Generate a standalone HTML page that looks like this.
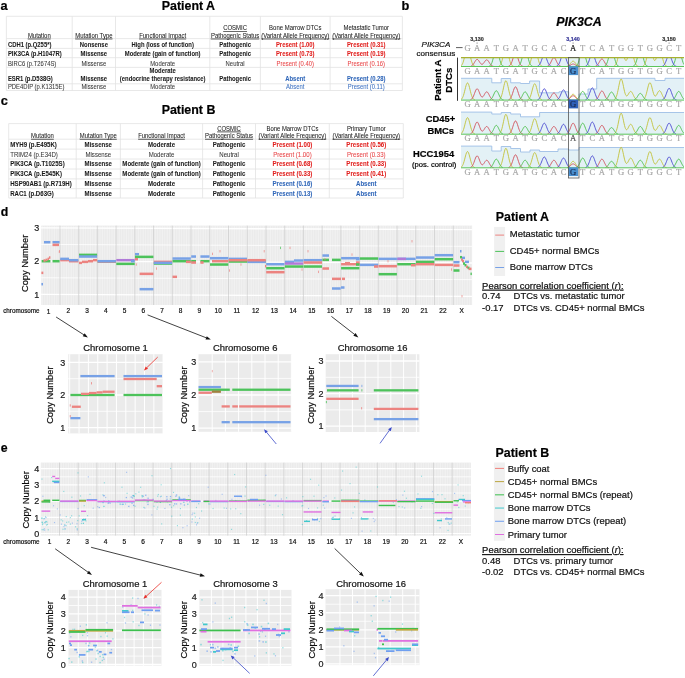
<!DOCTYPE html><html><head><meta charset="utf-8"><style>html,body{margin:0;padding:0;background:#fff;width:685px;height:678px;overflow:hidden}svg{display:block;filter:blur(0.3px)}text{stroke:currentColor;stroke-width:0.2px}text.tb{stroke-width:0.06px}</style></head><body><svg width="685" height="678" viewBox="0 0 685 678"><text x="0.60" y="9.90" font-size="12.8" font-weight="bold" font-style="normal" text-anchor="start" fill="#000" color="#000" font-family="Liberation Sans" >a</text>
<text x="188.40" y="10.20" font-size="12.4" font-weight="bold" font-style="normal" text-anchor="middle" fill="#000" color="#000" font-family="Liberation Sans" >Patient A</text>
<line x1="6.40" y1="16.30" x2="6.40" y2="90.50" stroke="#e2e2e2" stroke-width="0.8" />
<line x1="72.20" y1="16.30" x2="72.20" y2="90.50" stroke="#e2e2e2" stroke-width="0.8" />
<line x1="115.50" y1="16.30" x2="115.50" y2="90.50" stroke="#e2e2e2" stroke-width="0.8" />
<line x1="209.80" y1="16.30" x2="209.80" y2="90.50" stroke="#e2e2e2" stroke-width="0.8" />
<line x1="260.40" y1="16.30" x2="260.40" y2="90.50" stroke="#e2e2e2" stroke-width="0.8" />
<line x1="330.10" y1="16.30" x2="330.10" y2="90.50" stroke="#e2e2e2" stroke-width="0.8" />
<line x1="402.40" y1="16.30" x2="402.40" y2="90.50" stroke="#e2e2e2" stroke-width="0.8" />
<line x1="6.40" y1="16.30" x2="402.40" y2="16.30" stroke="#e2e2e2" stroke-width="0.8" />
<line x1="6.40" y1="38.60" x2="402.40" y2="38.60" stroke="#e2e2e2" stroke-width="0.8" />
<line x1="6.40" y1="48.40" x2="402.40" y2="48.40" stroke="#e2e2e2" stroke-width="0.8" />
<line x1="6.40" y1="57.70" x2="402.40" y2="57.70" stroke="#e2e2e2" stroke-width="0.8" />
<line x1="6.40" y1="67.40" x2="402.40" y2="67.40" stroke="#e2e2e2" stroke-width="0.8" />
<line x1="6.40" y1="83.80" x2="402.40" y2="83.80" stroke="#e2e2e2" stroke-width="0.8" />
<line x1="6.40" y1="90.50" x2="402.40" y2="90.50" stroke="#e2e2e2" stroke-width="0.8" />
<text class="tb" transform="translate(39.30,37.60) scale(0.915,1)" font-size="6.52" font-weight="normal" font-style="normal" text-anchor="middle" fill="#222" color="#222" font-family="Liberation Sans" text-decoration="underline">Mutation</text>
<text class="tb" transform="translate(93.85,37.60) scale(0.915,1)" font-size="6.52" font-weight="normal" font-style="normal" text-anchor="middle" fill="#222" color="#222" font-family="Liberation Sans" text-decoration="underline">Mutation Type</text>
<text class="tb" transform="translate(162.65,37.60) scale(0.915,1)" font-size="6.52" font-weight="normal" font-style="normal" text-anchor="middle" fill="#222" color="#222" font-family="Liberation Sans" text-decoration="underline">Functional Impact</text>
<text class="tb" transform="translate(235.10,30.20) scale(0.915,1)" font-size="6.52" font-weight="normal" font-style="normal" text-anchor="middle" fill="#222" color="#222" font-family="Liberation Sans" text-decoration="underline">COSMIC</text>
<text class="tb" transform="translate(235.10,37.60) scale(0.915,1)" font-size="6.52" font-weight="normal" font-style="normal" text-anchor="middle" fill="#222" color="#222" font-family="Liberation Sans" text-decoration="underline">Pathogenic Status</text>
<text class="tb" transform="translate(295.25,30.20) scale(0.915,1)" font-size="6.52" font-weight="normal" font-style="normal" text-anchor="middle" fill="#222" color="#222" font-family="Liberation Sans" >Bone Marrow DTCs</text>
<text class="tb" transform="translate(295.25,37.60) scale(0.915,1)" font-size="6.52" font-weight="normal" font-style="normal" text-anchor="middle" fill="#222" color="#222" font-family="Liberation Sans" text-decoration="underline">(Variant Allele Frequency)</text>
<text class="tb" transform="translate(366.25,30.20) scale(0.915,1)" font-size="6.52" font-weight="normal" font-style="normal" text-anchor="middle" fill="#222" color="#222" font-family="Liberation Sans" >Metastatic Tumor</text>
<text class="tb" transform="translate(366.25,37.60) scale(0.915,1)" font-size="6.52" font-weight="normal" font-style="normal" text-anchor="middle" fill="#222" color="#222" font-family="Liberation Sans" text-decoration="underline">(Variant Allele Frequency)</text>
<text class="tb" transform="translate(7.90,46.60) scale(0.905,1)" font-size="6.52" font-weight="bold" font-style="normal" text-anchor="start" fill="#1a1a1a" color="#1a1a1a" font-family="Liberation Sans" >CDH1 (p.Q255*)</text>
<text class="tb" transform="translate(93.85,46.60) scale(0.905,1)" font-size="6.52" font-weight="bold" font-style="normal" text-anchor="middle" fill="#1a1a1a" color="#1a1a1a" font-family="Liberation Sans" >Nonsense</text>
<text class="tb" transform="translate(162.65,46.60) scale(0.905,1)" font-size="6.52" font-weight="bold" font-style="normal" text-anchor="middle" fill="#1a1a1a" color="#1a1a1a" font-family="Liberation Sans" >High (loss of function)</text>
<text class="tb" transform="translate(235.10,46.60) scale(0.905,1)" font-size="6.52" font-weight="bold" font-style="normal" text-anchor="middle" fill="#1a1a1a" color="#1a1a1a" font-family="Liberation Sans" >Pathogenic</text>
<text class="tb" transform="translate(295.25,46.60) scale(0.905,1)" font-size="6.52" font-weight="bold" font-style="normal" text-anchor="middle" fill="#e0201e" color="#e0201e" font-family="Liberation Sans" >Present (1.00)</text>
<text class="tb" transform="translate(366.25,46.60) scale(0.905,1)" font-size="6.52" font-weight="bold" font-style="normal" text-anchor="middle" fill="#e0201e" color="#e0201e" font-family="Liberation Sans" >Present (0.31)</text>
<text class="tb" transform="translate(7.90,55.90) scale(0.905,1)" font-size="6.52" font-weight="bold" font-style="normal" text-anchor="start" fill="#1a1a1a" color="#1a1a1a" font-family="Liberation Sans" >PIK3CA (p.H1047R)</text>
<text class="tb" transform="translate(93.85,55.90) scale(0.905,1)" font-size="6.52" font-weight="bold" font-style="normal" text-anchor="middle" fill="#1a1a1a" color="#1a1a1a" font-family="Liberation Sans" >Missense</text>
<text class="tb" transform="translate(162.65,55.90) scale(0.905,1)" font-size="6.52" font-weight="bold" font-style="normal" text-anchor="middle" fill="#1a1a1a" color="#1a1a1a" font-family="Liberation Sans" >Moderate (gain of function)</text>
<text class="tb" transform="translate(235.10,55.90) scale(0.905,1)" font-size="6.52" font-weight="bold" font-style="normal" text-anchor="middle" fill="#1a1a1a" color="#1a1a1a" font-family="Liberation Sans" >Pathogenic</text>
<text class="tb" transform="translate(295.25,55.90) scale(0.905,1)" font-size="6.52" font-weight="bold" font-style="normal" text-anchor="middle" fill="#e0201e" color="#e0201e" font-family="Liberation Sans" >Present (0.73)</text>
<text class="tb" transform="translate(366.25,55.90) scale(0.905,1)" font-size="6.52" font-weight="bold" font-style="normal" text-anchor="middle" fill="#e0201e" color="#e0201e" font-family="Liberation Sans" >Present (0.19)</text>
<text class="tb" transform="translate(7.90,65.50) scale(0.905,1)" font-size="6.52" font-weight="normal" font-style="normal" text-anchor="start" fill="#383838" color="#383838" font-family="Liberation Sans" >BIRC6 (p.T2674S)</text>
<text class="tb" transform="translate(93.85,65.50) scale(0.905,1)" font-size="6.52" font-weight="normal" font-style="normal" text-anchor="middle" fill="#383838" color="#383838" font-family="Liberation Sans" >Missense</text>
<text class="tb" transform="translate(162.65,65.50) scale(0.905,1)" font-size="6.52" font-weight="normal" font-style="normal" text-anchor="middle" fill="#383838" color="#383838" font-family="Liberation Sans" >Moderate</text>
<text class="tb" transform="translate(235.10,65.50) scale(0.905,1)" font-size="6.52" font-weight="normal" font-style="normal" text-anchor="middle" fill="#383838" color="#383838" font-family="Liberation Sans" >Neutral</text>
<text class="tb" transform="translate(295.25,65.50) scale(0.905,1)" font-size="6.52" font-weight="normal" font-style="normal" text-anchor="middle" fill="#e8484a" color="#e8484a" font-family="Liberation Sans" >Present (0.40)</text>
<text class="tb" transform="translate(366.25,65.50) scale(0.905,1)" font-size="6.52" font-weight="normal" font-style="normal" text-anchor="middle" fill="#e8484a" color="#e8484a" font-family="Liberation Sans" >Present (0.16)</text>
<text class="tb" transform="translate(7.90,81.30) scale(0.905,1)" font-size="6.52" font-weight="bold" font-style="normal" text-anchor="start" fill="#1a1a1a" color="#1a1a1a" font-family="Liberation Sans" >ESR1 (p.D538G)</text>
<text class="tb" transform="translate(93.85,81.30) scale(0.905,1)" font-size="6.52" font-weight="bold" font-style="normal" text-anchor="middle" fill="#1a1a1a" color="#1a1a1a" font-family="Liberation Sans" >Missense</text>
<text class="tb" transform="translate(162.65,73.40) scale(0.905,1)" font-size="6.52" font-weight="bold" font-style="normal" text-anchor="middle" fill="#1a1a1a" color="#1a1a1a" font-family="Liberation Sans" >Moderate</text>
<text class="tb" transform="translate(162.65,81.30) scale(0.905,1)" font-size="6.52" font-weight="bold" font-style="normal" text-anchor="middle" fill="#1a1a1a" color="#1a1a1a" font-family="Liberation Sans" >(endocrine therapy resistance)</text>
<text class="tb" transform="translate(235.10,81.30) scale(0.905,1)" font-size="6.52" font-weight="bold" font-style="normal" text-anchor="middle" fill="#1a1a1a" color="#1a1a1a" font-family="Liberation Sans" >Pathogenic</text>
<text class="tb" transform="translate(295.25,81.30) scale(0.905,1)" font-size="6.52" font-weight="bold" font-style="normal" text-anchor="middle" fill="#2f66b8" color="#2f66b8" font-family="Liberation Sans" >Absent</text>
<text class="tb" transform="translate(366.25,81.30) scale(0.905,1)" font-size="6.52" font-weight="bold" font-style="normal" text-anchor="middle" fill="#2f66b8" color="#2f66b8" font-family="Liberation Sans" >Present (0.28)</text>
<text class="tb" transform="translate(7.90,89.00) scale(0.905,1)" font-size="6.52" font-weight="normal" font-style="normal" text-anchor="start" fill="#383838" color="#383838" font-family="Liberation Sans" >PDE4DIP (p.K1315E)</text>
<text class="tb" transform="translate(93.85,89.00) scale(0.905,1)" font-size="6.52" font-weight="normal" font-style="normal" text-anchor="middle" fill="#383838" color="#383838" font-family="Liberation Sans" >Missense</text>
<text class="tb" transform="translate(162.65,89.00) scale(0.905,1)" font-size="6.52" font-weight="normal" font-style="normal" text-anchor="middle" fill="#383838" color="#383838" font-family="Liberation Sans" >Moderate</text>
<text class="tb" transform="translate(295.25,89.00) scale(0.905,1)" font-size="6.52" font-weight="normal" font-style="normal" text-anchor="middle" fill="#3f72c2" color="#3f72c2" font-family="Liberation Sans" >Absent</text>
<text class="tb" transform="translate(366.25,89.00) scale(0.905,1)" font-size="6.52" font-weight="normal" font-style="normal" text-anchor="middle" fill="#3f72c2" color="#3f72c2" font-family="Liberation Sans" >Present (0.11)</text>
<text x="0.80" y="105.40" font-size="12.8" font-weight="bold" font-style="normal" text-anchor="start" fill="#000" color="#000" font-family="Liberation Sans" >c</text>
<text x="188.50" y="113.60" font-size="12.4" font-weight="bold" font-style="normal" text-anchor="middle" fill="#000" color="#000" font-family="Liberation Sans" >Patient B</text>
<line x1="8.70" y1="123.60" x2="8.70" y2="198.00" stroke="#e2e2e2" stroke-width="0.8" />
<line x1="76.20" y1="123.60" x2="76.20" y2="198.00" stroke="#e2e2e2" stroke-width="0.8" />
<line x1="120.40" y1="123.60" x2="120.40" y2="198.00" stroke="#e2e2e2" stroke-width="0.8" />
<line x1="202.60" y1="123.60" x2="202.60" y2="198.00" stroke="#e2e2e2" stroke-width="0.8" />
<line x1="255.50" y1="123.60" x2="255.50" y2="198.00" stroke="#e2e2e2" stroke-width="0.8" />
<line x1="329.30" y1="123.60" x2="329.30" y2="198.00" stroke="#e2e2e2" stroke-width="0.8" />
<line x1="403.30" y1="123.60" x2="403.30" y2="198.00" stroke="#e2e2e2" stroke-width="0.8" />
<line x1="8.70" y1="123.60" x2="403.30" y2="123.60" stroke="#e2e2e2" stroke-width="0.8" />
<line x1="8.70" y1="139.20" x2="403.30" y2="139.20" stroke="#e2e2e2" stroke-width="0.8" />
<line x1="8.70" y1="149.10" x2="403.30" y2="149.10" stroke="#e2e2e2" stroke-width="0.8" />
<line x1="8.70" y1="159.00" x2="403.30" y2="159.00" stroke="#e2e2e2" stroke-width="0.8" />
<line x1="8.70" y1="169.00" x2="403.30" y2="169.00" stroke="#e2e2e2" stroke-width="0.8" />
<line x1="8.70" y1="178.90" x2="403.30" y2="178.90" stroke="#e2e2e2" stroke-width="0.8" />
<line x1="8.70" y1="188.70" x2="403.30" y2="188.70" stroke="#e2e2e2" stroke-width="0.8" />
<line x1="8.70" y1="198.00" x2="403.30" y2="198.00" stroke="#e2e2e2" stroke-width="0.8" />
<text class="tb" transform="translate(42.45,137.80) scale(0.88,1)" font-size="6.74" font-weight="normal" font-style="normal" text-anchor="middle" fill="#222" color="#222" font-family="Liberation Sans" text-decoration="underline">Mutation</text>
<text class="tb" transform="translate(98.30,137.80) scale(0.88,1)" font-size="6.74" font-weight="normal" font-style="normal" text-anchor="middle" fill="#222" color="#222" font-family="Liberation Sans" text-decoration="underline">Mutation Type</text>
<text class="tb" transform="translate(161.50,137.80) scale(0.88,1)" font-size="6.74" font-weight="normal" font-style="normal" text-anchor="middle" fill="#222" color="#222" font-family="Liberation Sans" text-decoration="underline">Functional Impact</text>
<text class="tb" transform="translate(229.05,130.50) scale(0.88,1)" font-size="6.74" font-weight="normal" font-style="normal" text-anchor="middle" fill="#222" color="#222" font-family="Liberation Sans" text-decoration="underline">COSMIC</text>
<text class="tb" transform="translate(229.05,137.80) scale(0.88,1)" font-size="6.74" font-weight="normal" font-style="normal" text-anchor="middle" fill="#222" color="#222" font-family="Liberation Sans" text-decoration="underline">Pathogenic Status</text>
<text class="tb" transform="translate(292.40,130.50) scale(0.88,1)" font-size="6.74" font-weight="normal" font-style="normal" text-anchor="middle" fill="#222" color="#222" font-family="Liberation Sans" >Bone Marrow DTCs</text>
<text class="tb" transform="translate(292.40,137.80) scale(0.88,1)" font-size="6.74" font-weight="normal" font-style="normal" text-anchor="middle" fill="#222" color="#222" font-family="Liberation Sans" text-decoration="underline">(Variant Allele Frequency)</text>
<text class="tb" transform="translate(366.30,130.50) scale(0.88,1)" font-size="6.74" font-weight="normal" font-style="normal" text-anchor="middle" fill="#222" color="#222" font-family="Liberation Sans" >Primary Tumor</text>
<text class="tb" transform="translate(366.30,137.80) scale(0.88,1)" font-size="6.74" font-weight="normal" font-style="normal" text-anchor="middle" fill="#222" color="#222" font-family="Liberation Sans" text-decoration="underline">(Variant Allele Frequency)</text>
<text class="tb" transform="translate(10.20,146.60) scale(0.905,1)" font-size="6.74" font-weight="bold" font-style="normal" text-anchor="start" fill="#1a1a1a" color="#1a1a1a" font-family="Liberation Sans" >MYH9 (p.E495K)</text>
<text class="tb" transform="translate(98.30,146.60) scale(0.905,1)" font-size="6.74" font-weight="bold" font-style="normal" text-anchor="middle" fill="#1a1a1a" color="#1a1a1a" font-family="Liberation Sans" >Missense</text>
<text class="tb" transform="translate(161.50,146.60) scale(0.905,1)" font-size="6.74" font-weight="bold" font-style="normal" text-anchor="middle" fill="#1a1a1a" color="#1a1a1a" font-family="Liberation Sans" >Moderate</text>
<text class="tb" transform="translate(229.05,146.60) scale(0.905,1)" font-size="6.74" font-weight="bold" font-style="normal" text-anchor="middle" fill="#1a1a1a" color="#1a1a1a" font-family="Liberation Sans" >Pathogenic</text>
<text class="tb" transform="translate(292.40,146.60) scale(0.905,1)" font-size="6.74" font-weight="bold" font-style="normal" text-anchor="middle" fill="#e0201e" color="#e0201e" font-family="Liberation Sans" >Present (1.00)</text>
<text class="tb" transform="translate(366.30,146.60) scale(0.905,1)" font-size="6.74" font-weight="bold" font-style="normal" text-anchor="middle" fill="#e0201e" color="#e0201e" font-family="Liberation Sans" >Present (0.56)</text>
<text class="tb" transform="translate(10.20,156.52) scale(0.905,1)" font-size="6.74" font-weight="normal" font-style="normal" text-anchor="start" fill="#383838" color="#383838" font-family="Liberation Sans" >TRIM24 (p.E34D)</text>
<text class="tb" transform="translate(98.30,156.52) scale(0.905,1)" font-size="6.74" font-weight="normal" font-style="normal" text-anchor="middle" fill="#383838" color="#383838" font-family="Liberation Sans" >Missense</text>
<text class="tb" transform="translate(161.50,156.52) scale(0.905,1)" font-size="6.74" font-weight="normal" font-style="normal" text-anchor="middle" fill="#383838" color="#383838" font-family="Liberation Sans" >Moderate</text>
<text class="tb" transform="translate(229.05,156.52) scale(0.905,1)" font-size="6.74" font-weight="normal" font-style="normal" text-anchor="middle" fill="#383838" color="#383838" font-family="Liberation Sans" >Neutral</text>
<text class="tb" transform="translate(292.40,156.52) scale(0.905,1)" font-size="6.74" font-weight="normal" font-style="normal" text-anchor="middle" fill="#e8484a" color="#e8484a" font-family="Liberation Sans" >Present (1.00)</text>
<text class="tb" transform="translate(366.30,156.52) scale(0.905,1)" font-size="6.74" font-weight="normal" font-style="normal" text-anchor="middle" fill="#e8484a" color="#e8484a" font-family="Liberation Sans" >Present (0.33)</text>
<text class="tb" transform="translate(10.20,166.44) scale(0.905,1)" font-size="6.74" font-weight="bold" font-style="normal" text-anchor="start" fill="#1a1a1a" color="#1a1a1a" font-family="Liberation Sans" >PIK3CA (p.T1025S)</text>
<text class="tb" transform="translate(98.30,166.44) scale(0.905,1)" font-size="6.74" font-weight="bold" font-style="normal" text-anchor="middle" fill="#1a1a1a" color="#1a1a1a" font-family="Liberation Sans" >Missense</text>
<text class="tb" transform="translate(161.50,166.44) scale(0.905,1)" font-size="6.74" font-weight="bold" font-style="normal" text-anchor="middle" fill="#1a1a1a" color="#1a1a1a" font-family="Liberation Sans" >Moderate (gain of function)</text>
<text class="tb" transform="translate(229.05,166.44) scale(0.905,1)" font-size="6.74" font-weight="bold" font-style="normal" text-anchor="middle" fill="#1a1a1a" color="#1a1a1a" font-family="Liberation Sans" >Pathogenic</text>
<text class="tb" transform="translate(292.40,166.44) scale(0.905,1)" font-size="6.74" font-weight="bold" font-style="normal" text-anchor="middle" fill="#e0201e" color="#e0201e" font-family="Liberation Sans" >Present (0.68)</text>
<text class="tb" transform="translate(366.30,166.44) scale(0.905,1)" font-size="6.74" font-weight="bold" font-style="normal" text-anchor="middle" fill="#e0201e" color="#e0201e" font-family="Liberation Sans" >Present (0.33)</text>
<text class="tb" transform="translate(10.20,176.36) scale(0.905,1)" font-size="6.74" font-weight="bold" font-style="normal" text-anchor="start" fill="#1a1a1a" color="#1a1a1a" font-family="Liberation Sans" >PIK3CA (p.E545K)</text>
<text class="tb" transform="translate(98.30,176.36) scale(0.905,1)" font-size="6.74" font-weight="bold" font-style="normal" text-anchor="middle" fill="#1a1a1a" color="#1a1a1a" font-family="Liberation Sans" >Missense</text>
<text class="tb" transform="translate(161.50,176.36) scale(0.905,1)" font-size="6.74" font-weight="bold" font-style="normal" text-anchor="middle" fill="#1a1a1a" color="#1a1a1a" font-family="Liberation Sans" >Moderate (gain of function)</text>
<text class="tb" transform="translate(229.05,176.36) scale(0.905,1)" font-size="6.74" font-weight="bold" font-style="normal" text-anchor="middle" fill="#1a1a1a" color="#1a1a1a" font-family="Liberation Sans" >Pathogenic</text>
<text class="tb" transform="translate(292.40,176.36) scale(0.905,1)" font-size="6.74" font-weight="bold" font-style="normal" text-anchor="middle" fill="#e0201e" color="#e0201e" font-family="Liberation Sans" >Present (0.33)</text>
<text class="tb" transform="translate(366.30,176.36) scale(0.905,1)" font-size="6.74" font-weight="bold" font-style="normal" text-anchor="middle" fill="#e0201e" color="#e0201e" font-family="Liberation Sans" >Present (0.41)</text>
<text class="tb" transform="translate(10.20,186.28) scale(0.905,1)" font-size="6.74" font-weight="bold" font-style="normal" text-anchor="start" fill="#1a1a1a" color="#1a1a1a" font-family="Liberation Sans" >HSP90AB1 (p.R719H)</text>
<text class="tb" transform="translate(98.30,186.28) scale(0.905,1)" font-size="6.74" font-weight="bold" font-style="normal" text-anchor="middle" fill="#1a1a1a" color="#1a1a1a" font-family="Liberation Sans" >Missense</text>
<text class="tb" transform="translate(161.50,186.28) scale(0.905,1)" font-size="6.74" font-weight="bold" font-style="normal" text-anchor="middle" fill="#1a1a1a" color="#1a1a1a" font-family="Liberation Sans" >Moderate</text>
<text class="tb" transform="translate(229.05,186.28) scale(0.905,1)" font-size="6.74" font-weight="bold" font-style="normal" text-anchor="middle" fill="#1a1a1a" color="#1a1a1a" font-family="Liberation Sans" >Pathogenic</text>
<text class="tb" transform="translate(292.40,186.28) scale(0.905,1)" font-size="6.74" font-weight="bold" font-style="normal" text-anchor="middle" fill="#2f66b8" color="#2f66b8" font-family="Liberation Sans" >Present (0.16)</text>
<text class="tb" transform="translate(366.30,186.28) scale(0.905,1)" font-size="6.74" font-weight="bold" font-style="normal" text-anchor="middle" fill="#2f66b8" color="#2f66b8" font-family="Liberation Sans" >Absent</text>
<text class="tb" transform="translate(10.20,196.20) scale(0.905,1)" font-size="6.74" font-weight="bold" font-style="normal" text-anchor="start" fill="#1a1a1a" color="#1a1a1a" font-family="Liberation Sans" >RAC1 (p.D63G)</text>
<text class="tb" transform="translate(98.30,196.20) scale(0.905,1)" font-size="6.74" font-weight="bold" font-style="normal" text-anchor="middle" fill="#1a1a1a" color="#1a1a1a" font-family="Liberation Sans" >Missense</text>
<text class="tb" transform="translate(161.50,196.20) scale(0.905,1)" font-size="6.74" font-weight="bold" font-style="normal" text-anchor="middle" fill="#1a1a1a" color="#1a1a1a" font-family="Liberation Sans" >Moderate</text>
<text class="tb" transform="translate(229.05,196.20) scale(0.905,1)" font-size="6.74" font-weight="bold" font-style="normal" text-anchor="middle" fill="#1a1a1a" color="#1a1a1a" font-family="Liberation Sans" >Pathogenic</text>
<text class="tb" transform="translate(292.40,196.20) scale(0.905,1)" font-size="6.74" font-weight="bold" font-style="normal" text-anchor="middle" fill="#2f66b8" color="#2f66b8" font-family="Liberation Sans" >Present (0.13)</text>
<text class="tb" transform="translate(366.30,196.20) scale(0.905,1)" font-size="6.74" font-weight="bold" font-style="normal" text-anchor="middle" fill="#2f66b8" color="#2f66b8" font-family="Liberation Sans" >Absent</text>
<text x="401.50" y="9.80" font-size="12.8" font-weight="bold" font-style="normal" text-anchor="start" fill="#000" color="#000" font-family="Liberation Sans" >b</text>
<text x="579.00" y="25.80" font-size="12.4" font-weight="bold" font-style="italic" text-anchor="middle" fill="#000" color="#000" font-family="Liberation Sans" >PIK3CA</text>
<text x="477.10" y="41.20" font-size="5.4" font-weight="bold" font-style="normal" text-anchor="middle" fill="#333" color="#333" font-family="Liberation Sans" >3,130</text>
<text x="573.10" y="41.20" font-size="5.4" font-weight="bold" font-style="normal" text-anchor="middle" fill="#3a3a9a" color="#3a3a9a" font-family="Liberation Sans" >3,140</text>
<text x="669.10" y="41.20" font-size="5.4" font-weight="bold" font-style="normal" text-anchor="middle" fill="#333" color="#333" font-family="Liberation Sans" >3,150</text>
<line x1="477.10" y1="42.40" x2="477.10" y2="43.80" stroke="#555" stroke-width="0.6" />
<line x1="573.10" y1="42.40" x2="573.10" y2="43.80" stroke="#555" stroke-width="0.6" />
<line x1="669.10" y1="42.40" x2="669.10" y2="43.80" stroke="#555" stroke-width="0.6" />
<text x="450.30" y="47.00" font-size="8.1" font-weight="normal" font-style="italic" text-anchor="end" fill="#111" color="#111" font-family="Liberation Sans" >PIK3CA</text>
<text x="455.20" y="55.90" font-size="8.1" font-weight="normal" font-style="normal" text-anchor="end" fill="#111" color="#111" font-family="Liberation Sans" >consensus</text>
<line x1="456.00" y1="47.60" x2="462.60" y2="47.60" stroke="#333" stroke-width="0.8" />
<text x="467.50" y="50.60" font-size="8.6" font-weight="normal" font-style="normal" text-anchor="middle" fill="#a8a8a8" color="#a8a8a8" font-family="Liberation Serif" >G</text>
<text x="477.10" y="50.60" font-size="8.6" font-weight="normal" font-style="normal" text-anchor="middle" fill="#a8a8a8" color="#a8a8a8" font-family="Liberation Serif" >A</text>
<text x="486.70" y="50.60" font-size="8.6" font-weight="normal" font-style="normal" text-anchor="middle" fill="#a8a8a8" color="#a8a8a8" font-family="Liberation Serif" >A</text>
<text x="496.30" y="50.60" font-size="8.6" font-weight="normal" font-style="normal" text-anchor="middle" fill="#a8a8a8" color="#a8a8a8" font-family="Liberation Serif" >T</text>
<text x="505.90" y="50.60" font-size="8.6" font-weight="normal" font-style="normal" text-anchor="middle" fill="#a8a8a8" color="#a8a8a8" font-family="Liberation Serif" >G</text>
<text x="515.50" y="50.60" font-size="8.6" font-weight="normal" font-style="normal" text-anchor="middle" fill="#a8a8a8" color="#a8a8a8" font-family="Liberation Serif" >A</text>
<text x="525.10" y="50.60" font-size="8.6" font-weight="normal" font-style="normal" text-anchor="middle" fill="#a8a8a8" color="#a8a8a8" font-family="Liberation Serif" >T</text>
<text x="534.70" y="50.60" font-size="8.6" font-weight="normal" font-style="normal" text-anchor="middle" fill="#a8a8a8" color="#a8a8a8" font-family="Liberation Serif" >G</text>
<text x="544.30" y="50.60" font-size="8.6" font-weight="normal" font-style="normal" text-anchor="middle" fill="#a8a8a8" color="#a8a8a8" font-family="Liberation Serif" >C</text>
<text x="553.90" y="50.60" font-size="8.6" font-weight="normal" font-style="normal" text-anchor="middle" fill="#a8a8a8" color="#a8a8a8" font-family="Liberation Serif" >A</text>
<text x="563.50" y="50.60" font-size="8.6" font-weight="normal" font-style="normal" text-anchor="middle" fill="#a8a8a8" color="#a8a8a8" font-family="Liberation Serif" >C</text>
<text x="573.10" y="50.60" font-size="8.6" font-weight="normal" font-style="normal" text-anchor="middle" fill="#222" color="#222" font-family="Liberation Serif" >A</text>
<text x="582.70" y="50.60" font-size="8.6" font-weight="normal" font-style="normal" text-anchor="middle" fill="#a8a8a8" color="#a8a8a8" font-family="Liberation Serif" >T</text>
<text x="592.30" y="50.60" font-size="8.6" font-weight="normal" font-style="normal" text-anchor="middle" fill="#a8a8a8" color="#a8a8a8" font-family="Liberation Serif" >C</text>
<text x="601.90" y="50.60" font-size="8.6" font-weight="normal" font-style="normal" text-anchor="middle" fill="#a8a8a8" color="#a8a8a8" font-family="Liberation Serif" >A</text>
<text x="611.50" y="50.60" font-size="8.6" font-weight="normal" font-style="normal" text-anchor="middle" fill="#a8a8a8" color="#a8a8a8" font-family="Liberation Serif" >T</text>
<text x="621.10" y="50.60" font-size="8.6" font-weight="normal" font-style="normal" text-anchor="middle" fill="#a8a8a8" color="#a8a8a8" font-family="Liberation Serif" >G</text>
<text x="630.70" y="50.60" font-size="8.6" font-weight="normal" font-style="normal" text-anchor="middle" fill="#a8a8a8" color="#a8a8a8" font-family="Liberation Serif" >G</text>
<text x="640.30" y="50.60" font-size="8.6" font-weight="normal" font-style="normal" text-anchor="middle" fill="#a8a8a8" color="#a8a8a8" font-family="Liberation Serif" >T</text>
<text x="649.90" y="50.60" font-size="8.6" font-weight="normal" font-style="normal" text-anchor="middle" fill="#a8a8a8" color="#a8a8a8" font-family="Liberation Serif" >G</text>
<text x="659.50" y="50.60" font-size="8.6" font-weight="normal" font-style="normal" text-anchor="middle" fill="#a8a8a8" color="#a8a8a8" font-family="Liberation Serif" >G</text>
<text x="669.10" y="50.60" font-size="8.6" font-weight="normal" font-style="normal" text-anchor="middle" fill="#a8a8a8" color="#a8a8a8" font-family="Liberation Serif" >C</text>
<text x="678.70" y="50.60" font-size="8.6" font-weight="normal" font-style="normal" text-anchor="middle" fill="#a8a8a8" color="#a8a8a8" font-family="Liberation Serif" >T</text>
<defs><clipPath id="cp1"><rect x="461" y="57.6" width="223" height="9"/></clipPath><clipPath id="cp2"><rect x="461" y="70" width="223" height="31"/></clipPath><clipPath id="cp3"><rect x="461" y="104" width="223" height="31"/></clipPath><clipPath id="cp4"><rect x="461" y="138" width="223" height="31"/></clipPath></defs>
<path d="M461.00,66.50 L461.00,57.60 L684.00,57.60 L684.00,66.50 Z" fill="#e3f1f6" stroke="none"/>
<path d="M461.00,57.60 L684.00,57.60" fill="none" stroke="#9ec0e6" stroke-width="0.9"/>
<g clip-path="url(#cp1)">
<polyline points="461.0,65.83 461.5,65.40 462.0,64.76 462.5,63.85 463.0,62.63 463.5,61.06 464.0,59.15 464.5,56.97 465.0,54.62 465.5,52.28 466.0,50.15 466.5,48.43 467.0,47.31 467.5,46.92 468.0,47.31 468.5,48.43 469.0,50.15 469.5,52.28 470.0,54.62 470.5,56.97 471.0,59.15 471.5,61.06 472.0,62.63 472.5,63.85 473.0,64.76 473.5,65.40 474.0,65.83 474.5,66.11 475.0,66.28" fill="none" stroke="#c2c23a" stroke-width="0.9"/>
<polyline points="499.0,66.07 499.5,65.76 500.0,65.29 500.5,64.60 501.0,63.63 501.5,62.34 502.0,60.70 502.5,58.73 503.0,56.51 503.5,54.15 504.0,51.83 504.5,49.76 505.0,48.15 505.5,47.17 506.0,46.94 506.5,47.48 507.0,48.73 507.5,50.55 508.0,52.74 508.5,55.10 509.0,57.42 509.5,59.56 510.0,61.40 510.5,62.90 511.0,64.06 511.5,64.91 512.0,65.50 512.5,65.90 513.0,66.15 513.5,66.31" fill="none" stroke="#c2c23a" stroke-width="0.9"/>
<polyline points="527.5,66.19 528.0,65.96 528.5,65.60 529.0,65.04 529.5,64.25 530.0,63.16 530.5,61.73 531.0,59.95 531.5,57.87 532.0,55.57 532.5,53.21 533.0,50.96 533.5,49.05 534.0,47.67 534.5,46.98 535.0,47.06 535.5,47.90 536.0,49.40 536.5,51.39 537.0,53.68 537.5,56.04 538.0,58.31 538.5,60.33 539.0,62.04 539.5,63.40 540.0,64.43 540.5,65.17 541.0,65.68 541.5,66.02 542.0,66.22 542.5,66.35" fill="none" stroke="#c2c23a" stroke-width="0.9"/>
<polyline points="567.0,66.23 567.5,66.07 568.0,65.83 568.5,65.52 569.0,65.11 569.5,64.61 570.0,64.02 570.5,63.39 571.0,62.75 571.5,62.15 572.0,61.65 572.5,61.31 573.0,61.16 573.5,61.23 574.0,61.50 574.5,61.93 575.0,62.50 575.5,63.13 576.0,63.78 576.5,64.38 577.0,64.92 577.5,65.37 578.0,65.72 578.5,65.98 579.0,66.17 579.5,66.30" fill="none" stroke="#c2c23a" stroke-width="0.9"/>
<polyline points="614.0,66.15 614.5,65.90 615.0,65.50 615.5,64.91 616.0,64.06 616.5,62.90 617.0,61.40 617.5,59.56 618.0,57.42 618.5,55.10 619.0,52.74 619.5,50.55 620.0,48.73 620.5,47.48 621.0,46.93 621.5,47.15 622.0,48.11 622.5,49.68 623.0,51.68 623.5,53.87 624.0,56.02 624.5,57.91 625.0,59.38 625.5,60.29 626.0,60.59 626.5,60.26 627.0,59.34 627.5,57.91 628.0,56.13 628.5,54.17 629.0,52.24 629.5,50.57 630.0,49.35 630.5,48.74 631.0,48.82 631.5,49.59 632.0,50.95 632.5,52.76 633.0,54.84 633.5,56.99 634.0,59.05 634.5,60.89 635.0,62.44 635.5,63.68 636.0,64.62 636.5,65.29 637.0,65.76 637.5,66.06 638.0,66.25 638.5,66.36" fill="none" stroke="#c2c23a" stroke-width="0.9"/>
<polyline points="643.0,66.07 643.5,65.76 644.0,65.29 644.5,64.60 645.0,63.63 645.5,62.34 646.0,60.70 646.5,58.73 647.0,56.51 647.5,54.15 648.0,51.83 648.5,49.76 649.0,48.15 649.5,47.17 650.0,46.92 650.5,47.45 651.0,48.67 651.5,50.44 652.0,52.54 652.5,54.75 653.0,56.82 653.5,58.56 654.0,59.81 654.5,60.49 655.0,60.53 655.5,59.96 656.0,58.82 656.5,57.24 657.0,55.36 657.5,53.38 658.0,51.53 658.5,50.02 659.0,49.03 659.5,48.69 660.0,49.05 660.5,50.07 661.0,51.63 661.5,53.57 662.0,55.70 662.5,57.84 663.0,59.82 663.5,61.55 664.0,62.98 664.5,64.09 665.0,64.92 665.5,65.50 666.0,65.89 666.5,66.15 667.0,66.30" fill="none" stroke="#c2c23a" stroke-width="0.9"/>
<polyline points="471.0,66.14 471.5,65.92 472.0,65.61 472.5,65.19 473.0,64.64 473.5,63.98 474.0,63.20 474.5,62.35 475.0,61.50 475.5,60.70 476.0,60.04 476.5,59.58 477.0,59.38 477.5,59.46 478.0,59.81 478.5,60.38 479.0,61.11 479.5,61.90 480.0,62.68 480.5,63.37 481.0,63.90 481.5,64.22 482.0,64.32 482.5,64.18 483.0,63.83 483.5,63.29 484.0,62.62 484.5,61.88 485.0,61.15 485.5,60.53 486.0,60.07 486.5,59.84 487.0,59.87 487.5,60.16 488.0,60.67 488.5,61.35 489.0,62.13 489.5,62.93 490.0,63.71 490.5,64.40 491.0,64.98 491.5,65.44 492.0,65.79 492.5,66.05 493.0,66.22 493.5,66.33" fill="none" stroke="#d0505a" stroke-width="0.9"/>
<polyline points="508.5,66.24 509.0,66.05 509.5,65.75 510.0,65.31 510.5,64.69 511.0,63.86 511.5,62.79 512.0,61.49 512.5,60.00 513.0,58.40 513.5,56.81 514.0,55.35 514.5,54.18 515.0,53.41 515.5,53.15 516.0,53.41 516.5,54.18 517.0,55.35 517.5,56.81 518.0,58.40 518.5,60.00 519.0,61.49 519.5,62.79 520.0,63.86 520.5,64.69 521.0,65.31 521.5,65.75 522.0,66.05 522.5,66.24 523.0,66.35" fill="none" stroke="#d0505a" stroke-width="0.9"/>
<polyline points="547.5,66.16 548.0,65.95 548.5,65.64 549.0,65.20 549.5,64.61 550.0,63.86 550.5,62.97 551.0,61.96 551.5,60.89 552.0,59.83 552.5,58.89 553.0,58.16 553.5,57.71 554.0,57.61 554.5,57.85 555.0,58.42 555.5,59.25 556.0,60.25 556.5,61.32 557.0,62.37 557.5,63.34 558.0,64.18 558.5,64.86 559.0,65.39 559.5,65.78 560.0,66.05 560.5,66.23 561.0,66.34" fill="none" stroke="#d0505a" stroke-width="0.9"/>
<polyline points="568.0,66.19 568.5,66.04 569.0,65.85 569.5,65.62 570.0,65.34 570.5,65.05 571.0,64.75 571.5,64.47 572.0,64.24 572.5,64.08 573.0,64.01 573.5,64.04 574.0,64.16 574.5,64.37 575.0,64.63 575.5,64.93 576.0,65.23 576.5,65.51 577.0,65.76 577.5,65.97 578.0,66.13 578.5,66.26" fill="none" stroke="#d0505a" stroke-width="0.9"/>
<polyline points="595.5,66.21 596.0,66.03 596.5,65.77 597.0,65.39 597.5,64.89 598.0,64.26 598.5,63.50 599.0,62.64 599.5,61.73 600.0,60.83 600.5,60.03 601.0,59.41 601.5,59.03 602.0,58.94 602.5,59.15 603.0,59.63 603.5,60.34 604.0,61.18 604.5,62.10 605.0,62.99 605.5,63.82 606.0,64.53 606.5,65.11 607.0,65.56 607.5,65.88 608.0,66.11 608.5,66.27" fill="none" stroke="#d0505a" stroke-width="0.9"/>
<polyline points="489.0,66.25 489.5,66.06 490.0,65.76 490.5,65.29 491.0,64.62 491.5,63.68 492.0,62.44 492.5,60.89 493.0,59.05 493.5,56.99 494.0,54.84 494.5,52.76 495.0,50.95 495.5,49.59 496.0,48.83 496.5,48.76 497.0,49.38 497.5,50.64 498.0,52.37 498.5,54.41 499.0,56.57 499.5,58.65 500.0,60.55 500.5,62.16 501.0,63.46 501.5,64.45 502.0,65.18 502.5,65.68 503.0,66.01 503.5,66.22 504.0,66.34" fill="none" stroke="#4cc04c" stroke-width="0.9"/>
<polyline points="518.0,66.18 518.5,65.95 519.0,65.59 519.5,65.05 520.0,64.28 520.5,63.22 521.0,61.86 521.5,60.19 522.0,58.25 522.5,56.14 523.0,53.99 523.5,52.00 524.0,50.34 524.5,49.21 525.0,48.71 525.5,48.93 526.0,49.82 526.5,51.28 527.0,53.16 527.5,55.27 528.0,57.42 528.5,59.44 529.0,61.23 529.5,62.72 530.0,63.89 530.5,64.77 531.0,65.40 531.5,65.83 532.0,66.11 532.5,66.28" fill="none" stroke="#4cc04c" stroke-width="0.9"/>
<polyline points="575.5,66.22 576.0,66.01 576.5,65.68 577.0,65.18 577.5,64.45 578.0,63.46 578.5,62.16 579.0,60.55 579.5,58.65 580.0,56.57 580.5,54.41 581.0,52.37 581.5,50.64 582.0,49.38 582.5,48.76 583.0,48.83 583.5,49.59 584.0,50.95 584.5,52.76 585.0,54.84 585.5,56.99 586.0,59.05 586.5,60.89 587.0,62.44 587.5,63.68 588.0,64.62 588.5,65.29 589.0,65.76 589.5,66.06 590.0,66.25 590.5,66.36" fill="none" stroke="#4cc04c" stroke-width="0.9"/>
<polyline points="604.5,66.15 605.0,65.89 605.5,65.50 606.0,64.92 606.5,64.09 607.0,62.98 607.5,61.55 608.0,59.82 608.5,57.84 609.0,55.70 609.5,53.57 610.0,51.63 610.5,50.07 611.0,49.05 611.5,48.70 612.0,49.05 612.5,50.07 613.0,51.63 613.5,53.57 614.0,55.70 614.5,57.84 615.0,59.82 615.5,61.55 616.0,62.98 616.5,64.09 617.0,64.92 617.5,65.50 618.0,65.89 618.5,66.15 619.0,66.30" fill="none" stroke="#4cc04c" stroke-width="0.9"/>
<polyline points="633.0,66.25 633.5,66.06 634.0,65.76 634.5,65.29 635.0,64.62 635.5,63.68 636.0,62.44 636.5,60.89 637.0,59.05 637.5,56.99 638.0,54.84 638.5,52.76 639.0,50.95 639.5,49.59 640.0,48.83 640.5,48.76 641.0,49.38 641.5,50.64 642.0,52.37 642.5,54.41 643.0,56.57 643.5,58.65 644.0,60.55 644.5,62.16 645.0,63.46 645.5,64.45 646.0,65.18 646.5,65.68 647.0,66.01 647.5,66.22 648.0,66.34" fill="none" stroke="#4cc04c" stroke-width="0.9"/>
<polyline points="671.5,66.22 672.0,66.01 672.5,65.68 673.0,65.18 673.5,64.45 674.0,63.46 674.5,62.16 675.0,60.55 675.5,58.65 676.0,56.57 676.5,54.41 677.0,52.37 677.5,50.64 678.0,49.38 678.5,48.76 679.0,48.83 679.5,49.59 680.0,50.95 680.5,52.76 681.0,54.84 681.5,56.99 682.0,59.05 682.5,60.89 683.0,62.44 683.5,63.68 684.0,64.62" fill="none" stroke="#4cc04c" stroke-width="0.9"/>
<polyline points="537.5,66.21 538.0,66.02 538.5,65.72 539.0,65.28 539.5,64.67 540.0,63.86 540.5,62.86 541.0,61.66 541.5,60.32 542.0,58.92 542.5,57.57 543.0,56.39 543.5,55.51 544.0,55.01 544.5,54.97 545.0,55.37 545.5,56.19 546.0,57.32 546.5,58.64 547.0,60.04 547.5,61.40 548.0,62.63 548.5,63.68 549.0,64.52 549.5,65.17 550.0,65.64 550.5,65.97 551.0,66.18 551.5,66.32" fill="none" stroke="#4a4ad0" stroke-width="0.9"/>
<polyline points="556.5,66.24 557.0,66.05 557.5,65.75 558.0,65.31 558.5,64.69 559.0,63.86 559.5,62.79 560.0,61.49 560.5,60.00 561.0,58.40 561.5,56.81 562.0,55.35 562.5,54.18 563.0,53.41 563.5,53.15 564.0,53.41 564.5,54.18 565.0,55.35 565.5,56.81 566.0,58.40 566.5,60.00 567.0,61.49 567.5,62.79 568.0,63.86 568.5,64.69 569.0,65.31 569.5,65.75 570.0,66.05 570.5,66.24 571.0,66.35" fill="none" stroke="#4a4ad0" stroke-width="0.9"/>
<polyline points="585.5,66.17 586.0,65.94 586.5,65.59 587.0,65.09 587.5,64.39 588.0,63.46 588.5,62.29 589.0,60.91 589.5,59.37 590.0,57.76 590.5,56.20 591.0,54.84 591.5,53.82 592.0,53.25 592.5,53.19 593.0,53.66 593.5,54.60 594.0,55.91 594.5,57.44 595.0,59.05 595.5,60.62 596.0,62.03 596.5,63.24 597.0,64.22 597.5,64.97 598.0,65.51 598.5,65.88 599.0,66.13 599.5,66.29" fill="none" stroke="#4a4ad0" stroke-width="0.9"/>
<polyline points="662.5,66.15 663.0,65.91 663.5,65.56 664.0,65.06 664.5,64.37 665.0,63.48 665.5,62.40 666.0,61.14 666.5,59.76 667.0,58.37 667.5,57.07 668.0,56.00 668.5,55.26 669.0,54.94 669.5,55.08 670.0,55.66 670.5,56.61 671.0,57.83 671.5,59.20 672.0,60.60 672.5,61.91 673.0,63.07 673.5,64.04 674.0,64.81 674.5,65.38 675.0,65.79 675.5,66.06 676.0,66.24 676.5,66.36" fill="none" stroke="#4a4ad0" stroke-width="0.9"/>
</g>
<line x1="461.00" y1="66.50" x2="684.00" y2="66.50" stroke="#5cc45c" stroke-width="1.0" />
<line x1="461.00" y1="57.60" x2="684.00" y2="57.60" stroke="#a8b030" stroke-width="1.1" />
<text x="467.50" y="73.50" font-size="8.6" font-weight="normal" font-style="normal" text-anchor="middle" fill="#a8a8a8" color="#a8a8a8" font-family="Liberation Serif" >G</text>
<text x="477.10" y="73.50" font-size="8.6" font-weight="normal" font-style="normal" text-anchor="middle" fill="#a8a8a8" color="#a8a8a8" font-family="Liberation Serif" >A</text>
<text x="486.70" y="73.50" font-size="8.6" font-weight="normal" font-style="normal" text-anchor="middle" fill="#a8a8a8" color="#a8a8a8" font-family="Liberation Serif" >A</text>
<text x="496.30" y="73.50" font-size="8.6" font-weight="normal" font-style="normal" text-anchor="middle" fill="#a8a8a8" color="#a8a8a8" font-family="Liberation Serif" >T</text>
<text x="505.90" y="73.50" font-size="8.6" font-weight="normal" font-style="normal" text-anchor="middle" fill="#a8a8a8" color="#a8a8a8" font-family="Liberation Serif" >G</text>
<text x="515.50" y="73.50" font-size="8.6" font-weight="normal" font-style="normal" text-anchor="middle" fill="#a8a8a8" color="#a8a8a8" font-family="Liberation Serif" >A</text>
<text x="525.10" y="73.50" font-size="8.6" font-weight="normal" font-style="normal" text-anchor="middle" fill="#a8a8a8" color="#a8a8a8" font-family="Liberation Serif" >T</text>
<text x="534.70" y="73.50" font-size="8.6" font-weight="normal" font-style="normal" text-anchor="middle" fill="#a8a8a8" color="#a8a8a8" font-family="Liberation Serif" >G</text>
<text x="544.30" y="73.50" font-size="8.6" font-weight="normal" font-style="normal" text-anchor="middle" fill="#a8a8a8" color="#a8a8a8" font-family="Liberation Serif" >C</text>
<text x="553.90" y="73.50" font-size="8.6" font-weight="normal" font-style="normal" text-anchor="middle" fill="#a8a8a8" color="#a8a8a8" font-family="Liberation Serif" >A</text>
<text x="563.50" y="73.50" font-size="8.6" font-weight="normal" font-style="normal" text-anchor="middle" fill="#a8a8a8" color="#a8a8a8" font-family="Liberation Serif" >C</text>
<rect x="568.10" y="66.30" width="10.00" height="8.80" fill="#4a90d0" />
<text x="573.10" y="73.50" font-size="8.6" font-weight="normal" font-style="normal" text-anchor="middle" fill="#1a2a50" color="#1a2a50" font-family="Liberation Serif" >G</text>
<text x="582.70" y="73.50" font-size="8.6" font-weight="normal" font-style="normal" text-anchor="middle" fill="#a8a8a8" color="#a8a8a8" font-family="Liberation Serif" >T</text>
<text x="592.30" y="73.50" font-size="8.6" font-weight="normal" font-style="normal" text-anchor="middle" fill="#a8a8a8" color="#a8a8a8" font-family="Liberation Serif" >C</text>
<text x="601.90" y="73.50" font-size="8.6" font-weight="normal" font-style="normal" text-anchor="middle" fill="#a8a8a8" color="#a8a8a8" font-family="Liberation Serif" >A</text>
<text x="611.50" y="73.50" font-size="8.6" font-weight="normal" font-style="normal" text-anchor="middle" fill="#a8a8a8" color="#a8a8a8" font-family="Liberation Serif" >T</text>
<text x="621.10" y="73.50" font-size="8.6" font-weight="normal" font-style="normal" text-anchor="middle" fill="#a8a8a8" color="#a8a8a8" font-family="Liberation Serif" >G</text>
<text x="630.70" y="73.50" font-size="8.6" font-weight="normal" font-style="normal" text-anchor="middle" fill="#a8a8a8" color="#a8a8a8" font-family="Liberation Serif" >G</text>
<text x="640.30" y="73.50" font-size="8.6" font-weight="normal" font-style="normal" text-anchor="middle" fill="#a8a8a8" color="#a8a8a8" font-family="Liberation Serif" >T</text>
<text x="649.90" y="73.50" font-size="8.6" font-weight="normal" font-style="normal" text-anchor="middle" fill="#a8a8a8" color="#a8a8a8" font-family="Liberation Serif" >G</text>
<text x="659.50" y="73.50" font-size="8.6" font-weight="normal" font-style="normal" text-anchor="middle" fill="#a8a8a8" color="#a8a8a8" font-family="Liberation Serif" >G</text>
<text x="669.10" y="73.50" font-size="8.6" font-weight="normal" font-style="normal" text-anchor="middle" fill="#a8a8a8" color="#a8a8a8" font-family="Liberation Serif" >C</text>
<text x="678.70" y="73.50" font-size="8.6" font-weight="normal" font-style="normal" text-anchor="middle" fill="#a8a8a8" color="#a8a8a8" font-family="Liberation Serif" >T</text>
<path d="M461.00,100.10 L461.00,78.30 L491.80,78.30 L491.80,82.80 L501.20,82.80 L501.20,78.50 L510.70,78.50 L510.70,82.80 L520.50,82.80 L520.50,83.50 L529.60,83.50 L529.60,81.00 L539.60,81.00 L539.60,92.80 L559.00,92.80 L559.00,91.80 L568.70,91.80 L568.70,100.00 L579.00,100.00 L579.00,94.00 L588.00,94.00 L588.00,89.00 L596.70,89.00 L596.70,78.30 L655.00,78.30 L655.00,80.50 L665.00,80.50 L665.00,78.30 L684.00,78.30 L684.00,100.10 Z" fill="#e3f1f6" stroke="none"/>
<path d="M461.00,78.30 L491.80,78.30 L491.80,82.80 L501.20,82.80 L501.20,78.50 L510.70,78.50 L510.70,82.80 L520.50,82.80 L520.50,83.50 L529.60,83.50 L529.60,81.00 L539.60,81.00 L539.60,92.80 L559.00,92.80 L559.00,91.80 L568.70,91.80 L568.70,100.00 L579.00,100.00 L579.00,94.00 L588.00,94.00 L588.00,89.00 L596.70,89.00 L596.70,78.30 L655.00,78.30 L655.00,80.50 L665.00,80.50 L665.00,78.30 L684.00,78.30" fill="none" stroke="#9ec0e6" stroke-width="0.9"/>
<g clip-path="url(#cp2)">
<polyline points="461.0,99.51 461.5,99.13 462.0,98.57 462.5,97.77 463.0,96.69 463.5,95.31 464.0,93.64 464.5,91.72 465.0,89.65 465.5,87.59 466.0,85.71 466.5,84.20 467.0,83.22 467.5,82.88 468.0,83.22 468.5,84.20 469.0,85.71 469.5,87.59 470.0,89.65 470.5,91.72 471.0,93.64 471.5,95.31 472.0,96.69 472.5,97.77 473.0,98.57 473.5,99.13 474.0,99.51 474.5,99.76 475.0,99.91" fill="none" stroke="#c2c23a" stroke-width="0.9"/>
<polyline points="499.0,99.67 499.5,99.37 500.0,98.90 500.5,98.22 501.0,97.26 501.5,95.98 502.0,94.35 502.5,92.40 503.0,90.20 503.5,87.86 504.0,85.56 504.5,83.51 505.0,81.92 505.5,80.94 506.0,80.71 506.5,81.25 507.0,82.49 507.5,84.29 508.0,86.47 508.5,88.80 509.0,91.11 509.5,93.22 510.0,95.04 510.5,96.53 511.0,97.68 511.5,98.52 512.0,99.11 512.5,99.51 513.0,99.76 513.5,99.91" fill="none" stroke="#c2c23a" stroke-width="0.9"/>
<polyline points="527.5,99.84 528.0,99.65 528.5,99.34 529.0,98.88 529.5,98.22 530.0,97.31 530.5,96.11 531.0,94.63 531.5,92.89 532.0,90.97 532.5,89.00 533.0,87.12 533.5,85.53 534.0,84.38 534.5,83.80 535.0,83.87 535.5,84.57 536.0,85.82 536.5,87.48 537.0,89.39 537.5,91.37 538.0,93.26 538.5,94.95 539.0,96.38 539.5,97.51 540.0,98.37 540.5,98.99 541.0,99.42 541.5,99.70 542.0,99.87" fill="none" stroke="#c2c23a" stroke-width="0.9"/>
<polyline points="567.0,99.80 567.5,99.62 568.0,99.37 568.5,99.02 569.0,98.57 569.5,98.01 570.0,97.37 570.5,96.67 571.0,95.96 571.5,95.30 572.0,94.76 572.5,94.38 573.0,94.22 573.5,94.29 574.0,94.58 574.5,95.07 575.0,95.69 575.5,96.39 576.0,97.10 576.5,97.77 577.0,98.36 577.5,98.85 578.0,99.24 578.5,99.53 579.0,99.74 579.5,99.88" fill="none" stroke="#c2c23a" stroke-width="0.9"/>
<polyline points="614.0,99.73 614.5,99.45 615.0,99.02 615.5,98.38 616.0,97.46 616.5,96.21 617.0,94.59 617.5,92.60 618.0,90.30 618.5,87.79 619.0,85.24 619.5,82.87 620.0,80.90 620.5,79.55 621.0,78.97 621.5,79.21 622.0,80.26 622.5,81.98 623.0,84.18 623.5,86.62 624.0,89.07 624.5,91.31 625.0,93.19 625.5,94.60 626.0,95.51 626.5,95.92 627.0,95.88 627.5,95.46 628.0,94.76 628.5,93.91 629.0,93.04 629.5,92.25 630.0,91.68 630.5,91.39 631.0,91.43 631.5,91.82 632.0,92.48 632.5,93.37 633.0,94.39 633.5,95.44 634.0,96.45 634.5,97.35 635.0,98.11 635.5,98.72 636.0,99.18 636.5,99.51 637.0,99.74 637.5,99.88" fill="none" stroke="#c2c23a" stroke-width="0.9"/>
<polyline points="643.0,99.71 643.5,99.44 644.0,99.02 644.5,98.41 645.0,97.55 645.5,96.39 646.0,94.93 646.5,93.18 647.0,91.20 647.5,89.10 648.0,87.03 648.5,85.19 649.0,83.75 649.5,82.88 650.0,82.67 650.5,83.14 651.0,84.24 651.5,85.83 652.0,87.74 652.5,89.76 653.0,91.70 653.5,93.39 654.0,94.72 654.5,95.62 655.0,96.07 655.5,96.07 656.0,95.69 656.5,95.00 657.0,94.11 657.5,93.12 658.0,92.18 658.5,91.40 659.0,90.89 659.5,90.72 660.0,90.91 660.5,91.45 661.0,92.27 661.5,93.29 662.0,94.41 662.5,95.54 663.0,96.58 663.5,97.49 664.0,98.24 664.5,98.83 665.0,99.27 665.5,99.57 666.0,99.78 666.5,99.91" fill="none" stroke="#c2c23a" stroke-width="0.9"/>
<polyline points="470.5,99.75 471.0,99.52 471.5,99.18 472.0,98.68 472.5,98.01 473.0,97.15 473.5,96.08 474.0,94.84 474.5,93.50 475.0,92.13 475.5,90.86 476.0,89.81 476.5,89.09 477.0,88.77 477.5,88.90 478.0,89.46 478.5,90.37 479.0,91.54 479.5,92.82 480.0,94.09 480.5,95.22 481.0,96.13 481.5,96.74 482.0,97.02 482.5,96.98 483.0,96.63 483.5,96.02 484.0,95.23 484.5,94.33 485.0,93.45 485.5,92.68 486.0,92.11 486.5,91.83 487.0,91.87 487.5,92.23 488.0,92.86 488.5,93.71 489.0,94.67 489.5,95.68 490.0,96.63 490.5,97.49 491.0,98.21 491.5,98.79 492.0,99.22 492.5,99.54 493.0,99.75 493.5,99.90" fill="none" stroke="#d0505a" stroke-width="0.9"/>
<polyline points="508.5,99.84 509.0,99.65 509.5,99.35 510.0,98.92 510.5,98.30 511.0,97.47 511.5,96.40 512.0,95.11 512.5,93.63 513.0,92.03 513.5,90.44 514.0,88.99 514.5,87.82 515.0,87.07 515.5,86.80 516.0,87.07 516.5,87.82 517.0,88.99 517.5,90.44 518.0,92.03 518.5,93.63 519.0,95.11 519.5,96.40 520.0,97.47 520.5,98.30 521.0,98.92 521.5,99.35 522.0,99.65 522.5,99.84 523.0,99.95" fill="none" stroke="#d0505a" stroke-width="0.9"/>
<polyline points="547.5,99.83 548.0,99.66 548.5,99.40 549.0,99.05 549.5,98.57 550.0,97.97 550.5,97.25 551.0,96.43 551.5,95.56 552.0,94.71 552.5,93.95 553.0,93.36 553.5,93.00 554.0,92.91 554.5,93.11 555.0,93.57 555.5,94.24 556.0,95.04 556.5,95.91 557.0,96.77 557.5,97.55 558.0,98.23 558.5,98.78 559.0,99.20 559.5,99.51 560.0,99.73 560.5,99.88" fill="none" stroke="#d0505a" stroke-width="0.9"/>
<polyline points="567.5,99.75 568.0,99.56 568.5,99.30 569.0,98.96 569.5,98.55 570.0,98.08 570.5,97.56 571.0,97.04 571.5,96.55 572.0,96.14 572.5,95.86 573.0,95.74 573.5,95.80 574.0,96.01 574.5,96.37 575.0,96.83 575.5,97.35 576.0,97.88 576.5,98.37 577.0,98.81 577.5,99.17 578.0,99.46 578.5,99.68 579.0,99.83 579.5,99.94" fill="none" stroke="#d0505a" stroke-width="0.9"/>
<polyline points="595.5,99.75 596.0,99.53 596.5,99.21 597.0,98.76 597.5,98.15 598.0,97.39 598.5,96.47 599.0,95.43 599.5,94.32 600.0,93.24 600.5,92.27 601.0,91.52 601.5,91.06 602.0,90.95 602.5,91.20 603.0,91.79 603.5,92.64 604.0,93.67 604.5,94.77 605.0,95.86 605.5,96.85 606.0,97.71 606.5,98.42 607.0,98.96 607.5,99.36 608.0,99.63 608.5,99.82 609.0,99.94" fill="none" stroke="#d0505a" stroke-width="0.9"/>
<polyline points="490.0,99.71 490.5,99.46 491.0,99.11 491.5,98.62 492.0,97.96 492.5,97.15 493.0,96.18 493.5,95.09 494.0,93.96 494.5,92.87 495.0,91.91 495.5,91.19 496.0,90.79 496.5,90.76 497.0,91.09 497.5,91.75 498.0,92.66 498.5,93.74 499.0,94.87 499.5,95.97 500.0,96.96 500.5,97.81 501.0,98.50 501.5,99.02 502.0,99.40 502.5,99.67 503.0,99.84 503.5,99.95" fill="none" stroke="#4cc04c" stroke-width="0.9"/>
<polyline points="518.5,99.85 519.0,99.68 519.5,99.43 520.0,99.07 520.5,98.58 521.0,97.94 521.5,97.16 522.0,96.26 522.5,95.28 523.0,94.28 523.5,93.35 524.0,92.58 524.5,92.05 525.0,91.82 525.5,91.92 526.0,92.34 526.5,93.02 527.0,93.89 527.5,94.87 528.0,95.87 528.5,96.81 529.0,97.65 529.5,98.34 530.0,98.89 530.5,99.30 531.0,99.59 531.5,99.79 532.0,99.92" fill="none" stroke="#4cc04c" stroke-width="0.9"/>
<polyline points="576.5,99.70 577.0,99.45 577.5,99.10 578.0,98.61 578.5,97.97 579.0,97.18 579.5,96.26 580.0,95.23 580.5,94.18 581.0,93.18 581.5,92.33 582.0,91.72 582.5,91.41 583.0,91.44 583.5,91.82 584.0,92.48 584.5,93.37 585.0,94.39 585.5,95.44 586.0,96.45 586.5,97.35 587.0,98.11 587.5,98.72 588.0,99.18 588.5,99.51 589.0,99.74 589.5,99.88" fill="none" stroke="#4cc04c" stroke-width="0.9"/>
<polyline points="605.0,99.83 605.5,99.65 606.0,99.38 606.5,99.01 607.0,98.50 607.5,97.86 608.0,97.07 608.5,96.17 609.0,95.21 609.5,94.24 610.0,93.36 610.5,92.65 611.0,92.19 611.5,92.03 612.0,92.19 612.5,92.65 613.0,93.36 613.5,94.24 614.0,95.21 614.5,96.17 615.0,97.07 615.5,97.86 616.0,98.50 616.5,99.01 617.0,99.38 617.5,99.65 618.0,99.83 618.5,99.94" fill="none" stroke="#4cc04c" stroke-width="0.9"/>
<polyline points="634.0,99.82 634.5,99.64 635.0,99.39 635.5,99.03 636.0,98.56 636.5,97.97 637.0,97.27 637.5,96.49 638.0,95.67 638.5,94.89 639.0,94.20 639.5,93.68 640.0,93.39 640.5,93.36 641.0,93.60 641.5,94.08 642.0,94.74 642.5,95.51 643.0,96.33 643.5,97.12 644.0,97.84 644.5,98.45 645.0,98.95 645.5,99.32 646.0,99.60 646.5,99.79 647.0,99.91" fill="none" stroke="#4cc04c" stroke-width="0.9"/>
<polyline points="672.5,99.70 673.0,99.45 673.5,99.10 674.0,98.61 674.5,97.97 675.0,97.18 675.5,96.26 676.0,95.23 676.5,94.18 677.0,93.18 677.5,92.33 678.0,91.72 678.5,91.41 679.0,91.44 679.5,91.82 680.0,92.48 680.5,93.37 681.0,94.39 681.5,95.44 682.0,96.45 682.5,97.35 683.0,98.11 683.5,98.72 684.0,99.18" fill="none" stroke="#4cc04c" stroke-width="0.9"/>
<polyline points="537.5,99.82 538.0,99.63 538.5,99.33 539.0,98.90 539.5,98.31 540.0,97.52 540.5,96.53 541.0,95.36 541.5,94.05 542.0,92.68 542.5,91.35 543.0,90.20 543.5,89.33 544.0,88.85 544.5,88.80 545.0,89.20 545.5,90.00 546.0,91.10 546.5,92.40 547.0,93.77 547.5,95.10 548.0,96.31 548.5,97.34 549.0,98.16 549.5,98.80 550.0,99.26 550.5,99.58 551.0,99.79 551.5,99.92" fill="none" stroke="#4a4ad0" stroke-width="0.9"/>
<polyline points="557.0,99.75 557.5,99.52 558.0,99.19 558.5,98.71 559.0,98.07 559.5,97.25 560.0,96.25 560.5,95.11 561.0,93.89 561.5,92.66 562.0,91.54 562.5,90.64 563.0,90.06 563.5,89.85 564.0,90.06 564.5,90.64 565.0,91.54 565.5,92.66 566.0,93.89 566.5,95.11 567.0,96.25 567.5,97.25 568.0,98.07 568.5,98.71 569.0,99.19 569.5,99.52 570.0,99.75 570.5,99.90" fill="none" stroke="#4a4ad0" stroke-width="0.9"/>
<polyline points="585.5,99.80 586.0,99.59 586.5,99.27 587.0,98.81 587.5,98.17 588.0,97.32 588.5,96.25 589.0,94.99 589.5,93.58 590.0,92.10 590.5,90.68 591.0,89.44 591.5,88.50 592.0,87.98 592.5,87.93 593.0,88.36 593.5,89.22 594.0,90.41 594.5,91.81 595.0,93.29 595.5,94.72 596.0,96.02 596.5,97.12 597.0,98.01 597.5,98.70 598.0,99.19 598.5,99.54 599.0,99.76 599.5,99.91" fill="none" stroke="#4a4ad0" stroke-width="0.9"/>
<polyline points="662.5,99.74 663.0,99.50 663.5,99.14 664.0,98.63 664.5,97.93 665.0,97.03 665.5,95.93 666.0,94.64 666.5,93.25 667.0,91.83 667.5,90.51 668.0,89.41 668.5,88.66 669.0,88.34 669.5,88.48 670.0,89.07 670.5,90.04 671.0,91.28 671.5,92.67 672.0,94.09 672.5,95.43 673.0,96.61 673.5,97.60 674.0,98.38 674.5,98.96 675.0,99.37 675.5,99.66 676.0,99.84 676.5,99.95" fill="none" stroke="#4a4ad0" stroke-width="0.9"/>
</g>
<line x1="461.00" y1="100.10" x2="684.00" y2="100.10" stroke="#5cc45c" stroke-width="1.0" />
<text x="467.50" y="106.80" font-size="8.6" font-weight="normal" font-style="normal" text-anchor="middle" fill="#a8a8a8" color="#a8a8a8" font-family="Liberation Serif" >G</text>
<text x="477.10" y="106.80" font-size="8.6" font-weight="normal" font-style="normal" text-anchor="middle" fill="#a8a8a8" color="#a8a8a8" font-family="Liberation Serif" >A</text>
<text x="486.70" y="106.80" font-size="8.6" font-weight="normal" font-style="normal" text-anchor="middle" fill="#a8a8a8" color="#a8a8a8" font-family="Liberation Serif" >A</text>
<text x="496.30" y="106.80" font-size="8.6" font-weight="normal" font-style="normal" text-anchor="middle" fill="#a8a8a8" color="#a8a8a8" font-family="Liberation Serif" >T</text>
<text x="505.90" y="106.80" font-size="8.6" font-weight="normal" font-style="normal" text-anchor="middle" fill="#a8a8a8" color="#a8a8a8" font-family="Liberation Serif" >G</text>
<text x="515.50" y="106.80" font-size="8.6" font-weight="normal" font-style="normal" text-anchor="middle" fill="#a8a8a8" color="#a8a8a8" font-family="Liberation Serif" >A</text>
<text x="525.10" y="106.80" font-size="8.6" font-weight="normal" font-style="normal" text-anchor="middle" fill="#a8a8a8" color="#a8a8a8" font-family="Liberation Serif" >T</text>
<text x="534.70" y="106.80" font-size="8.6" font-weight="normal" font-style="normal" text-anchor="middle" fill="#a8a8a8" color="#a8a8a8" font-family="Liberation Serif" >G</text>
<text x="544.30" y="106.80" font-size="8.6" font-weight="normal" font-style="normal" text-anchor="middle" fill="#a8a8a8" color="#a8a8a8" font-family="Liberation Serif" >C</text>
<text x="553.90" y="106.80" font-size="8.6" font-weight="normal" font-style="normal" text-anchor="middle" fill="#a8a8a8" color="#a8a8a8" font-family="Liberation Serif" >A</text>
<text x="563.50" y="106.80" font-size="8.6" font-weight="normal" font-style="normal" text-anchor="middle" fill="#a8a8a8" color="#a8a8a8" font-family="Liberation Serif" >C</text>
<rect x="568.10" y="99.60" width="10.00" height="8.80" fill="#2e5fb8" />
<text x="573.10" y="106.80" font-size="8.6" font-weight="normal" font-style="normal" text-anchor="middle" fill="#1a2a50" color="#1a2a50" font-family="Liberation Serif" >G</text>
<text x="582.70" y="106.80" font-size="8.6" font-weight="normal" font-style="normal" text-anchor="middle" fill="#a8a8a8" color="#a8a8a8" font-family="Liberation Serif" >T</text>
<text x="592.30" y="106.80" font-size="8.6" font-weight="normal" font-style="normal" text-anchor="middle" fill="#a8a8a8" color="#a8a8a8" font-family="Liberation Serif" >C</text>
<text x="601.90" y="106.80" font-size="8.6" font-weight="normal" font-style="normal" text-anchor="middle" fill="#a8a8a8" color="#a8a8a8" font-family="Liberation Serif" >A</text>
<text x="611.50" y="106.80" font-size="8.6" font-weight="normal" font-style="normal" text-anchor="middle" fill="#a8a8a8" color="#a8a8a8" font-family="Liberation Serif" >T</text>
<text x="621.10" y="106.80" font-size="8.6" font-weight="normal" font-style="normal" text-anchor="middle" fill="#a8a8a8" color="#a8a8a8" font-family="Liberation Serif" >G</text>
<text x="630.70" y="106.80" font-size="8.6" font-weight="normal" font-style="normal" text-anchor="middle" fill="#a8a8a8" color="#a8a8a8" font-family="Liberation Serif" >G</text>
<text x="640.30" y="106.80" font-size="8.6" font-weight="normal" font-style="normal" text-anchor="middle" fill="#a8a8a8" color="#a8a8a8" font-family="Liberation Serif" >T</text>
<text x="649.90" y="106.80" font-size="8.6" font-weight="normal" font-style="normal" text-anchor="middle" fill="#a8a8a8" color="#a8a8a8" font-family="Liberation Serif" >G</text>
<text x="659.50" y="106.80" font-size="8.6" font-weight="normal" font-style="normal" text-anchor="middle" fill="#a8a8a8" color="#a8a8a8" font-family="Liberation Serif" >G</text>
<text x="669.10" y="106.80" font-size="8.6" font-weight="normal" font-style="normal" text-anchor="middle" fill="#a8a8a8" color="#a8a8a8" font-family="Liberation Serif" >C</text>
<text x="678.70" y="106.80" font-size="8.6" font-weight="normal" font-style="normal" text-anchor="middle" fill="#a8a8a8" color="#a8a8a8" font-family="Liberation Serif" >T</text>
<path d="M461.00,134.20 L461.00,112.10 L491.80,112.10 L491.80,114.00 L501.20,114.00 L501.20,112.50 L510.70,112.50 L510.70,114.00 L520.50,114.00 L520.50,116.80 L539.60,116.80 L539.60,112.50 L684.00,112.50 L684.00,134.20 Z" fill="#e3f1f6" stroke="none"/>
<path d="M461.00,112.10 L491.80,112.10 L491.80,114.00 L501.20,114.00 L501.20,112.50 L510.70,112.50 L510.70,114.00 L520.50,114.00 L520.50,116.80 L539.60,116.80 L539.60,112.50 L684.00,112.50" fill="none" stroke="#9ec0e6" stroke-width="0.9"/>
<g clip-path="url(#cp3)">
<polyline points="461.0,133.64 461.5,133.27 462.0,132.73 462.5,131.96 463.0,130.92 463.5,129.59 464.0,127.98 464.5,126.13 465.0,124.15 465.5,122.16 466.0,120.36 466.5,118.90 467.0,117.95 467.5,117.62 468.0,117.95 468.5,118.90 469.0,120.36 469.5,122.16 470.0,124.15 470.5,126.13 471.0,127.98 471.5,129.59 472.0,130.92 472.5,131.96 473.0,132.73 473.5,133.27 474.0,133.64 474.5,133.87 475.0,134.02" fill="none" stroke="#c2c23a" stroke-width="0.9"/>
<polyline points="499.0,133.76 499.5,133.45 500.0,132.97 500.5,132.27 501.0,131.29 501.5,129.97 502.0,128.31 502.5,126.31 503.0,124.05 503.5,121.65 504.0,119.30 504.5,117.20 505.0,115.56 505.5,114.56 506.0,114.33 506.5,114.87 507.0,116.15 507.5,117.99 508.0,120.22 508.5,122.62 509.0,124.98 509.5,127.15 510.0,129.02 510.5,130.54 511.0,131.72 511.5,132.58 512.0,133.19 512.5,133.59 513.0,133.85 513.5,134.00" fill="none" stroke="#c2c23a" stroke-width="0.9"/>
<polyline points="528.0,133.77 528.5,133.49 529.0,133.05 529.5,132.42 530.0,131.56 530.5,130.43 531.0,129.03 531.5,127.38 532.0,125.57 532.5,123.70 533.0,121.92 533.5,120.41 534.0,119.32 534.5,118.78 535.0,118.84 535.5,119.50 536.0,120.69 536.5,122.26 537.0,124.07 537.5,125.94 538.0,127.73 538.5,129.33 539.0,130.68 539.5,131.75 540.0,132.56 540.5,133.15 541.0,133.55 541.5,133.82 542.0,133.98" fill="none" stroke="#c2c23a" stroke-width="0.9"/>
<polyline points="614.0,133.83 614.5,133.56 615.0,133.13 615.5,132.49 616.0,131.58 616.5,130.34 617.0,128.73 617.5,126.76 618.0,124.47 618.5,121.97 619.0,119.45 619.5,117.09 620.0,115.14 620.5,113.80 621.0,113.22 621.5,113.46 622.0,114.50 622.5,116.21 623.0,118.38 623.5,120.80 624.0,123.21 624.5,125.41 625.0,127.24 625.5,128.60 626.0,129.43 626.5,129.74 627.0,129.58 627.5,129.02 628.0,128.18 628.5,127.19 629.0,126.17 629.5,125.26 630.0,124.60 630.5,124.27 631.0,124.32 631.5,124.75 632.0,125.51 632.5,126.53 633.0,127.69 633.5,128.89 634.0,130.04 634.5,131.07 635.0,131.93 635.5,132.63 636.0,133.15 636.5,133.53 637.0,133.78 637.5,133.95" fill="none" stroke="#c2c23a" stroke-width="0.9"/>
<polyline points="643.0,133.83 643.5,133.57 644.0,133.18 644.5,132.59 645.0,131.77 645.5,130.68 646.0,129.29 646.5,127.63 647.0,125.74 647.5,123.74 648.0,121.78 648.5,120.03 649.0,118.67 649.5,117.84 650.0,117.63 650.5,118.08 651.0,119.13 651.5,120.64 652.0,122.45 652.5,124.37 653.0,126.22 653.5,127.83 654.0,129.09 654.5,129.95 655.0,130.38 655.5,130.39 656.0,130.04 656.5,129.39 657.0,128.54 657.5,127.62 658.0,126.73 658.5,126.00 659.0,125.51 659.5,125.35 660.0,125.54 660.5,126.04 661.0,126.82 661.5,127.78 662.0,128.84 662.5,129.90 663.0,130.88 663.5,131.74 664.0,132.45 664.5,133.00 665.0,133.41 665.5,133.70 666.0,133.90 666.5,134.02" fill="none" stroke="#c2c23a" stroke-width="0.9"/>
<polyline points="470.5,133.83 471.0,133.58 471.5,133.21 472.0,132.68 472.5,131.96 473.0,131.03 473.5,129.89 474.0,128.57 474.5,127.12 475.0,125.66 475.5,124.30 476.0,123.17 476.5,122.39 477.0,122.05 477.5,122.19 478.0,122.79 478.5,123.77 479.0,125.03 479.5,126.41 480.0,127.78 480.5,129.02 481.0,130.03 481.5,130.73 482.0,131.10 482.5,131.13 483.0,130.86 483.5,130.33 484.0,129.61 484.5,128.80 485.0,127.98 485.5,127.26 486.0,126.74 486.5,126.48 487.0,126.52 487.5,126.85 488.0,127.44 488.5,128.23 489.0,129.13 489.5,130.07 490.0,130.96 490.5,131.76 491.0,132.44 491.5,132.98 492.0,133.38 492.5,133.68 493.0,133.88 493.5,134.01" fill="none" stroke="#d0505a" stroke-width="0.9"/>
<polyline points="508.5,133.94 509.0,133.75 509.5,133.46 510.0,133.02 510.5,132.41 511.0,131.58 511.5,130.51 512.0,129.22 512.5,127.75 513.0,126.16 513.5,124.57 514.0,123.12 514.5,121.96 515.0,121.20 515.5,120.94 516.0,121.20 516.5,121.96 517.0,123.12 517.5,124.57 518.0,126.16 518.5,127.75 519.0,129.22 519.5,130.51 520.0,131.58 520.5,132.41 521.0,133.02 521.5,133.46 522.0,133.75 522.5,133.94 523.0,134.05" fill="none" stroke="#d0505a" stroke-width="0.9"/>
<polyline points="547.5,133.91 548.0,133.72 548.5,133.45 549.0,133.07 549.5,132.56 550.0,131.91 550.5,131.13 551.0,130.25 551.5,129.32 552.0,128.41 552.5,127.59 553.0,126.95 553.5,126.56 554.0,126.47 554.5,126.68 555.0,127.18 555.5,127.90 556.0,128.76 556.5,129.70 557.0,130.61 557.5,131.46 558.0,132.18 558.5,132.78 559.0,133.23 559.5,133.57 560.0,133.81 560.5,133.96" fill="none" stroke="#d0505a" stroke-width="0.9"/>
<polyline points="566.5,133.86 567.0,133.64 567.5,133.30 568.0,132.82 568.5,132.17 569.0,131.32 569.5,130.28 570.0,129.08 570.5,127.77 571.0,126.43 571.5,125.20 572.0,124.17 572.5,123.46 573.0,123.16 573.5,123.29 574.0,123.84 574.5,124.75 575.0,125.92 575.5,127.23 576.0,128.56 576.5,129.82 577.0,130.93 577.5,131.85 578.0,132.58 578.5,133.13 579.0,133.52 579.5,133.78 580.0,133.95" fill="none" stroke="#d0505a" stroke-width="0.9"/>
<polyline points="595.5,133.87 596.0,133.65 596.5,133.34 597.0,132.91 597.5,132.32 598.0,131.58 598.5,130.69 599.0,129.69 599.5,128.62 600.0,127.58 600.5,126.64 601.0,125.91 601.5,125.47 602.0,125.37 602.5,125.61 603.0,126.18 603.5,127.00 604.0,127.99 604.5,129.05 605.0,130.10 605.5,131.07 606.0,131.90 606.5,132.57 607.0,133.10 607.5,133.48 608.0,133.75 608.5,133.93 609.0,134.04" fill="none" stroke="#d0505a" stroke-width="0.9"/>
<polyline points="490.0,133.83 490.5,133.60 491.0,133.27 491.5,132.80 492.0,132.19 492.5,131.42 493.0,130.50 493.5,129.48 494.0,128.41 494.5,127.38 495.0,126.48 495.5,125.80 496.0,125.42 496.5,125.39 497.0,125.70 497.5,126.32 498.0,127.18 498.5,128.20 499.0,129.27 499.5,130.30 500.0,131.24 500.5,132.04 501.0,132.69 501.5,133.18 502.0,133.54 502.5,133.79 503.0,133.96" fill="none" stroke="#4cc04c" stroke-width="0.9"/>
<polyline points="519.0,133.81 519.5,133.57 520.0,133.23 520.5,132.78 521.0,132.18 521.5,131.46 522.0,130.61 522.5,129.70 523.0,128.76 523.5,127.90 524.0,127.18 524.5,126.68 525.0,126.47 525.5,126.56 526.0,126.95 526.5,127.59 527.0,128.41 527.5,129.32 528.0,130.25 528.5,131.13 529.0,131.91 529.5,132.56 530.0,133.07 530.5,133.45 531.0,133.72 531.5,133.91 532.0,134.03" fill="none" stroke="#4cc04c" stroke-width="0.9"/>
<polyline points="576.0,133.90 576.5,133.69 577.0,133.38 577.5,132.93 578.0,132.31 578.5,131.51 579.0,130.50 579.5,129.33 580.0,128.03 580.5,126.70 581.0,125.43 581.5,124.35 582.0,123.57 582.5,123.19 583.0,123.23 583.5,123.70 584.0,124.55 584.5,125.67 585.0,126.96 585.5,128.30 586.0,129.58 586.5,130.72 587.0,131.68 587.5,132.45 588.0,133.03 588.5,133.45 589.0,133.74 589.5,133.93 590.0,134.04" fill="none" stroke="#4cc04c" stroke-width="0.9"/>
<polyline points="605.5,133.83 606.0,133.61 606.5,133.30 607.0,132.89 607.5,132.36 608.0,131.71 608.5,130.97 609.0,130.18 609.5,129.39 610.0,128.66 610.5,128.08 611.0,127.70 611.5,127.57 612.0,127.70 612.5,128.08 613.0,128.66 613.5,129.39 614.0,130.18 614.5,130.97 615.0,131.71 615.5,132.36 616.0,132.89 616.5,133.30 617.0,133.61 617.5,133.83 618.0,133.97" fill="none" stroke="#4cc04c" stroke-width="0.9"/>
<polyline points="634.0,133.88 634.5,133.68 635.0,133.38 635.5,132.98 636.0,132.44 636.5,131.76 637.0,130.96 637.5,130.07 638.0,129.13 638.5,128.23 639.0,127.44 639.5,126.85 640.0,126.52 640.5,126.49 641.0,126.76 641.5,127.31 642.0,128.06 642.5,128.95 643.0,129.88 643.5,130.79 644.0,131.61 644.5,132.31 645.0,132.88 645.5,133.31 646.0,133.63 646.5,133.84 647.0,133.99" fill="none" stroke="#4cc04c" stroke-width="0.9"/>
<polyline points="672.5,133.79 673.0,133.54 673.5,133.18 674.0,132.69 674.5,132.04 675.0,131.24 675.5,130.30 676.0,129.27 676.5,128.20 677.0,127.18 677.5,126.32 678.0,125.70 678.5,125.39 679.0,125.42 679.5,125.80 680.0,126.48 680.5,127.38 681.0,128.41 681.5,129.48 682.0,130.50 682.5,131.42 683.0,132.19 683.5,132.80 684.0,133.27" fill="none" stroke="#4cc04c" stroke-width="0.9"/>
<polyline points="537.5,133.93 538.0,133.74 538.5,133.45 539.0,133.03 539.5,132.45 540.0,131.68 540.5,130.72 541.0,129.58 541.5,128.30 542.0,126.96 542.5,125.67 543.0,124.55 543.5,123.70 544.0,123.23 544.5,123.19 545.0,123.57 545.5,124.35 546.0,125.43 546.5,126.70 547.0,128.03 547.5,129.33 548.0,130.50 548.5,131.51 549.0,132.31 549.5,132.93 550.0,133.38 550.5,133.69 551.0,133.90 551.5,134.03" fill="none" stroke="#4a4ad0" stroke-width="0.9"/>
<polyline points="557.0,133.86 557.5,133.64 558.0,133.32 558.5,132.85 559.0,132.23 559.5,131.43 560.0,130.47 560.5,129.36 561.0,128.17 561.5,126.98 562.0,125.89 562.5,125.02 563.0,124.45 563.5,124.25 564.0,124.45 564.5,125.02 565.0,125.89 565.5,126.98 566.0,128.17 566.5,129.36 567.0,130.47 567.5,131.43 568.0,132.23 568.5,132.85 569.0,133.32 569.5,133.64 570.0,133.86 570.5,134.00" fill="none" stroke="#4a4ad0" stroke-width="0.9"/>
<polyline points="585.5,133.90 586.0,133.69 586.5,133.38 587.0,132.92 587.5,132.28 588.0,131.43 588.5,130.37 589.0,129.11 589.5,127.71 590.0,126.24 590.5,124.82 591.0,123.58 591.5,122.65 592.0,122.13 592.5,122.08 593.0,122.51 593.5,123.37 594.0,124.55 594.5,125.95 595.0,127.42 595.5,128.84 596.0,130.13 596.5,131.24 597.0,132.12 597.5,132.80 598.0,133.30 598.5,133.64 599.0,133.86 599.5,134.01" fill="none" stroke="#4a4ad0" stroke-width="0.9"/>
<polyline points="662.5,133.86 663.0,133.64 663.5,133.30 664.0,132.82 664.5,132.17 665.0,131.32 665.5,130.28 666.0,129.08 666.5,127.77 667.0,126.43 667.5,125.20 668.0,124.17 668.5,123.46 669.0,123.16 669.5,123.29 670.0,123.84 670.5,124.75 671.0,125.92 671.5,127.23 672.0,128.56 672.5,129.82 673.0,130.93 673.5,131.85 674.0,132.58 674.5,133.13 675.0,133.52 675.5,133.78 676.0,133.95" fill="none" stroke="#4a4ad0" stroke-width="0.9"/>
</g>
<line x1="461.00" y1="134.20" x2="684.00" y2="134.20" stroke="#5cc45c" stroke-width="1.0" />
<text x="467.50" y="140.60" font-size="8.6" font-weight="normal" font-style="normal" text-anchor="middle" fill="#a8a8a8" color="#a8a8a8" font-family="Liberation Serif" >G</text>
<text x="477.10" y="140.60" font-size="8.6" font-weight="normal" font-style="normal" text-anchor="middle" fill="#a8a8a8" color="#a8a8a8" font-family="Liberation Serif" >A</text>
<text x="486.70" y="140.60" font-size="8.6" font-weight="normal" font-style="normal" text-anchor="middle" fill="#a8a8a8" color="#a8a8a8" font-family="Liberation Serif" >A</text>
<text x="496.30" y="140.60" font-size="8.6" font-weight="normal" font-style="normal" text-anchor="middle" fill="#a8a8a8" color="#a8a8a8" font-family="Liberation Serif" >T</text>
<text x="505.90" y="140.60" font-size="8.6" font-weight="normal" font-style="normal" text-anchor="middle" fill="#a8a8a8" color="#a8a8a8" font-family="Liberation Serif" >G</text>
<text x="515.50" y="140.60" font-size="8.6" font-weight="normal" font-style="normal" text-anchor="middle" fill="#a8a8a8" color="#a8a8a8" font-family="Liberation Serif" >A</text>
<text x="525.10" y="140.60" font-size="8.6" font-weight="normal" font-style="normal" text-anchor="middle" fill="#a8a8a8" color="#a8a8a8" font-family="Liberation Serif" >T</text>
<text x="534.70" y="140.60" font-size="8.6" font-weight="normal" font-style="normal" text-anchor="middle" fill="#a8a8a8" color="#a8a8a8" font-family="Liberation Serif" >G</text>
<text x="544.30" y="140.60" font-size="8.6" font-weight="normal" font-style="normal" text-anchor="middle" fill="#a8a8a8" color="#a8a8a8" font-family="Liberation Serif" >C</text>
<text x="553.90" y="140.60" font-size="8.6" font-weight="normal" font-style="normal" text-anchor="middle" fill="#a8a8a8" color="#a8a8a8" font-family="Liberation Serif" >A</text>
<text x="563.50" y="140.60" font-size="8.6" font-weight="normal" font-style="normal" text-anchor="middle" fill="#a8a8a8" color="#a8a8a8" font-family="Liberation Serif" >C</text>
<text x="573.10" y="140.60" font-size="8.6" font-weight="normal" font-style="normal" text-anchor="middle" fill="#555" color="#555" font-family="Liberation Serif" >A</text>
<text x="582.70" y="140.60" font-size="8.6" font-weight="normal" font-style="normal" text-anchor="middle" fill="#a8a8a8" color="#a8a8a8" font-family="Liberation Serif" >T</text>
<text x="592.30" y="140.60" font-size="8.6" font-weight="normal" font-style="normal" text-anchor="middle" fill="#a8a8a8" color="#a8a8a8" font-family="Liberation Serif" >C</text>
<text x="601.90" y="140.60" font-size="8.6" font-weight="normal" font-style="normal" text-anchor="middle" fill="#a8a8a8" color="#a8a8a8" font-family="Liberation Serif" >A</text>
<text x="611.50" y="140.60" font-size="8.6" font-weight="normal" font-style="normal" text-anchor="middle" fill="#a8a8a8" color="#a8a8a8" font-family="Liberation Serif" >T</text>
<text x="621.10" y="140.60" font-size="8.6" font-weight="normal" font-style="normal" text-anchor="middle" fill="#a8a8a8" color="#a8a8a8" font-family="Liberation Serif" >G</text>
<text x="630.70" y="140.60" font-size="8.6" font-weight="normal" font-style="normal" text-anchor="middle" fill="#a8a8a8" color="#a8a8a8" font-family="Liberation Serif" >G</text>
<text x="640.30" y="140.60" font-size="8.6" font-weight="normal" font-style="normal" text-anchor="middle" fill="#a8a8a8" color="#a8a8a8" font-family="Liberation Serif" >T</text>
<text x="649.90" y="140.60" font-size="8.6" font-weight="normal" font-style="normal" text-anchor="middle" fill="#a8a8a8" color="#a8a8a8" font-family="Liberation Serif" >G</text>
<text x="659.50" y="140.60" font-size="8.6" font-weight="normal" font-style="normal" text-anchor="middle" fill="#a8a8a8" color="#a8a8a8" font-family="Liberation Serif" >G</text>
<text x="669.10" y="140.60" font-size="8.6" font-weight="normal" font-style="normal" text-anchor="middle" fill="#a8a8a8" color="#a8a8a8" font-family="Liberation Serif" >C</text>
<text x="678.70" y="140.60" font-size="8.6" font-weight="normal" font-style="normal" text-anchor="middle" fill="#a8a8a8" color="#a8a8a8" font-family="Liberation Serif" >T</text>
<path d="M461.00,167.80 L461.00,146.10 L491.80,146.10 L491.80,151.00 L501.20,151.00 L501.20,146.50 L510.70,146.50 L510.70,148.50 L520.50,148.50 L520.50,152.00 L530.00,152.00 L530.00,150.00 L539.60,150.00 L539.60,151.50 L558.00,151.50 L558.00,149.00 L568.70,149.00 L568.70,150.00 L579.00,150.00 L579.00,147.50 L684.00,147.50 L684.00,167.80 Z" fill="#e3f1f6" stroke="none"/>
<path d="M461.00,146.10 L491.80,146.10 L491.80,151.00 L501.20,151.00 L501.20,146.50 L510.70,146.50 L510.70,148.50 L520.50,148.50 L520.50,152.00 L530.00,152.00 L530.00,150.00 L539.60,150.00 L539.60,151.50 L558.00,151.50 L558.00,149.00 L568.70,149.00 L568.70,150.00 L579.00,150.00 L579.00,147.50 L684.00,147.50" fill="none" stroke="#9ec0e6" stroke-width="0.9"/>
<g clip-path="url(#cp4)">
<polyline points="461.0,167.25 461.5,166.89 462.0,166.35 462.5,165.60 463.0,164.58 463.5,163.27 464.0,161.69 464.5,159.88 465.0,157.93 465.5,155.98 466.0,154.21 466.5,152.78 467.0,151.85 467.5,151.53 468.0,151.85 468.5,152.78 469.0,154.21 469.5,155.98 470.0,157.93 470.5,159.88 471.0,161.69 471.5,163.27 472.0,164.58 472.5,165.60 473.0,166.35 473.5,166.89 474.0,167.25 474.5,167.48 475.0,167.62" fill="none" stroke="#c2c23a" stroke-width="0.9"/>
<polyline points="499.0,167.37 499.5,167.06 500.0,166.59 500.5,165.91 501.0,164.94 501.5,163.65 502.0,162.02 502.5,160.05 503.0,157.83 503.5,155.48 504.0,153.17 504.5,151.10 505.0,149.50 505.5,148.52 506.0,148.29 506.5,148.82 507.0,150.07 507.5,151.89 508.0,154.08 508.5,156.43 509.0,158.75 509.5,160.87 510.0,162.71 510.5,164.21 511.0,165.36 511.5,166.21 512.0,166.80 512.5,167.20 513.0,167.45 513.5,167.61" fill="none" stroke="#c2c23a" stroke-width="0.9"/>
<polyline points="528.0,167.38 528.5,167.10 529.0,166.67 529.5,166.05 530.0,165.21 530.5,164.10 531.0,162.72 531.5,161.10 532.0,159.32 532.5,157.49 533.0,155.75 533.5,154.26 534.0,153.19 534.5,152.66 535.0,152.72 535.5,153.37 536.0,154.53 536.5,156.08 537.0,157.85 537.5,159.69 538.0,161.44 538.5,163.02 539.0,164.34 539.5,165.40 540.0,166.19 540.5,166.77 541.0,167.17 541.5,167.42 542.0,167.59" fill="none" stroke="#c2c23a" stroke-width="0.9"/>
<polyline points="567.0,167.47 567.5,167.27 568.0,166.99 568.5,166.60 569.0,166.10 569.5,165.49 570.0,164.78 570.5,164.01 571.0,163.23 571.5,162.50 572.0,161.89 572.5,161.47 573.0,161.30 573.5,161.37 574.0,161.70 574.5,162.23 575.0,162.92 575.5,163.69 576.0,164.48 576.5,165.22 577.0,165.87 577.5,166.42 578.0,166.85 578.5,167.17 579.0,167.40 579.5,167.55" fill="none" stroke="#c2c23a" stroke-width="0.9"/>
<polyline points="614.0,167.43 614.5,167.17 615.0,166.75 615.5,166.12 616.0,165.23 616.5,164.01 617.0,162.43 617.5,160.49 618.0,158.24 618.5,155.80 619.0,153.31 619.5,151.00 620.0,149.09 620.5,147.77 621.0,147.20 621.5,147.44 622.0,148.46 622.5,150.13 623.0,152.27 623.5,154.64 624.0,157.01 624.5,159.17 625.0,160.97 625.5,162.30 626.0,163.11 626.5,163.42 627.0,163.26 627.5,162.72 628.0,161.89 628.5,160.91 629.0,159.91 629.5,159.02 630.0,158.37 630.5,158.05 631.0,158.10 631.5,158.52 632.0,159.27 632.5,160.26 633.0,161.40 633.5,162.58 634.0,163.71 634.5,164.72 635.0,165.58 635.5,166.25 636.0,166.77 636.5,167.14 637.0,167.39 637.5,167.56" fill="none" stroke="#c2c23a" stroke-width="0.9"/>
<polyline points="643.0,167.44 643.5,167.19 644.0,166.80 644.5,166.22 645.0,165.42 645.5,164.34 646.0,162.98 646.5,161.35 647.0,159.50 647.5,157.53 648.0,155.61 648.5,153.89 649.0,152.55 649.5,151.73 650.0,151.53 650.5,151.97 651.0,153.00 651.5,154.49 652.0,156.27 652.5,158.15 653.0,159.96 653.5,161.54 654.0,162.79 654.5,163.63 655.0,164.05 655.5,164.06 656.0,163.71 656.5,163.08 657.0,162.25 657.5,161.34 658.0,160.46 658.5,159.74 659.0,159.27 659.5,159.11 660.0,159.29 660.5,159.79 661.0,160.55 661.5,161.50 662.0,162.54 662.5,163.57 663.0,164.54 663.5,165.39 664.0,166.08 664.5,166.63 665.0,167.03 665.5,167.31 666.0,167.50 666.5,167.63" fill="none" stroke="#c2c23a" stroke-width="0.9"/>
<polyline points="470.5,167.43 471.0,167.19 471.5,166.83 472.0,166.31 472.5,165.60 473.0,164.69 473.5,163.57 474.0,162.27 474.5,160.85 475.0,159.41 475.5,158.08 476.0,156.97 476.5,156.20 477.0,155.87 477.5,156.01 478.0,156.60 478.5,157.56 479.0,158.79 479.5,160.15 480.0,161.50 480.5,162.72 481.0,163.70 481.5,164.39 482.0,164.75 482.5,164.79 483.0,164.52 483.5,164.00 484.0,163.30 484.5,162.49 485.0,161.69 485.5,160.99 486.0,160.48 486.5,160.22 487.0,160.25 487.5,160.58 488.0,161.17 488.5,161.94 489.0,162.83 489.5,163.74 490.0,164.62 490.5,165.41 491.0,166.07 491.5,166.60 492.0,167.00 492.5,167.29 493.0,167.48 493.5,167.61" fill="none" stroke="#d0505a" stroke-width="0.9"/>
<polyline points="508.5,167.54 509.0,167.36 509.5,167.07 510.0,166.64 510.5,166.04 511.0,165.22 511.5,164.18 512.0,162.91 512.5,161.46 513.0,159.90 513.5,158.35 514.0,156.92 514.5,155.78 515.0,155.04 515.5,154.78 516.0,155.04 516.5,155.78 517.0,156.92 517.5,158.35 518.0,159.90 518.5,161.46 519.0,162.91 519.5,164.18 520.0,165.22 520.5,166.04 521.0,166.64 521.5,167.07 522.0,167.36 522.5,167.54 523.0,167.66" fill="none" stroke="#d0505a" stroke-width="0.9"/>
<polyline points="547.5,167.51 548.0,167.33 548.5,167.06 549.0,166.69 549.5,166.19 550.0,165.55 550.5,164.79 551.0,163.92 551.5,163.01 552.0,162.11 552.5,161.31 553.0,160.68 553.5,160.30 554.0,160.21 554.5,160.42 555.0,160.91 555.5,161.61 556.0,162.46 556.5,163.38 557.0,164.28 557.5,165.11 558.0,165.82 558.5,166.40 559.0,166.85 559.5,167.18 560.0,167.41 560.5,167.57" fill="none" stroke="#d0505a" stroke-width="0.9"/>
<polyline points="567.5,167.48 568.0,167.31 568.5,167.08 569.0,166.78 569.5,166.41 570.0,165.99 570.5,165.53 571.0,165.06 571.5,164.62 572.0,164.25 572.5,164.00 573.0,163.90 573.5,163.94 574.0,164.14 574.5,164.46 575.0,164.87 575.5,165.34 576.0,165.81 576.5,166.25 577.0,166.64 577.5,166.97 578.0,167.23 578.5,167.42 579.0,167.56" fill="none" stroke="#d0505a" stroke-width="0.9"/>
<polyline points="595.5,167.47 596.0,167.26 596.5,166.96 597.0,166.53 597.5,165.96 598.0,165.23 598.5,164.36 599.0,163.37 599.5,162.32 600.0,161.30 600.5,160.38 601.0,159.66 601.5,159.23 602.0,159.13 602.5,159.37 603.0,159.92 603.5,160.73 604.0,161.70 604.5,162.75 605.0,163.78 605.5,164.72 606.0,165.54 606.5,166.20 607.0,166.72 607.5,167.09 608.0,167.36 608.5,167.53 609.0,167.65" fill="none" stroke="#d0505a" stroke-width="0.9"/>
<polyline points="490.0,167.44 490.5,167.21 491.0,166.88 491.5,166.43 492.0,165.82 492.5,165.07 493.0,164.17 493.5,163.16 494.0,162.12 494.5,161.10 495.0,160.22 495.5,159.55 496.0,159.18 496.5,159.15 497.0,159.45 497.5,160.06 498.0,160.91 498.5,161.91 499.0,162.96 499.5,163.97 500.0,164.90 500.5,165.68 501.0,166.32 501.5,166.80 502.0,167.15 502.5,167.40 503.0,167.56" fill="none" stroke="#4cc04c" stroke-width="0.9"/>
<polyline points="519.0,167.41 519.5,167.18 520.0,166.85 520.5,166.40 521.0,165.82 521.5,165.11 522.0,164.28 522.5,163.38 523.0,162.46 523.5,161.61 524.0,160.91 524.5,160.42 525.0,160.21 525.5,160.30 526.0,160.68 526.5,161.31 527.0,162.11 527.5,163.01 528.0,163.92 528.5,164.79 529.0,165.55 529.5,166.19 530.0,166.69 530.5,167.06 531.0,167.33 531.5,167.51 532.0,167.63" fill="none" stroke="#4cc04c" stroke-width="0.9"/>
<polyline points="576.0,167.53 576.5,167.35 577.0,167.07 577.5,166.68 578.0,166.13 578.5,165.42 579.0,164.53 579.5,163.50 580.0,162.35 580.5,161.17 581.0,160.05 581.5,159.10 582.0,158.41 582.5,158.07 583.0,158.11 583.5,158.52 584.0,159.27 584.5,160.26 585.0,161.40 585.5,162.58 586.0,163.71 586.5,164.72 587.0,165.58 587.5,166.25 588.0,166.77 588.5,167.14 589.0,167.39 589.5,167.56" fill="none" stroke="#4cc04c" stroke-width="0.9"/>
<polyline points="605.5,167.43 606.0,167.22 606.5,166.92 607.0,166.51 607.5,165.99 608.0,165.36 608.5,164.63 609.0,163.85 609.5,163.07 610.0,162.36 610.5,161.79 611.0,161.42 611.5,161.29 612.0,161.42 612.5,161.79 613.0,162.36 613.5,163.07 614.0,163.85 614.5,164.63 615.0,165.36 615.5,165.99 616.0,166.51 616.5,166.92 617.0,167.22 617.5,167.43 618.0,167.58" fill="none" stroke="#4cc04c" stroke-width="0.9"/>
<polyline points="634.0,167.48 634.5,167.29 635.0,167.00 635.5,166.60 636.0,166.07 636.5,165.41 637.0,164.62 637.5,163.74 638.0,162.83 638.5,161.94 639.0,161.17 639.5,160.58 640.0,160.26 640.5,160.23 641.0,160.50 641.5,161.03 642.0,161.77 642.5,162.64 643.0,163.56 643.5,164.45 644.0,165.26 644.5,165.95 645.0,166.50 645.5,166.93 646.0,167.24 646.5,167.45 647.0,167.59" fill="none" stroke="#4cc04c" stroke-width="0.9"/>
<polyline points="672.5,167.40 673.0,167.15 673.5,166.80 674.0,166.32 674.5,165.68 675.0,164.90 675.5,163.97 676.0,162.96 676.5,161.91 677.0,160.91 677.5,160.06 678.0,159.45 678.5,159.15 679.0,159.18 679.5,159.55 680.0,160.22 680.5,161.10 681.0,162.12 681.5,163.16 682.0,164.17 682.5,165.07 683.0,165.82 683.5,166.43 684.0,166.88" fill="none" stroke="#4cc04c" stroke-width="0.9"/>
<polyline points="537.5,167.53 538.0,167.35 538.5,167.06 539.0,166.65 539.5,166.08 540.0,165.33 540.5,164.38 541.0,163.26 541.5,162.01 542.0,160.69 542.5,159.43 543.0,158.32 543.5,157.49 544.0,157.03 544.5,156.98 545.0,157.37 545.5,158.13 546.0,159.19 546.5,160.43 547.0,161.74 547.5,163.02 548.0,164.17 548.5,165.15 549.0,165.95 549.5,166.55 550.0,166.99 550.5,167.30 551.0,167.50 551.5,167.63" fill="none" stroke="#4a4ad0" stroke-width="0.9"/>
<polyline points="557.0,167.47 557.5,167.25 558.0,166.93 558.5,166.48 559.0,165.87 559.5,165.08 560.0,164.14 560.5,163.05 561.0,161.88 561.5,160.71 562.0,159.64 562.5,158.79 563.0,158.23 563.5,158.03 564.0,158.23 564.5,158.79 565.0,159.64 565.5,160.71 566.0,161.88 566.5,163.05 567.0,164.14 567.5,165.08 568.0,165.87 568.5,166.48 569.0,166.93 569.5,167.25 570.0,167.47 570.5,167.61" fill="none" stroke="#4a4ad0" stroke-width="0.9"/>
<polyline points="585.5,167.50 586.0,167.30 586.5,166.99 587.0,166.54 587.5,165.91 588.0,165.08 588.5,164.04 589.0,162.81 589.5,161.43 590.0,159.98 590.5,158.59 591.0,157.37 591.5,156.46 592.0,155.95 592.5,155.90 593.0,156.32 593.5,157.16 594.0,158.33 594.5,159.70 595.0,161.14 595.5,162.54 596.0,163.81 596.5,164.89 597.0,165.76 597.5,166.43 598.0,166.91 598.5,167.25 599.0,167.47 599.5,167.61" fill="none" stroke="#4a4ad0" stroke-width="0.9"/>
<polyline points="662.5,167.47 663.0,167.25 663.5,166.92 664.0,166.45 664.5,165.80 665.0,164.97 665.5,163.95 666.0,162.77 666.5,161.48 667.0,160.18 667.5,158.96 668.0,157.95 668.5,157.26 669.0,156.96 669.5,157.09 670.0,157.63 670.5,158.52 671.0,159.67 671.5,160.96 672.0,162.26 672.5,163.50 673.0,164.59 673.5,165.49 674.0,166.21 674.5,166.75 675.0,167.13 675.5,167.39 676.0,167.56" fill="none" stroke="#4a4ad0" stroke-width="0.9"/>
</g>
<line x1="461.00" y1="167.80" x2="684.00" y2="167.80" stroke="#5cc45c" stroke-width="1.0" />
<text x="467.50" y="174.50" font-size="8.6" font-weight="normal" font-style="normal" text-anchor="middle" fill="#a8a8a8" color="#a8a8a8" font-family="Liberation Serif" >G</text>
<text x="477.10" y="174.50" font-size="8.6" font-weight="normal" font-style="normal" text-anchor="middle" fill="#a8a8a8" color="#a8a8a8" font-family="Liberation Serif" >A</text>
<text x="486.70" y="174.50" font-size="8.6" font-weight="normal" font-style="normal" text-anchor="middle" fill="#a8a8a8" color="#a8a8a8" font-family="Liberation Serif" >A</text>
<text x="496.30" y="174.50" font-size="8.6" font-weight="normal" font-style="normal" text-anchor="middle" fill="#a8a8a8" color="#a8a8a8" font-family="Liberation Serif" >T</text>
<text x="505.90" y="174.50" font-size="8.6" font-weight="normal" font-style="normal" text-anchor="middle" fill="#a8a8a8" color="#a8a8a8" font-family="Liberation Serif" >G</text>
<text x="515.50" y="174.50" font-size="8.6" font-weight="normal" font-style="normal" text-anchor="middle" fill="#a8a8a8" color="#a8a8a8" font-family="Liberation Serif" >A</text>
<text x="525.10" y="174.50" font-size="8.6" font-weight="normal" font-style="normal" text-anchor="middle" fill="#a8a8a8" color="#a8a8a8" font-family="Liberation Serif" >T</text>
<text x="534.70" y="174.50" font-size="8.6" font-weight="normal" font-style="normal" text-anchor="middle" fill="#a8a8a8" color="#a8a8a8" font-family="Liberation Serif" >G</text>
<text x="544.30" y="174.50" font-size="8.6" font-weight="normal" font-style="normal" text-anchor="middle" fill="#a8a8a8" color="#a8a8a8" font-family="Liberation Serif" >C</text>
<text x="553.90" y="174.50" font-size="8.6" font-weight="normal" font-style="normal" text-anchor="middle" fill="#a8a8a8" color="#a8a8a8" font-family="Liberation Serif" >A</text>
<text x="563.50" y="174.50" font-size="8.6" font-weight="normal" font-style="normal" text-anchor="middle" fill="#a8a8a8" color="#a8a8a8" font-family="Liberation Serif" >C</text>
<rect x="568.10" y="167.30" width="10.00" height="8.80" fill="#4a90d0" />
<text x="573.10" y="174.50" font-size="8.6" font-weight="normal" font-style="normal" text-anchor="middle" fill="#1a2a50" color="#1a2a50" font-family="Liberation Serif" >G</text>
<text x="582.70" y="174.50" font-size="8.6" font-weight="normal" font-style="normal" text-anchor="middle" fill="#a8a8a8" color="#a8a8a8" font-family="Liberation Serif" >T</text>
<text x="592.30" y="174.50" font-size="8.6" font-weight="normal" font-style="normal" text-anchor="middle" fill="#a8a8a8" color="#a8a8a8" font-family="Liberation Serif" >C</text>
<text x="601.90" y="174.50" font-size="8.6" font-weight="normal" font-style="normal" text-anchor="middle" fill="#a8a8a8" color="#a8a8a8" font-family="Liberation Serif" >A</text>
<text x="611.50" y="174.50" font-size="8.6" font-weight="normal" font-style="normal" text-anchor="middle" fill="#a8a8a8" color="#a8a8a8" font-family="Liberation Serif" >T</text>
<text x="621.10" y="174.50" font-size="8.6" font-weight="normal" font-style="normal" text-anchor="middle" fill="#a8a8a8" color="#a8a8a8" font-family="Liberation Serif" >G</text>
<text x="630.70" y="174.50" font-size="8.6" font-weight="normal" font-style="normal" text-anchor="middle" fill="#a8a8a8" color="#a8a8a8" font-family="Liberation Serif" >G</text>
<text x="640.30" y="174.50" font-size="8.6" font-weight="normal" font-style="normal" text-anchor="middle" fill="#a8a8a8" color="#a8a8a8" font-family="Liberation Serif" >T</text>
<text x="649.90" y="174.50" font-size="8.6" font-weight="normal" font-style="normal" text-anchor="middle" fill="#a8a8a8" color="#a8a8a8" font-family="Liberation Serif" >G</text>
<text x="659.50" y="174.50" font-size="8.6" font-weight="normal" font-style="normal" text-anchor="middle" fill="#a8a8a8" color="#a8a8a8" font-family="Liberation Serif" >G</text>
<text x="669.10" y="174.50" font-size="8.6" font-weight="normal" font-style="normal" text-anchor="middle" fill="#a8a8a8" color="#a8a8a8" font-family="Liberation Serif" >C</text>
<text x="678.70" y="174.50" font-size="8.6" font-weight="normal" font-style="normal" text-anchor="middle" fill="#a8a8a8" color="#a8a8a8" font-family="Liberation Serif" >T</text>
<rect x="568.5" y="57.5" width="10.5" height="120.5" fill="none" stroke="#555" stroke-width="0.8"/>
<text transform="translate(440.9,80.2) rotate(-90)" font-size="9.6" font-weight="bold" text-anchor="middle" font-family="Liberation Sans">Patient A</text>
<text transform="translate(451.9,80.2) rotate(-90)" font-size="9.6" font-weight="bold" text-anchor="middle" font-family="Liberation Sans">DTCs</text>
<line x1="457.50" y1="57.60" x2="457.50" y2="100.80" stroke="#333" stroke-width="1.0" />
<text x="455.20" y="122.40" font-size="9.4" font-weight="bold" font-style="normal" text-anchor="end" fill="#000" color="#000" font-family="Liberation Sans" >CD45+</text>
<text x="454.00" y="133.60" font-size="9.4" font-weight="bold" font-style="normal" text-anchor="end" fill="#000" color="#000" font-family="Liberation Sans" >BMCs</text>
<text x="454.20" y="157.00" font-size="9.4" font-weight="bold" font-style="normal" text-anchor="end" fill="#000" color="#000" font-family="Liberation Sans" >HCC1954</text>
<text x="456.40" y="166.70" font-size="7.6" font-weight="normal" font-style="normal" text-anchor="end" fill="#000" color="#000" font-family="Liberation Sans" >(pos. control)</text>
<text x="0.80" y="215.60" font-size="12.3" font-weight="bold" font-style="normal" text-anchor="start" fill="#000" color="#000" font-family="Liberation Sans" >d</text>
<rect x="41.20" y="225.60" width="430.80" height="79.40" fill="#ebebeb" />
<line x1="42.40" y1="225.60" x2="42.40" y2="305.00" stroke="#f6f6f6" stroke-width="0.5" />
<line x1="44.80" y1="225.60" x2="44.80" y2="305.00" stroke="#f6f6f6" stroke-width="0.5" />
<line x1="47.20" y1="225.60" x2="47.20" y2="305.00" stroke="#f6f6f6" stroke-width="0.5" />
<line x1="49.60" y1="225.60" x2="49.60" y2="305.00" stroke="#f6f6f6" stroke-width="0.5" />
<line x1="52.00" y1="225.60" x2="52.00" y2="305.00" stroke="#f6f6f6" stroke-width="0.5" />
<line x1="54.40" y1="225.60" x2="54.40" y2="305.00" stroke="#f6f6f6" stroke-width="0.5" />
<line x1="56.80" y1="225.60" x2="56.80" y2="305.00" stroke="#f6f6f6" stroke-width="0.5" />
<line x1="59.20" y1="225.60" x2="59.20" y2="305.00" stroke="#f6f6f6" stroke-width="0.5" />
<line x1="61.60" y1="225.60" x2="61.60" y2="305.00" stroke="#f6f6f6" stroke-width="0.5" />
<line x1="64.00" y1="225.60" x2="64.00" y2="305.00" stroke="#f6f6f6" stroke-width="0.5" />
<line x1="66.40" y1="225.60" x2="66.40" y2="305.00" stroke="#f6f6f6" stroke-width="0.5" />
<line x1="68.80" y1="225.60" x2="68.80" y2="305.00" stroke="#f6f6f6" stroke-width="0.5" />
<line x1="71.20" y1="225.60" x2="71.20" y2="305.00" stroke="#f6f6f6" stroke-width="0.5" />
<line x1="73.60" y1="225.60" x2="73.60" y2="305.00" stroke="#f6f6f6" stroke-width="0.5" />
<line x1="76.00" y1="225.60" x2="76.00" y2="305.00" stroke="#f6f6f6" stroke-width="0.5" />
<line x1="78.40" y1="225.60" x2="78.40" y2="305.00" stroke="#f6f6f6" stroke-width="0.5" />
<line x1="80.80" y1="225.60" x2="80.80" y2="305.00" stroke="#f6f6f6" stroke-width="0.5" />
<line x1="83.20" y1="225.60" x2="83.20" y2="305.00" stroke="#f6f6f6" stroke-width="0.5" />
<line x1="85.60" y1="225.60" x2="85.60" y2="305.00" stroke="#f6f6f6" stroke-width="0.5" />
<line x1="88.00" y1="225.60" x2="88.00" y2="305.00" stroke="#f6f6f6" stroke-width="0.5" />
<line x1="90.40" y1="225.60" x2="90.40" y2="305.00" stroke="#f6f6f6" stroke-width="0.5" />
<line x1="92.80" y1="225.60" x2="92.80" y2="305.00" stroke="#f6f6f6" stroke-width="0.5" />
<line x1="95.20" y1="225.60" x2="95.20" y2="305.00" stroke="#f6f6f6" stroke-width="0.5" />
<line x1="97.60" y1="225.60" x2="97.60" y2="305.00" stroke="#f6f6f6" stroke-width="0.5" />
<line x1="100.00" y1="225.60" x2="100.00" y2="305.00" stroke="#f6f6f6" stroke-width="0.5" />
<line x1="102.40" y1="225.60" x2="102.40" y2="305.00" stroke="#f6f6f6" stroke-width="0.5" />
<line x1="104.80" y1="225.60" x2="104.80" y2="305.00" stroke="#f6f6f6" stroke-width="0.5" />
<line x1="107.20" y1="225.60" x2="107.20" y2="305.00" stroke="#f6f6f6" stroke-width="0.5" />
<line x1="109.60" y1="225.60" x2="109.60" y2="305.00" stroke="#f6f6f6" stroke-width="0.5" />
<line x1="112.00" y1="225.60" x2="112.00" y2="305.00" stroke="#f6f6f6" stroke-width="0.5" />
<line x1="114.40" y1="225.60" x2="114.40" y2="305.00" stroke="#f6f6f6" stroke-width="0.5" />
<line x1="116.80" y1="225.60" x2="116.80" y2="305.00" stroke="#f6f6f6" stroke-width="0.5" />
<line x1="119.20" y1="225.60" x2="119.20" y2="305.00" stroke="#f6f6f6" stroke-width="0.5" />
<line x1="121.60" y1="225.60" x2="121.60" y2="305.00" stroke="#f6f6f6" stroke-width="0.5" />
<line x1="124.00" y1="225.60" x2="124.00" y2="305.00" stroke="#f6f6f6" stroke-width="0.5" />
<line x1="126.40" y1="225.60" x2="126.40" y2="305.00" stroke="#f6f6f6" stroke-width="0.5" />
<line x1="128.80" y1="225.60" x2="128.80" y2="305.00" stroke="#f6f6f6" stroke-width="0.5" />
<line x1="131.20" y1="225.60" x2="131.20" y2="305.00" stroke="#f6f6f6" stroke-width="0.5" />
<line x1="133.60" y1="225.60" x2="133.60" y2="305.00" stroke="#f6f6f6" stroke-width="0.5" />
<line x1="136.00" y1="225.60" x2="136.00" y2="305.00" stroke="#f6f6f6" stroke-width="0.5" />
<line x1="138.40" y1="225.60" x2="138.40" y2="305.00" stroke="#f6f6f6" stroke-width="0.5" />
<line x1="140.80" y1="225.60" x2="140.80" y2="305.00" stroke="#f6f6f6" stroke-width="0.5" />
<line x1="143.20" y1="225.60" x2="143.20" y2="305.00" stroke="#f6f6f6" stroke-width="0.5" />
<line x1="145.60" y1="225.60" x2="145.60" y2="305.00" stroke="#f6f6f6" stroke-width="0.5" />
<line x1="148.00" y1="225.60" x2="148.00" y2="305.00" stroke="#f6f6f6" stroke-width="0.5" />
<line x1="150.40" y1="225.60" x2="150.40" y2="305.00" stroke="#f6f6f6" stroke-width="0.5" />
<line x1="152.80" y1="225.60" x2="152.80" y2="305.00" stroke="#f6f6f6" stroke-width="0.5" />
<line x1="155.20" y1="225.60" x2="155.20" y2="305.00" stroke="#f6f6f6" stroke-width="0.5" />
<line x1="157.60" y1="225.60" x2="157.60" y2="305.00" stroke="#f6f6f6" stroke-width="0.5" />
<line x1="160.00" y1="225.60" x2="160.00" y2="305.00" stroke="#f6f6f6" stroke-width="0.5" />
<line x1="162.40" y1="225.60" x2="162.40" y2="305.00" stroke="#f6f6f6" stroke-width="0.5" />
<line x1="164.80" y1="225.60" x2="164.80" y2="305.00" stroke="#f6f6f6" stroke-width="0.5" />
<line x1="167.20" y1="225.60" x2="167.20" y2="305.00" stroke="#f6f6f6" stroke-width="0.5" />
<line x1="169.60" y1="225.60" x2="169.60" y2="305.00" stroke="#f6f6f6" stroke-width="0.5" />
<line x1="172.00" y1="225.60" x2="172.00" y2="305.00" stroke="#f6f6f6" stroke-width="0.5" />
<line x1="174.40" y1="225.60" x2="174.40" y2="305.00" stroke="#f6f6f6" stroke-width="0.5" />
<line x1="176.80" y1="225.60" x2="176.80" y2="305.00" stroke="#f6f6f6" stroke-width="0.5" />
<line x1="179.20" y1="225.60" x2="179.20" y2="305.00" stroke="#f6f6f6" stroke-width="0.5" />
<line x1="181.60" y1="225.60" x2="181.60" y2="305.00" stroke="#f6f6f6" stroke-width="0.5" />
<line x1="184.00" y1="225.60" x2="184.00" y2="305.00" stroke="#f6f6f6" stroke-width="0.5" />
<line x1="186.40" y1="225.60" x2="186.40" y2="305.00" stroke="#f6f6f6" stroke-width="0.5" />
<line x1="188.80" y1="225.60" x2="188.80" y2="305.00" stroke="#f6f6f6" stroke-width="0.5" />
<line x1="191.20" y1="225.60" x2="191.20" y2="305.00" stroke="#f6f6f6" stroke-width="0.5" />
<line x1="193.60" y1="225.60" x2="193.60" y2="305.00" stroke="#f6f6f6" stroke-width="0.5" />
<line x1="196.00" y1="225.60" x2="196.00" y2="305.00" stroke="#f6f6f6" stroke-width="0.5" />
<line x1="198.40" y1="225.60" x2="198.40" y2="305.00" stroke="#f6f6f6" stroke-width="0.5" />
<line x1="200.80" y1="225.60" x2="200.80" y2="305.00" stroke="#f6f6f6" stroke-width="0.5" />
<line x1="203.20" y1="225.60" x2="203.20" y2="305.00" stroke="#f6f6f6" stroke-width="0.5" />
<line x1="205.60" y1="225.60" x2="205.60" y2="305.00" stroke="#f6f6f6" stroke-width="0.5" />
<line x1="208.00" y1="225.60" x2="208.00" y2="305.00" stroke="#f6f6f6" stroke-width="0.5" />
<line x1="210.40" y1="225.60" x2="210.40" y2="305.00" stroke="#f6f6f6" stroke-width="0.5" />
<line x1="212.80" y1="225.60" x2="212.80" y2="305.00" stroke="#f6f6f6" stroke-width="0.5" />
<line x1="215.20" y1="225.60" x2="215.20" y2="305.00" stroke="#f6f6f6" stroke-width="0.5" />
<line x1="217.60" y1="225.60" x2="217.60" y2="305.00" stroke="#f6f6f6" stroke-width="0.5" />
<line x1="220.00" y1="225.60" x2="220.00" y2="305.00" stroke="#f6f6f6" stroke-width="0.5" />
<line x1="222.40" y1="225.60" x2="222.40" y2="305.00" stroke="#f6f6f6" stroke-width="0.5" />
<line x1="224.80" y1="225.60" x2="224.80" y2="305.00" stroke="#f6f6f6" stroke-width="0.5" />
<line x1="227.20" y1="225.60" x2="227.20" y2="305.00" stroke="#f6f6f6" stroke-width="0.5" />
<line x1="229.60" y1="225.60" x2="229.60" y2="305.00" stroke="#f6f6f6" stroke-width="0.5" />
<line x1="232.00" y1="225.60" x2="232.00" y2="305.00" stroke="#f6f6f6" stroke-width="0.5" />
<line x1="234.40" y1="225.60" x2="234.40" y2="305.00" stroke="#f6f6f6" stroke-width="0.5" />
<line x1="236.80" y1="225.60" x2="236.80" y2="305.00" stroke="#f6f6f6" stroke-width="0.5" />
<line x1="239.20" y1="225.60" x2="239.20" y2="305.00" stroke="#f6f6f6" stroke-width="0.5" />
<line x1="241.60" y1="225.60" x2="241.60" y2="305.00" stroke="#f6f6f6" stroke-width="0.5" />
<line x1="244.00" y1="225.60" x2="244.00" y2="305.00" stroke="#f6f6f6" stroke-width="0.5" />
<line x1="246.40" y1="225.60" x2="246.40" y2="305.00" stroke="#f6f6f6" stroke-width="0.5" />
<line x1="248.80" y1="225.60" x2="248.80" y2="305.00" stroke="#f6f6f6" stroke-width="0.5" />
<line x1="251.20" y1="225.60" x2="251.20" y2="305.00" stroke="#f6f6f6" stroke-width="0.5" />
<line x1="253.60" y1="225.60" x2="253.60" y2="305.00" stroke="#f6f6f6" stroke-width="0.5" />
<line x1="256.00" y1="225.60" x2="256.00" y2="305.00" stroke="#f6f6f6" stroke-width="0.5" />
<line x1="258.40" y1="225.60" x2="258.40" y2="305.00" stroke="#f6f6f6" stroke-width="0.5" />
<line x1="260.80" y1="225.60" x2="260.80" y2="305.00" stroke="#f6f6f6" stroke-width="0.5" />
<line x1="263.20" y1="225.60" x2="263.20" y2="305.00" stroke="#f6f6f6" stroke-width="0.5" />
<line x1="265.60" y1="225.60" x2="265.60" y2="305.00" stroke="#f6f6f6" stroke-width="0.5" />
<line x1="268.00" y1="225.60" x2="268.00" y2="305.00" stroke="#f6f6f6" stroke-width="0.5" />
<line x1="270.40" y1="225.60" x2="270.40" y2="305.00" stroke="#f6f6f6" stroke-width="0.5" />
<line x1="272.80" y1="225.60" x2="272.80" y2="305.00" stroke="#f6f6f6" stroke-width="0.5" />
<line x1="275.20" y1="225.60" x2="275.20" y2="305.00" stroke="#f6f6f6" stroke-width="0.5" />
<line x1="277.60" y1="225.60" x2="277.60" y2="305.00" stroke="#f6f6f6" stroke-width="0.5" />
<line x1="280.00" y1="225.60" x2="280.00" y2="305.00" stroke="#f6f6f6" stroke-width="0.5" />
<line x1="282.40" y1="225.60" x2="282.40" y2="305.00" stroke="#f6f6f6" stroke-width="0.5" />
<line x1="284.80" y1="225.60" x2="284.80" y2="305.00" stroke="#f6f6f6" stroke-width="0.5" />
<line x1="287.20" y1="225.60" x2="287.20" y2="305.00" stroke="#f6f6f6" stroke-width="0.5" />
<line x1="289.60" y1="225.60" x2="289.60" y2="305.00" stroke="#f6f6f6" stroke-width="0.5" />
<line x1="292.00" y1="225.60" x2="292.00" y2="305.00" stroke="#f6f6f6" stroke-width="0.5" />
<line x1="294.40" y1="225.60" x2="294.40" y2="305.00" stroke="#f6f6f6" stroke-width="0.5" />
<line x1="296.80" y1="225.60" x2="296.80" y2="305.00" stroke="#f6f6f6" stroke-width="0.5" />
<line x1="299.20" y1="225.60" x2="299.20" y2="305.00" stroke="#f6f6f6" stroke-width="0.5" />
<line x1="301.60" y1="225.60" x2="301.60" y2="305.00" stroke="#f6f6f6" stroke-width="0.5" />
<line x1="304.00" y1="225.60" x2="304.00" y2="305.00" stroke="#f6f6f6" stroke-width="0.5" />
<line x1="306.40" y1="225.60" x2="306.40" y2="305.00" stroke="#f6f6f6" stroke-width="0.5" />
<line x1="308.80" y1="225.60" x2="308.80" y2="305.00" stroke="#f6f6f6" stroke-width="0.5" />
<line x1="311.20" y1="225.60" x2="311.20" y2="305.00" stroke="#f6f6f6" stroke-width="0.5" />
<line x1="313.60" y1="225.60" x2="313.60" y2="305.00" stroke="#f6f6f6" stroke-width="0.5" />
<line x1="316.00" y1="225.60" x2="316.00" y2="305.00" stroke="#f6f6f6" stroke-width="0.5" />
<line x1="318.40" y1="225.60" x2="318.40" y2="305.00" stroke="#f6f6f6" stroke-width="0.5" />
<line x1="320.80" y1="225.60" x2="320.80" y2="305.00" stroke="#f6f6f6" stroke-width="0.5" />
<line x1="323.20" y1="225.60" x2="323.20" y2="305.00" stroke="#f6f6f6" stroke-width="0.5" />
<line x1="325.60" y1="225.60" x2="325.60" y2="305.00" stroke="#f6f6f6" stroke-width="0.5" />
<line x1="328.00" y1="225.60" x2="328.00" y2="305.00" stroke="#f6f6f6" stroke-width="0.5" />
<line x1="330.40" y1="225.60" x2="330.40" y2="305.00" stroke="#f6f6f6" stroke-width="0.5" />
<line x1="332.80" y1="225.60" x2="332.80" y2="305.00" stroke="#f6f6f6" stroke-width="0.5" />
<line x1="335.20" y1="225.60" x2="335.20" y2="305.00" stroke="#f6f6f6" stroke-width="0.5" />
<line x1="337.60" y1="225.60" x2="337.60" y2="305.00" stroke="#f6f6f6" stroke-width="0.5" />
<line x1="340.00" y1="225.60" x2="340.00" y2="305.00" stroke="#f6f6f6" stroke-width="0.5" />
<line x1="342.40" y1="225.60" x2="342.40" y2="305.00" stroke="#f6f6f6" stroke-width="0.5" />
<line x1="344.80" y1="225.60" x2="344.80" y2="305.00" stroke="#f6f6f6" stroke-width="0.5" />
<line x1="347.20" y1="225.60" x2="347.20" y2="305.00" stroke="#f6f6f6" stroke-width="0.5" />
<line x1="349.60" y1="225.60" x2="349.60" y2="305.00" stroke="#f6f6f6" stroke-width="0.5" />
<line x1="352.00" y1="225.60" x2="352.00" y2="305.00" stroke="#f6f6f6" stroke-width="0.5" />
<line x1="354.40" y1="225.60" x2="354.40" y2="305.00" stroke="#f6f6f6" stroke-width="0.5" />
<line x1="356.80" y1="225.60" x2="356.80" y2="305.00" stroke="#f6f6f6" stroke-width="0.5" />
<line x1="359.20" y1="225.60" x2="359.20" y2="305.00" stroke="#f6f6f6" stroke-width="0.5" />
<line x1="361.60" y1="225.60" x2="361.60" y2="305.00" stroke="#f6f6f6" stroke-width="0.5" />
<line x1="364.00" y1="225.60" x2="364.00" y2="305.00" stroke="#f6f6f6" stroke-width="0.5" />
<line x1="366.40" y1="225.60" x2="366.40" y2="305.00" stroke="#f6f6f6" stroke-width="0.5" />
<line x1="368.80" y1="225.60" x2="368.80" y2="305.00" stroke="#f6f6f6" stroke-width="0.5" />
<line x1="371.20" y1="225.60" x2="371.20" y2="305.00" stroke="#f6f6f6" stroke-width="0.5" />
<line x1="373.60" y1="225.60" x2="373.60" y2="305.00" stroke="#f6f6f6" stroke-width="0.5" />
<line x1="376.00" y1="225.60" x2="376.00" y2="305.00" stroke="#f6f6f6" stroke-width="0.5" />
<line x1="378.40" y1="225.60" x2="378.40" y2="305.00" stroke="#f6f6f6" stroke-width="0.5" />
<line x1="380.80" y1="225.60" x2="380.80" y2="305.00" stroke="#f6f6f6" stroke-width="0.5" />
<line x1="383.20" y1="225.60" x2="383.20" y2="305.00" stroke="#f6f6f6" stroke-width="0.5" />
<line x1="385.60" y1="225.60" x2="385.60" y2="305.00" stroke="#f6f6f6" stroke-width="0.5" />
<line x1="388.00" y1="225.60" x2="388.00" y2="305.00" stroke="#f6f6f6" stroke-width="0.5" />
<line x1="390.40" y1="225.60" x2="390.40" y2="305.00" stroke="#f6f6f6" stroke-width="0.5" />
<line x1="392.80" y1="225.60" x2="392.80" y2="305.00" stroke="#f6f6f6" stroke-width="0.5" />
<line x1="395.20" y1="225.60" x2="395.20" y2="305.00" stroke="#f6f6f6" stroke-width="0.5" />
<line x1="397.60" y1="225.60" x2="397.60" y2="305.00" stroke="#f6f6f6" stroke-width="0.5" />
<line x1="400.00" y1="225.60" x2="400.00" y2="305.00" stroke="#f6f6f6" stroke-width="0.5" />
<line x1="402.40" y1="225.60" x2="402.40" y2="305.00" stroke="#f6f6f6" stroke-width="0.5" />
<line x1="404.80" y1="225.60" x2="404.80" y2="305.00" stroke="#f6f6f6" stroke-width="0.5" />
<line x1="407.20" y1="225.60" x2="407.20" y2="305.00" stroke="#f6f6f6" stroke-width="0.5" />
<line x1="409.60" y1="225.60" x2="409.60" y2="305.00" stroke="#f6f6f6" stroke-width="0.5" />
<line x1="412.00" y1="225.60" x2="412.00" y2="305.00" stroke="#f6f6f6" stroke-width="0.5" />
<line x1="414.40" y1="225.60" x2="414.40" y2="305.00" stroke="#f6f6f6" stroke-width="0.5" />
<line x1="416.80" y1="225.60" x2="416.80" y2="305.00" stroke="#f6f6f6" stroke-width="0.5" />
<line x1="419.20" y1="225.60" x2="419.20" y2="305.00" stroke="#f6f6f6" stroke-width="0.5" />
<line x1="421.60" y1="225.60" x2="421.60" y2="305.00" stroke="#f6f6f6" stroke-width="0.5" />
<line x1="424.00" y1="225.60" x2="424.00" y2="305.00" stroke="#f6f6f6" stroke-width="0.5" />
<line x1="426.40" y1="225.60" x2="426.40" y2="305.00" stroke="#f6f6f6" stroke-width="0.5" />
<line x1="428.80" y1="225.60" x2="428.80" y2="305.00" stroke="#f6f6f6" stroke-width="0.5" />
<line x1="431.20" y1="225.60" x2="431.20" y2="305.00" stroke="#f6f6f6" stroke-width="0.5" />
<line x1="433.60" y1="225.60" x2="433.60" y2="305.00" stroke="#f6f6f6" stroke-width="0.5" />
<line x1="436.00" y1="225.60" x2="436.00" y2="305.00" stroke="#f6f6f6" stroke-width="0.5" />
<line x1="438.40" y1="225.60" x2="438.40" y2="305.00" stroke="#f6f6f6" stroke-width="0.5" />
<line x1="440.80" y1="225.60" x2="440.80" y2="305.00" stroke="#f6f6f6" stroke-width="0.5" />
<line x1="443.20" y1="225.60" x2="443.20" y2="305.00" stroke="#f6f6f6" stroke-width="0.5" />
<line x1="445.60" y1="225.60" x2="445.60" y2="305.00" stroke="#f6f6f6" stroke-width="0.5" />
<line x1="448.00" y1="225.60" x2="448.00" y2="305.00" stroke="#f6f6f6" stroke-width="0.5" />
<line x1="450.40" y1="225.60" x2="450.40" y2="305.00" stroke="#f6f6f6" stroke-width="0.5" />
<line x1="452.80" y1="225.60" x2="452.80" y2="305.00" stroke="#f6f6f6" stroke-width="0.5" />
<line x1="455.20" y1="225.60" x2="455.20" y2="305.00" stroke="#f6f6f6" stroke-width="0.5" />
<line x1="457.60" y1="225.60" x2="457.60" y2="305.00" stroke="#f6f6f6" stroke-width="0.5" />
<line x1="460.00" y1="225.60" x2="460.00" y2="305.00" stroke="#f6f6f6" stroke-width="0.5" />
<line x1="462.40" y1="225.60" x2="462.40" y2="305.00" stroke="#f6f6f6" stroke-width="0.5" />
<line x1="464.80" y1="225.60" x2="464.80" y2="305.00" stroke="#f6f6f6" stroke-width="0.5" />
<line x1="467.20" y1="225.60" x2="467.20" y2="305.00" stroke="#f6f6f6" stroke-width="0.5" />
<line x1="469.60" y1="225.60" x2="469.60" y2="305.00" stroke="#f6f6f6" stroke-width="0.5" />
<line x1="472.00" y1="225.60" x2="472.00" y2="305.00" stroke="#f6f6f6" stroke-width="0.5" />
<line x1="41.20" y1="294.40" x2="472.00" y2="296.30" stroke="#ffffff" stroke-width="1.3" />
<line x1="41.20" y1="277.75" x2="472.00" y2="279.65" stroke="#ffffff" stroke-width="0.8" />
<line x1="41.20" y1="261.10" x2="472.00" y2="263.00" stroke="#ffffff" stroke-width="1.3" />
<line x1="41.20" y1="244.45" x2="472.00" y2="246.35" stroke="#ffffff" stroke-width="0.8" />
<line x1="41.20" y1="227.80" x2="472.00" y2="229.70" stroke="#ffffff" stroke-width="1.3" />
<line x1="59.93" y1="225.60" x2="59.93" y2="305.00" stroke="#c6c6c6" stroke-width="0.6" />
<line x1="78.66" y1="225.60" x2="78.66" y2="305.00" stroke="#c6c6c6" stroke-width="0.6" />
<line x1="97.39" y1="225.60" x2="97.39" y2="305.00" stroke="#c6c6c6" stroke-width="0.6" />
<line x1="116.12" y1="225.60" x2="116.12" y2="305.00" stroke="#c6c6c6" stroke-width="0.6" />
<line x1="134.85" y1="225.60" x2="134.85" y2="305.00" stroke="#c6c6c6" stroke-width="0.6" />
<line x1="153.58" y1="225.60" x2="153.58" y2="305.00" stroke="#c6c6c6" stroke-width="0.6" />
<line x1="172.31" y1="225.60" x2="172.31" y2="305.00" stroke="#c6c6c6" stroke-width="0.6" />
<line x1="191.04" y1="225.60" x2="191.04" y2="305.00" stroke="#c6c6c6" stroke-width="0.6" />
<line x1="209.77" y1="225.60" x2="209.77" y2="305.00" stroke="#c6c6c6" stroke-width="0.6" />
<line x1="228.50" y1="225.60" x2="228.50" y2="305.00" stroke="#c6c6c6" stroke-width="0.6" />
<line x1="247.23" y1="225.60" x2="247.23" y2="305.00" stroke="#c6c6c6" stroke-width="0.6" />
<line x1="265.97" y1="225.60" x2="265.97" y2="305.00" stroke="#c6c6c6" stroke-width="0.6" />
<line x1="284.70" y1="225.60" x2="284.70" y2="305.00" stroke="#c6c6c6" stroke-width="0.6" />
<line x1="303.43" y1="225.60" x2="303.43" y2="305.00" stroke="#c6c6c6" stroke-width="0.6" />
<line x1="322.16" y1="225.60" x2="322.16" y2="305.00" stroke="#c6c6c6" stroke-width="0.6" />
<line x1="340.89" y1="225.60" x2="340.89" y2="305.00" stroke="#c6c6c6" stroke-width="0.6" />
<line x1="359.62" y1="225.60" x2="359.62" y2="305.00" stroke="#c6c6c6" stroke-width="0.6" />
<line x1="378.35" y1="225.60" x2="378.35" y2="305.00" stroke="#c6c6c6" stroke-width="0.6" />
<line x1="397.08" y1="225.60" x2="397.08" y2="305.00" stroke="#c6c6c6" stroke-width="0.6" />
<line x1="415.81" y1="225.60" x2="415.81" y2="305.00" stroke="#c6c6c6" stroke-width="0.6" />
<line x1="434.54" y1="225.60" x2="434.54" y2="305.00" stroke="#c6c6c6" stroke-width="0.6" />
<line x1="453.27" y1="225.60" x2="453.27" y2="305.00" stroke="#c6c6c6" stroke-width="0.6" />
<rect x="44.00" y="240.97" width="6.40" height="2.50" fill="#77a1e6" />
<rect x="52.50" y="240.97" width="7.10" height="2.50" fill="#77a1e6" />
<rect x="52.50" y="243.63" width="6.50" height="2.50" fill="#ec8380" />
<rect x="41.60" y="259.95" width="8.80" height="2.50" fill="#4cc25a" />
<rect x="52.50" y="259.95" width="7.10" height="2.50" fill="#4cc25a" />
<rect x="43.50" y="259.28" width="2.00" height="2.50" fill="#ec8380" />
<rect x="45.50" y="258.62" width="2.00" height="2.50" fill="#ec8380" />
<rect x="47.50" y="257.62" width="1.50" height="2.50" fill="#ec8380" />
<rect x="49.00" y="256.29" width="1.40" height="2.50" fill="#ec8380" />
<rect x="41.40" y="271.61" width="1.90" height="2.50" fill="#ec8380" />
<rect x="41.40" y="282.93" width="1.60" height="2.50" fill="#77a1e6" />
<rect x="59.00" y="249.96" width="0.60" height="2.50" fill="#ec8380" />
<rect x="60.20" y="258.95" width="8.80" height="2.50" fill="#ec8380" />
<rect x="69.00" y="259.95" width="9.40" height="2.50" fill="#ec8380" />
<rect x="60.20" y="257.62" width="8.80" height="2.50" fill="#77a1e6" />
<rect x="69.00" y="258.95" width="9.40" height="2.50" fill="#77a1e6" />
<rect x="79.00" y="253.62" width="18.10" height="2.50" fill="#4cc25a" />
<rect x="79.00" y="255.29" width="18.10" height="2.50" fill="#77a1e6" />
<rect x="79.00" y="261.62" width="3.00" height="2.50" fill="#ec8380" />
<rect x="82.00" y="260.62" width="6.00" height="2.50" fill="#ec8380" />
<rect x="88.00" y="259.95" width="5.00" height="2.50" fill="#ec8380" />
<rect x="93.00" y="258.95" width="4.10" height="2.50" fill="#ec8380" />
<rect x="97.60" y="260.28" width="18.30" height="2.50" fill="#4cc25a" />
<rect x="97.60" y="260.28" width="18.30" height="2.50" fill="#ec8380" />
<rect x="97.60" y="259.95" width="18.30" height="2.50" fill="#77a1e6" />
<rect x="116.30" y="262.61" width="18.40" height="2.50" fill="#4cc25a" />
<rect x="116.30" y="258.95" width="18.40" height="2.50" fill="#b07ad8" />
<rect x="131.00" y="259.95" width="3.70" height="2.50" fill="#77a1e6" />
<rect x="135.00" y="252.96" width="4.00" height="2.50" fill="#77a1e6" />
<rect x="135.00" y="255.62" width="18.40" height="2.50" fill="#4cc25a" />
<rect x="135.00" y="257.95" width="3.00" height="2.50" fill="#ec8380" />
<rect x="139.60" y="272.60" width="13.80" height="2.50" fill="#ec8380" />
<rect x="139.60" y="287.92" width="13.80" height="2.50" fill="#77a1e6" />
<rect x="153.80" y="262.28" width="18.30" height="2.50" fill="#4cc25a" />
<rect x="153.80" y="260.62" width="18.30" height="2.50" fill="#ec8380" />
<rect x="153.80" y="261.62" width="18.30" height="2.50" fill="#77a1e6" />
<rect x="172.50" y="259.95" width="18.30" height="2.50" fill="#4cc25a" />
<rect x="172.50" y="257.29" width="18.30" height="2.50" fill="#77a1e6" />
<rect x="172.50" y="275.60" width="4.50" height="2.50" fill="#ec8380" />
<rect x="186.00" y="260.62" width="4.80" height="2.50" fill="#ec8380" />
<rect x="191.20" y="255.29" width="4.80" height="2.50" fill="#77a1e6" />
<rect x="200.40" y="255.29" width="9.10" height="2.50" fill="#77a1e6" />
<rect x="191.20" y="259.95" width="4.80" height="2.50" fill="#4cc25a" />
<rect x="200.40" y="259.95" width="9.10" height="2.50" fill="#4cc25a" />
<rect x="191.20" y="261.28" width="4.80" height="2.50" fill="#ec8380" />
<rect x="200.40" y="261.28" width="3.20" height="2.50" fill="#ec8380" />
<rect x="210.00" y="263.28" width="18.30" height="2.50" fill="#4cc25a" />
<rect x="210.00" y="256.95" width="18.30" height="2.50" fill="#77a1e6" />
<rect x="212.00" y="259.95" width="16.30" height="2.50" fill="#ec8380" />
<rect x="228.70" y="260.28" width="18.30" height="2.50" fill="#4cc25a" />
<rect x="228.70" y="257.62" width="18.30" height="2.50" fill="#77a1e6" />
<rect x="228.70" y="258.95" width="18.30" height="2.50" fill="#ec8380" />
<rect x="247.40" y="260.28" width="18.40" height="2.50" fill="#4cc25a" />
<rect x="247.40" y="260.62" width="18.40" height="2.50" fill="#77a1e6" />
<rect x="247.40" y="258.95" width="18.40" height="2.50" fill="#ec8380" />
<rect x="266.20" y="262.95" width="18.30" height="2.50" fill="#77a1e6" />
<rect x="266.20" y="266.94" width="18.30" height="2.50" fill="#4cc25a" />
<rect x="266.20" y="270.94" width="18.30" height="2.50" fill="#ec8380" />
<rect x="265.00" y="264.94" width="1.20" height="2.50" fill="#ec8380" />
<rect x="284.90" y="260.62" width="9.10" height="2.50" fill="#77a1e6" />
<rect x="294.00" y="259.28" width="9.20" height="2.50" fill="#77a1e6" />
<rect x="284.90" y="262.28" width="18.30" height="2.50" fill="#b07ad8" />
<rect x="284.90" y="265.28" width="18.30" height="2.50" fill="#4cc25a" />
<rect x="303.60" y="258.95" width="18.40" height="2.50" fill="#77a1e6" />
<rect x="303.60" y="261.28" width="18.40" height="2.50" fill="#ec8380" />
<rect x="303.60" y="265.28" width="18.40" height="2.50" fill="#4cc25a" />
<rect x="322.40" y="254.29" width="6.60" height="2.50" fill="#77a1e6" />
<rect x="322.40" y="258.62" width="6.60" height="2.50" fill="#4cc25a" />
<rect x="332.00" y="258.62" width="8.70" height="2.50" fill="#4cc25a" />
<rect x="322.40" y="267.28" width="6.60" height="2.50" fill="#ec8380" />
<rect x="332.00" y="277.60" width="9.00" height="2.50" fill="#ec8380" />
<rect x="332.00" y="287.26" width="8.70" height="2.50" fill="#77a1e6" />
<rect x="341.00" y="286.26" width="3.50" height="2.50" fill="#77a1e6" />
<rect x="342.00" y="277.60" width="3.00" height="2.50" fill="#ec8380" />
<rect x="341.10" y="256.95" width="18.30" height="2.50" fill="#77a1e6" />
<rect x="341.10" y="262.95" width="18.30" height="2.50" fill="#ec8380" />
<rect x="341.10" y="266.94" width="18.30" height="2.50" fill="#4cc25a" />
<rect x="345.00" y="261.95" width="5.00" height="2.50" fill="#ec8380" />
<rect x="359.80" y="257.29" width="18.40" height="2.50" fill="#4cc25a" />
<rect x="359.80" y="263.61" width="18.40" height="2.50" fill="#77a1e6" />
<rect x="374.00" y="265.28" width="4.20" height="2.50" fill="#ec8380" />
<rect x="356.00" y="257.95" width="3.60" height="2.50" fill="#77a1e6" />
<rect x="356.00" y="261.28" width="3.60" height="2.50" fill="#ec8380" />
<rect x="356.00" y="263.28" width="3.60" height="2.50" fill="#4cc25a" />
<rect x="378.60" y="257.62" width="18.30" height="2.50" fill="#77a1e6" />
<rect x="378.60" y="264.94" width="18.30" height="2.50" fill="#ec8380" />
<rect x="378.60" y="272.94" width="18.30" height="2.50" fill="#4cc25a" />
<rect x="397.30" y="257.62" width="18.30" height="2.50" fill="#77a1e6" />
<rect x="397.30" y="257.62" width="8.70" height="2.50" fill="#b07ad8" />
<rect x="397.30" y="262.95" width="18.30" height="2.50" fill="#4cc25a" />
<rect x="411.00" y="263.95" width="4.60" height="2.50" fill="#ec8380" />
<rect x="416.00" y="256.29" width="18.30" height="2.50" fill="#77a1e6" />
<rect x="416.00" y="260.62" width="18.30" height="2.50" fill="#4cc25a" />
<rect x="416.00" y="262.95" width="18.30" height="2.50" fill="#ec8380" />
<rect x="434.70" y="253.96" width="18.40" height="2.50" fill="#77a1e6" />
<rect x="434.70" y="257.95" width="18.40" height="2.50" fill="#4cc25a" />
<rect x="434.70" y="263.61" width="18.40" height="2.50" fill="#ec8380" />
<rect x="453.50" y="260.95" width="6.00" height="2.50" fill="#77a1e6" />
<rect x="453.50" y="264.28" width="6.00" height="2.50" fill="#ec8380" />
<rect x="453.50" y="269.27" width="6.00" height="2.50" fill="#4cc25a" />
<rect x="460.00" y="255.95" width="2.00" height="2.50" fill="#4cc25a" />
<rect x="461.00" y="258.28" width="2.00" height="2.50" fill="#ec8380" />
<rect x="462.00" y="259.95" width="2.00" height="2.50" fill="#ec8380" />
<rect x="463.00" y="262.28" width="2.00" height="2.50" fill="#4cc25a" />
<rect x="464.50" y="263.95" width="2.00" height="2.50" fill="#4cc25a" />
<rect x="466.00" y="265.61" width="2.00" height="2.50" fill="#ec8380" />
<rect x="467.50" y="266.61" width="2.00" height="2.50" fill="#4cc25a" />
<rect x="468.50" y="267.61" width="3.00" height="2.50" fill="#ec8380" />
<rect x="465.00" y="260.62" width="4.00" height="2.50" fill="#77a1e6" />
<rect x="462.00" y="256.62" width="3.00" height="2.50" fill="#77a1e6" />
<rect x="470.50" y="272.60" width="1.30" height="2.50" fill="#4cc25a" />
<rect x="460.00" y="249.96" width="1.50" height="2.50" fill="#77a1e6" />
<rect x="58.80" y="250.68" width="1.00" height="2.40" fill="#ec8380" opacity="0.7"/>
<rect x="135.80" y="263.33" width="1.00" height="2.40" fill="#ec8380" opacity="0.7"/>
<rect x="156.00" y="267.33" width="1.00" height="2.40" fill="#ec8380" opacity="0.7"/>
<rect x="212.00" y="252.67" width="1.00" height="2.40" fill="#ec8380" opacity="0.7"/>
<rect x="219.50" y="250.01" width="1.00" height="2.40" fill="#ec8380" opacity="0.7"/>
<rect x="240.50" y="263.33" width="1.00" height="2.40" fill="#ec8380" opacity="0.7"/>
<rect x="263.70" y="250.01" width="1.00" height="2.40" fill="#ec8380" opacity="0.7"/>
<rect x="289.50" y="246.68" width="1.00" height="2.40" fill="#ec8380" opacity="0.7"/>
<rect x="301.50" y="268.32" width="1.00" height="2.40" fill="#ec8380" opacity="0.7"/>
<rect x="307.50" y="250.01" width="1.00" height="2.40" fill="#ec8380" opacity="0.7"/>
<rect x="318.00" y="270.66" width="1.00" height="2.40" fill="#ec8380" opacity="0.7"/>
<rect x="324.50" y="258.00" width="1.00" height="2.40" fill="#ec8380" opacity="0.7"/>
<rect x="351.50" y="253.34" width="1.00" height="2.40" fill="#ec8380" opacity="0.7"/>
<rect x="387.50" y="260.00" width="1.00" height="2.40" fill="#ec8380" opacity="0.7"/>
<rect x="411.50" y="240.02" width="1.00" height="2.40" fill="#ec8380" opacity="0.7"/>
<rect x="451.00" y="268.32" width="1.00" height="2.40" fill="#ec8380" opacity="0.7"/>
<rect x="461.50" y="294.96" width="1.00" height="2.40" fill="#ec8380" opacity="0.7"/>
<rect x="229.00" y="269.32" width="1.00" height="2.40" fill="#ec8380" opacity="0.7"/>
<rect x="280.00" y="246.68" width="1.00" height="2.40" fill="#4cc25a" opacity="0.7"/>
<text x="39.30" y="297.74" font-size="9.0" font-weight="normal" font-style="normal" text-anchor="end" fill="#1a1a1a" color="#1a1a1a" font-family="Liberation Sans" >1</text>
<text x="39.30" y="264.44" font-size="9.0" font-weight="normal" font-style="normal" text-anchor="end" fill="#1a1a1a" color="#1a1a1a" font-family="Liberation Sans" >2</text>
<text x="39.30" y="231.14" font-size="9.0" font-weight="normal" font-style="normal" text-anchor="end" fill="#1a1a1a" color="#1a1a1a" font-family="Liberation Sans" >3</text>
<text transform="translate(28.20,263.40) rotate(-90)" font-size="9.3" text-anchor="middle" font-family="Liberation Sans" fill="#111">Copy Number</text>
<text x="3.20" y="312.70" font-size="6.3" font-weight="normal" font-style="normal" text-anchor="start" fill="#111" color="#111" font-family="Liberation Sans" >chromosome</text>
<text x="48.67" y="313.70" font-size="6.5" font-weight="normal" font-style="normal" text-anchor="middle" fill="#111" color="#111" font-family="Liberation Sans" >1</text>
<text x="68.30" y="312.90" font-size="6.5" font-weight="normal" font-style="normal" text-anchor="middle" fill="#111" color="#111" font-family="Liberation Sans" >2</text>
<text x="87.03" y="312.90" font-size="6.5" font-weight="normal" font-style="normal" text-anchor="middle" fill="#111" color="#111" font-family="Liberation Sans" >3</text>
<text x="105.76" y="312.90" font-size="6.5" font-weight="normal" font-style="normal" text-anchor="middle" fill="#111" color="#111" font-family="Liberation Sans" >4</text>
<text x="124.49" y="312.90" font-size="6.5" font-weight="normal" font-style="normal" text-anchor="middle" fill="#111" color="#111" font-family="Liberation Sans" >5</text>
<text x="143.22" y="312.90" font-size="6.5" font-weight="normal" font-style="normal" text-anchor="middle" fill="#111" color="#111" font-family="Liberation Sans" >6</text>
<text x="161.95" y="312.90" font-size="6.5" font-weight="normal" font-style="normal" text-anchor="middle" fill="#111" color="#111" font-family="Liberation Sans" >7</text>
<text x="180.68" y="312.90" font-size="6.5" font-weight="normal" font-style="normal" text-anchor="middle" fill="#111" color="#111" font-family="Liberation Sans" >8</text>
<text x="199.41" y="312.90" font-size="6.5" font-weight="normal" font-style="normal" text-anchor="middle" fill="#111" color="#111" font-family="Liberation Sans" >9</text>
<text x="218.14" y="312.90" font-size="6.5" font-weight="normal" font-style="normal" text-anchor="middle" fill="#111" color="#111" font-family="Liberation Sans" >10</text>
<text x="236.87" y="312.90" font-size="6.5" font-weight="normal" font-style="normal" text-anchor="middle" fill="#111" color="#111" font-family="Liberation Sans" >11</text>
<text x="255.60" y="312.90" font-size="6.5" font-weight="normal" font-style="normal" text-anchor="middle" fill="#111" color="#111" font-family="Liberation Sans" >12</text>
<text x="274.33" y="312.90" font-size="6.5" font-weight="normal" font-style="normal" text-anchor="middle" fill="#111" color="#111" font-family="Liberation Sans" >13</text>
<text x="293.06" y="312.90" font-size="6.5" font-weight="normal" font-style="normal" text-anchor="middle" fill="#111" color="#111" font-family="Liberation Sans" >14</text>
<text x="311.79" y="312.90" font-size="6.5" font-weight="normal" font-style="normal" text-anchor="middle" fill="#111" color="#111" font-family="Liberation Sans" >15</text>
<text x="330.52" y="312.90" font-size="6.5" font-weight="normal" font-style="normal" text-anchor="middle" fill="#111" color="#111" font-family="Liberation Sans" >16</text>
<text x="349.25" y="312.90" font-size="6.5" font-weight="normal" font-style="normal" text-anchor="middle" fill="#111" color="#111" font-family="Liberation Sans" >17</text>
<text x="367.98" y="312.90" font-size="6.5" font-weight="normal" font-style="normal" text-anchor="middle" fill="#111" color="#111" font-family="Liberation Sans" >18</text>
<text x="386.71" y="312.90" font-size="6.5" font-weight="normal" font-style="normal" text-anchor="middle" fill="#111" color="#111" font-family="Liberation Sans" >19</text>
<text x="405.44" y="312.90" font-size="6.5" font-weight="normal" font-style="normal" text-anchor="middle" fill="#111" color="#111" font-family="Liberation Sans" >20</text>
<text x="424.17" y="312.90" font-size="6.5" font-weight="normal" font-style="normal" text-anchor="middle" fill="#111" color="#111" font-family="Liberation Sans" >21</text>
<text x="442.90" y="312.90" font-size="6.5" font-weight="normal" font-style="normal" text-anchor="middle" fill="#111" color="#111" font-family="Liberation Sans" >22</text>
<text x="461.63" y="312.90" font-size="6.5" font-weight="normal" font-style="normal" text-anchor="middle" fill="#111" color="#111" font-family="Liberation Sans" >X</text>
<line x1="56.10" y1="317.00" x2="84.11" y2="334.97" stroke="#111" stroke-width="0.8" />
<path d="M87.90,337.40 L82.75,336.17 L84.64,333.23 Z" fill="#111"/>
<line x1="147.60" y1="314.90" x2="206.61" y2="337.96" stroke="#111" stroke-width="0.8" />
<path d="M210.80,339.60 L205.51,339.41 L206.78,336.15 Z" fill="#111"/>
<line x1="331.40" y1="316.40" x2="354.85" y2="334.64" stroke="#111" stroke-width="0.8" />
<path d="M358.40,337.40 L353.38,335.71 L355.53,332.95 Z" fill="#111"/>
<text x="495.80" y="220.80" font-size="12.4" font-weight="bold" font-style="normal" text-anchor="start" fill="#000" color="#000" font-family="Liberation Sans" >Patient A</text>
<rect x="494.10" y="226.90" width="11.00" height="49.10" fill="#f0f0f0" />
<line x1="495.20" y1="235.10" x2="504.10" y2="235.10" stroke="#ec8380" stroke-width="1.0" />
<text x="509.80" y="237.40" font-size="9.45" font-weight="normal" font-style="normal" text-anchor="start" fill="#111" color="#111" font-family="Liberation Sans" >Metastatic tumor</text>
<line x1="495.20" y1="251.40" x2="504.10" y2="251.40" stroke="#4cc25a" stroke-width="1.0" />
<text x="509.80" y="253.70" font-size="9.45" font-weight="normal" font-style="normal" text-anchor="start" fill="#111" color="#111" font-family="Liberation Sans" >CD45+ normal BMCs</text>
<line x1="495.20" y1="267.50" x2="504.10" y2="267.50" stroke="#77a1e6" stroke-width="1.0" />
<text x="509.80" y="269.80" font-size="9.45" font-weight="normal" font-style="normal" text-anchor="start" fill="#111" color="#111" font-family="Liberation Sans" >Bone marrow DTCs</text>
<text x="482.10" y="288.70" font-size="9.45" font-family="Liberation Sans" fill="#111" text-decoration="underline">Pearson correlation coefficient (<tspan font-style="italic">r</tspan>):</text>
<text x="482.10" y="299.20" font-size="9.45" font-weight="normal" font-style="normal" text-anchor="start" fill="#111" color="#111" font-family="Liberation Sans" >0.74</text>
<text x="513.60" y="299.20" font-size="9.45" font-weight="normal" font-style="normal" text-anchor="start" fill="#111" color="#111" font-family="Liberation Sans" >DTCs vs. metastatic tumor</text>
<text x="482.10" y="310.50" font-size="9.45" font-weight="normal" font-style="normal" text-anchor="start" fill="#111" color="#111" font-family="Liberation Sans" >-0.17</text>
<text x="513.60" y="310.50" font-size="9.45" font-weight="normal" font-style="normal" text-anchor="start" fill="#111" color="#111" font-family="Liberation Sans" >DTCs vs. CD45+ normal BMCs</text>
<rect x="68.20" y="354.20" width="94.60" height="79.20" fill="#ebebeb" />
<line x1="68.20" y1="427.60" x2="162.80" y2="427.60" stroke="#ffffff" stroke-width="1.3" />
<line x1="68.20" y1="411.30" x2="162.80" y2="411.30" stroke="#ffffff" stroke-width="0.8" />
<line x1="68.20" y1="395.00" x2="162.80" y2="395.00" stroke="#ffffff" stroke-width="1.3" />
<line x1="68.20" y1="378.70" x2="162.80" y2="378.70" stroke="#ffffff" stroke-width="0.8" />
<line x1="68.20" y1="362.40" x2="162.80" y2="362.40" stroke="#ffffff" stroke-width="1.3" />
<line x1="69.70" y1="354.20" x2="69.70" y2="433.40" stroke="#ffffff" stroke-width="1.0" />
<line x1="79.05" y1="354.20" x2="79.05" y2="433.40" stroke="#ffffff" stroke-width="1.0" />
<line x1="88.40" y1="354.20" x2="88.40" y2="433.40" stroke="#ffffff" stroke-width="1.0" />
<line x1="97.75" y1="354.20" x2="97.75" y2="433.40" stroke="#ffffff" stroke-width="1.0" />
<line x1="107.10" y1="354.20" x2="107.10" y2="433.40" stroke="#ffffff" stroke-width="1.0" />
<line x1="116.45" y1="354.20" x2="116.45" y2="433.40" stroke="#ffffff" stroke-width="1.0" />
<line x1="125.80" y1="354.20" x2="125.80" y2="433.40" stroke="#ffffff" stroke-width="1.0" />
<line x1="135.15" y1="354.20" x2="135.15" y2="433.40" stroke="#ffffff" stroke-width="1.0" />
<line x1="144.50" y1="354.20" x2="144.50" y2="433.40" stroke="#ffffff" stroke-width="1.0" />
<line x1="153.85" y1="354.20" x2="153.85" y2="433.40" stroke="#ffffff" stroke-width="1.0" />
<line x1="163.20" y1="354.20" x2="163.20" y2="433.40" stroke="#ffffff" stroke-width="1.0" />
<rect x="80.40" y="374.94" width="34.20" height="2.30" fill="#77a1e6" />
<rect x="123.50" y="374.94" width="38.50" height="2.30" fill="#77a1e6" />
<rect x="123.50" y="377.88" width="33.20" height="2.30" fill="#ec8380" />
<rect x="156.70" y="385.05" width="5.30" height="2.30" fill="#ec8380" />
<rect x="70.40" y="393.85" width="44.20" height="2.30" fill="#4cc25a" />
<rect x="123.50" y="393.85" width="38.50" height="2.30" fill="#4cc25a" />
<rect x="81.00" y="392.71" width="8.00" height="2.30" fill="#ec8380" />
<rect x="89.00" y="391.89" width="7.60" height="2.30" fill="#ec8380" />
<rect x="96.60" y="391.24" width="6.00" height="2.30" fill="#ec8380" />
<rect x="102.60" y="390.59" width="12.00" height="2.30" fill="#ec8380" />
<rect x="71.90" y="405.59" width="8.90" height="2.30" fill="#ec8380" />
<rect x="70.40" y="417.00" width="10.00" height="2.30" fill="#77a1e6" />
<rect x="69.80" y="404.28" width="0.80" height="2.30" fill="#ec8380" />
<rect x="69.80" y="415.04" width="0.80" height="2.30" fill="#ec8380" />
<rect x="91.10" y="382.11" width="0.80" height="2.30" fill="#ec8380" />
<text x="115.50" y="350.80" font-size="9.45" font-weight="normal" font-style="normal" text-anchor="middle" fill="#111" color="#111" font-family="Liberation Sans" >Chromosome 1</text>
<text x="65.30" y="430.84" font-size="9.0" font-weight="normal" font-style="normal" text-anchor="end" fill="#1a1a1a" color="#1a1a1a" font-family="Liberation Sans" >1</text>
<text x="65.30" y="398.24" font-size="9.0" font-weight="normal" font-style="normal" text-anchor="end" fill="#1a1a1a" color="#1a1a1a" font-family="Liberation Sans" >2</text>
<text x="65.30" y="365.64" font-size="9.0" font-weight="normal" font-style="normal" text-anchor="end" fill="#1a1a1a" color="#1a1a1a" font-family="Liberation Sans" >3</text>
<text transform="translate(53.40,395.20) rotate(-90)" font-size="9.3" text-anchor="middle" font-family="Liberation Sans" fill="#111">Copy Number</text>
<rect x="198.50" y="354.20" width="93.30" height="77.60" fill="#ebebeb" />
<line x1="198.50" y1="428.20" x2="291.80" y2="428.20" stroke="#ffffff" stroke-width="1.3" />
<line x1="198.50" y1="411.60" x2="291.80" y2="411.60" stroke="#ffffff" stroke-width="0.8" />
<line x1="198.50" y1="395.00" x2="291.80" y2="395.00" stroke="#ffffff" stroke-width="1.3" />
<line x1="198.50" y1="378.40" x2="291.80" y2="378.40" stroke="#ffffff" stroke-width="0.8" />
<line x1="198.50" y1="361.80" x2="291.80" y2="361.80" stroke="#ffffff" stroke-width="1.3" />
<line x1="212.20" y1="354.20" x2="212.20" y2="431.80" stroke="#ffffff" stroke-width="1.0" />
<line x1="225.40" y1="354.20" x2="225.40" y2="431.80" stroke="#ffffff" stroke-width="1.0" />
<line x1="238.60" y1="354.20" x2="238.60" y2="431.80" stroke="#ffffff" stroke-width="1.0" />
<line x1="251.80" y1="354.20" x2="251.80" y2="431.80" stroke="#ffffff" stroke-width="1.0" />
<line x1="265.00" y1="354.20" x2="265.00" y2="431.80" stroke="#ffffff" stroke-width="1.0" />
<line x1="278.20" y1="354.20" x2="278.20" y2="431.80" stroke="#ffffff" stroke-width="1.0" />
<line x1="291.40" y1="354.20" x2="291.40" y2="431.80" stroke="#ffffff" stroke-width="1.0" />
<rect x="198.50" y="385.92" width="22.40" height="2.30" fill="#77a1e6" />
<rect x="198.50" y="388.57" width="31.30" height="2.30" fill="#4cc25a" />
<rect x="232.30" y="388.57" width="58.20" height="2.30" fill="#4cc25a" />
<rect x="198.50" y="391.59" width="13.30" height="2.30" fill="#ec8380" />
<rect x="211.80" y="390.53" width="9.10" height="2.30" fill="#a08040" />
<rect x="221.60" y="405.27" width="8.20" height="2.30" fill="#ec8380" />
<rect x="232.30" y="405.27" width="5.60" height="2.30" fill="#ec8380" />
<rect x="239.20" y="405.27" width="51.30" height="2.30" fill="#ec8380" />
<rect x="221.60" y="421.04" width="8.20" height="2.30" fill="#77a1e6" />
<rect x="232.30" y="421.04" width="58.20" height="2.30" fill="#77a1e6" />
<rect x="211.90" y="369.95" width="0.60" height="2.30" fill="#ec8380" />
<text x="245.15" y="350.80" font-size="9.45" font-weight="normal" font-style="normal" text-anchor="middle" fill="#111" color="#111" font-family="Liberation Sans" >Chromosome 6</text>
<text x="196.20" y="431.44" font-size="9.0" font-weight="normal" font-style="normal" text-anchor="end" fill="#1a1a1a" color="#1a1a1a" font-family="Liberation Sans" >1</text>
<text x="196.20" y="398.24" font-size="9.0" font-weight="normal" font-style="normal" text-anchor="end" fill="#1a1a1a" color="#1a1a1a" font-family="Liberation Sans" >2</text>
<text x="196.20" y="365.04" font-size="9.0" font-weight="normal" font-style="normal" text-anchor="end" fill="#1a1a1a" color="#1a1a1a" font-family="Liberation Sans" >3</text>
<text transform="translate(186.80,395.20) rotate(-90)" font-size="9.3" text-anchor="middle" font-family="Liberation Sans" fill="#111">Copy Number</text>
<rect x="325.70" y="354.20" width="93.70" height="77.80" fill="#ebebeb" />
<line x1="325.70" y1="426.20" x2="419.40" y2="426.20" stroke="#ffffff" stroke-width="1.3" />
<line x1="325.70" y1="409.90" x2="419.40" y2="409.90" stroke="#ffffff" stroke-width="0.8" />
<line x1="325.70" y1="393.60" x2="419.40" y2="393.60" stroke="#ffffff" stroke-width="1.3" />
<line x1="325.70" y1="377.30" x2="419.40" y2="377.30" stroke="#ffffff" stroke-width="0.8" />
<line x1="325.70" y1="361.00" x2="419.40" y2="361.00" stroke="#ffffff" stroke-width="1.3" />
<line x1="339.60" y1="354.20" x2="339.60" y2="432.00" stroke="#ffffff" stroke-width="1.0" />
<line x1="352.40" y1="354.20" x2="352.40" y2="432.00" stroke="#ffffff" stroke-width="1.0" />
<line x1="365.20" y1="354.20" x2="365.20" y2="432.00" stroke="#ffffff" stroke-width="1.0" />
<line x1="378.00" y1="354.20" x2="378.00" y2="432.00" stroke="#ffffff" stroke-width="1.0" />
<line x1="390.80" y1="354.20" x2="390.80" y2="432.00" stroke="#ffffff" stroke-width="1.0" />
<line x1="403.60" y1="354.20" x2="403.60" y2="432.00" stroke="#ffffff" stroke-width="1.0" />
<line x1="416.40" y1="354.20" x2="416.40" y2="432.00" stroke="#ffffff" stroke-width="1.0" />
<rect x="326.30" y="384.79" width="32.30" height="2.30" fill="#77a1e6" />
<rect x="327.00" y="389.19" width="31.60" height="2.30" fill="#4cc25a" />
<rect x="373.80" y="389.19" width="44.60" height="2.30" fill="#4cc25a" />
<rect x="326.30" y="397.67" width="32.30" height="2.30" fill="#ec8380" />
<rect x="373.80" y="407.77" width="44.60" height="2.30" fill="#ec8380" />
<rect x="373.80" y="417.98" width="44.60" height="2.30" fill="#77a1e6" />
<rect x="361.50" y="384.79" width="0.80" height="2.30" fill="#77a1e6" />
<rect x="361.50" y="389.19" width="0.80" height="2.30" fill="#4cc25a" />
<rect x="361.30" y="407.12" width="0.80" height="2.30" fill="#ec8380" />
<rect x="325.90" y="400.93" width="0.80" height="2.30" fill="#4cc25a" />
<text x="372.55" y="350.80" font-size="9.45" font-weight="normal" font-style="normal" text-anchor="middle" fill="#111" color="#111" font-family="Liberation Sans" >Chromosome 16</text>
<text x="323.60" y="429.44" font-size="9.0" font-weight="normal" font-style="normal" text-anchor="end" fill="#1a1a1a" color="#1a1a1a" font-family="Liberation Sans" >1</text>
<text x="323.60" y="396.84" font-size="9.0" font-weight="normal" font-style="normal" text-anchor="end" fill="#1a1a1a" color="#1a1a1a" font-family="Liberation Sans" >2</text>
<text x="323.60" y="364.24" font-size="9.0" font-weight="normal" font-style="normal" text-anchor="end" fill="#1a1a1a" color="#1a1a1a" font-family="Liberation Sans" >3</text>
<text transform="translate(314.20,395.20) rotate(-90)" font-size="9.3" text-anchor="middle" font-family="Liberation Sans" fill="#111">Copy Number</text>
<line x1="157.70" y1="357.10" x2="146.51" y2="367.96" stroke="#e8302a" stroke-width="0.8" />
<path d="M144.00,370.40 L145.69,366.39 L148.05,368.83 Z" fill="#e8302a"/>
<line x1="276.30" y1="444.00" x2="266.24" y2="431.89" stroke="#3a4ac8" stroke-width="0.8" />
<path d="M264.00,429.20 L267.86,431.19 L265.25,433.36 Z" fill="#3a4ac8"/>
<line x1="380.00" y1="443.40" x2="389.76" y2="429.75" stroke="#3a4ac8" stroke-width="0.8" />
<path d="M391.80,426.90 L390.86,431.14 L388.09,429.16 Z" fill="#3a4ac8"/>
<text x="0.80" y="452.40" font-size="12.3" font-weight="bold" font-style="normal" text-anchor="start" fill="#000" color="#000" font-family="Liberation Sans" >e</text>
<rect x="40.80" y="462.60" width="430.10" height="73.00" fill="#ebebeb" />
<line x1="42.00" y1="462.60" x2="42.00" y2="535.60" stroke="#f6f6f6" stroke-width="0.5" />
<line x1="44.40" y1="462.60" x2="44.40" y2="535.60" stroke="#f6f6f6" stroke-width="0.5" />
<line x1="46.80" y1="462.60" x2="46.80" y2="535.60" stroke="#f6f6f6" stroke-width="0.5" />
<line x1="49.20" y1="462.60" x2="49.20" y2="535.60" stroke="#f6f6f6" stroke-width="0.5" />
<line x1="51.60" y1="462.60" x2="51.60" y2="535.60" stroke="#f6f6f6" stroke-width="0.5" />
<line x1="54.00" y1="462.60" x2="54.00" y2="535.60" stroke="#f6f6f6" stroke-width="0.5" />
<line x1="56.40" y1="462.60" x2="56.40" y2="535.60" stroke="#f6f6f6" stroke-width="0.5" />
<line x1="58.80" y1="462.60" x2="58.80" y2="535.60" stroke="#f6f6f6" stroke-width="0.5" />
<line x1="61.20" y1="462.60" x2="61.20" y2="535.60" stroke="#f6f6f6" stroke-width="0.5" />
<line x1="63.60" y1="462.60" x2="63.60" y2="535.60" stroke="#f6f6f6" stroke-width="0.5" />
<line x1="66.00" y1="462.60" x2="66.00" y2="535.60" stroke="#f6f6f6" stroke-width="0.5" />
<line x1="68.40" y1="462.60" x2="68.40" y2="535.60" stroke="#f6f6f6" stroke-width="0.5" />
<line x1="70.80" y1="462.60" x2="70.80" y2="535.60" stroke="#f6f6f6" stroke-width="0.5" />
<line x1="73.20" y1="462.60" x2="73.20" y2="535.60" stroke="#f6f6f6" stroke-width="0.5" />
<line x1="75.60" y1="462.60" x2="75.60" y2="535.60" stroke="#f6f6f6" stroke-width="0.5" />
<line x1="78.00" y1="462.60" x2="78.00" y2="535.60" stroke="#f6f6f6" stroke-width="0.5" />
<line x1="80.40" y1="462.60" x2="80.40" y2="535.60" stroke="#f6f6f6" stroke-width="0.5" />
<line x1="82.80" y1="462.60" x2="82.80" y2="535.60" stroke="#f6f6f6" stroke-width="0.5" />
<line x1="85.20" y1="462.60" x2="85.20" y2="535.60" stroke="#f6f6f6" stroke-width="0.5" />
<line x1="87.60" y1="462.60" x2="87.60" y2="535.60" stroke="#f6f6f6" stroke-width="0.5" />
<line x1="90.00" y1="462.60" x2="90.00" y2="535.60" stroke="#f6f6f6" stroke-width="0.5" />
<line x1="92.40" y1="462.60" x2="92.40" y2="535.60" stroke="#f6f6f6" stroke-width="0.5" />
<line x1="94.80" y1="462.60" x2="94.80" y2="535.60" stroke="#f6f6f6" stroke-width="0.5" />
<line x1="97.20" y1="462.60" x2="97.20" y2="535.60" stroke="#f6f6f6" stroke-width="0.5" />
<line x1="99.60" y1="462.60" x2="99.60" y2="535.60" stroke="#f6f6f6" stroke-width="0.5" />
<line x1="102.00" y1="462.60" x2="102.00" y2="535.60" stroke="#f6f6f6" stroke-width="0.5" />
<line x1="104.40" y1="462.60" x2="104.40" y2="535.60" stroke="#f6f6f6" stroke-width="0.5" />
<line x1="106.80" y1="462.60" x2="106.80" y2="535.60" stroke="#f6f6f6" stroke-width="0.5" />
<line x1="109.20" y1="462.60" x2="109.20" y2="535.60" stroke="#f6f6f6" stroke-width="0.5" />
<line x1="111.60" y1="462.60" x2="111.60" y2="535.60" stroke="#f6f6f6" stroke-width="0.5" />
<line x1="114.00" y1="462.60" x2="114.00" y2="535.60" stroke="#f6f6f6" stroke-width="0.5" />
<line x1="116.40" y1="462.60" x2="116.40" y2="535.60" stroke="#f6f6f6" stroke-width="0.5" />
<line x1="118.80" y1="462.60" x2="118.80" y2="535.60" stroke="#f6f6f6" stroke-width="0.5" />
<line x1="121.20" y1="462.60" x2="121.20" y2="535.60" stroke="#f6f6f6" stroke-width="0.5" />
<line x1="123.60" y1="462.60" x2="123.60" y2="535.60" stroke="#f6f6f6" stroke-width="0.5" />
<line x1="126.00" y1="462.60" x2="126.00" y2="535.60" stroke="#f6f6f6" stroke-width="0.5" />
<line x1="128.40" y1="462.60" x2="128.40" y2="535.60" stroke="#f6f6f6" stroke-width="0.5" />
<line x1="130.80" y1="462.60" x2="130.80" y2="535.60" stroke="#f6f6f6" stroke-width="0.5" />
<line x1="133.20" y1="462.60" x2="133.20" y2="535.60" stroke="#f6f6f6" stroke-width="0.5" />
<line x1="135.60" y1="462.60" x2="135.60" y2="535.60" stroke="#f6f6f6" stroke-width="0.5" />
<line x1="138.00" y1="462.60" x2="138.00" y2="535.60" stroke="#f6f6f6" stroke-width="0.5" />
<line x1="140.40" y1="462.60" x2="140.40" y2="535.60" stroke="#f6f6f6" stroke-width="0.5" />
<line x1="142.80" y1="462.60" x2="142.80" y2="535.60" stroke="#f6f6f6" stroke-width="0.5" />
<line x1="145.20" y1="462.60" x2="145.20" y2="535.60" stroke="#f6f6f6" stroke-width="0.5" />
<line x1="147.60" y1="462.60" x2="147.60" y2="535.60" stroke="#f6f6f6" stroke-width="0.5" />
<line x1="150.00" y1="462.60" x2="150.00" y2="535.60" stroke="#f6f6f6" stroke-width="0.5" />
<line x1="152.40" y1="462.60" x2="152.40" y2="535.60" stroke="#f6f6f6" stroke-width="0.5" />
<line x1="154.80" y1="462.60" x2="154.80" y2="535.60" stroke="#f6f6f6" stroke-width="0.5" />
<line x1="157.20" y1="462.60" x2="157.20" y2="535.60" stroke="#f6f6f6" stroke-width="0.5" />
<line x1="159.60" y1="462.60" x2="159.60" y2="535.60" stroke="#f6f6f6" stroke-width="0.5" />
<line x1="162.00" y1="462.60" x2="162.00" y2="535.60" stroke="#f6f6f6" stroke-width="0.5" />
<line x1="164.40" y1="462.60" x2="164.40" y2="535.60" stroke="#f6f6f6" stroke-width="0.5" />
<line x1="166.80" y1="462.60" x2="166.80" y2="535.60" stroke="#f6f6f6" stroke-width="0.5" />
<line x1="169.20" y1="462.60" x2="169.20" y2="535.60" stroke="#f6f6f6" stroke-width="0.5" />
<line x1="171.60" y1="462.60" x2="171.60" y2="535.60" stroke="#f6f6f6" stroke-width="0.5" />
<line x1="174.00" y1="462.60" x2="174.00" y2="535.60" stroke="#f6f6f6" stroke-width="0.5" />
<line x1="176.40" y1="462.60" x2="176.40" y2="535.60" stroke="#f6f6f6" stroke-width="0.5" />
<line x1="178.80" y1="462.60" x2="178.80" y2="535.60" stroke="#f6f6f6" stroke-width="0.5" />
<line x1="181.20" y1="462.60" x2="181.20" y2="535.60" stroke="#f6f6f6" stroke-width="0.5" />
<line x1="183.60" y1="462.60" x2="183.60" y2="535.60" stroke="#f6f6f6" stroke-width="0.5" />
<line x1="186.00" y1="462.60" x2="186.00" y2="535.60" stroke="#f6f6f6" stroke-width="0.5" />
<line x1="188.40" y1="462.60" x2="188.40" y2="535.60" stroke="#f6f6f6" stroke-width="0.5" />
<line x1="190.80" y1="462.60" x2="190.80" y2="535.60" stroke="#f6f6f6" stroke-width="0.5" />
<line x1="193.20" y1="462.60" x2="193.20" y2="535.60" stroke="#f6f6f6" stroke-width="0.5" />
<line x1="195.60" y1="462.60" x2="195.60" y2="535.60" stroke="#f6f6f6" stroke-width="0.5" />
<line x1="198.00" y1="462.60" x2="198.00" y2="535.60" stroke="#f6f6f6" stroke-width="0.5" />
<line x1="200.40" y1="462.60" x2="200.40" y2="535.60" stroke="#f6f6f6" stroke-width="0.5" />
<line x1="202.80" y1="462.60" x2="202.80" y2="535.60" stroke="#f6f6f6" stroke-width="0.5" />
<line x1="205.20" y1="462.60" x2="205.20" y2="535.60" stroke="#f6f6f6" stroke-width="0.5" />
<line x1="207.60" y1="462.60" x2="207.60" y2="535.60" stroke="#f6f6f6" stroke-width="0.5" />
<line x1="210.00" y1="462.60" x2="210.00" y2="535.60" stroke="#f6f6f6" stroke-width="0.5" />
<line x1="212.40" y1="462.60" x2="212.40" y2="535.60" stroke="#f6f6f6" stroke-width="0.5" />
<line x1="214.80" y1="462.60" x2="214.80" y2="535.60" stroke="#f6f6f6" stroke-width="0.5" />
<line x1="217.20" y1="462.60" x2="217.20" y2="535.60" stroke="#f6f6f6" stroke-width="0.5" />
<line x1="219.60" y1="462.60" x2="219.60" y2="535.60" stroke="#f6f6f6" stroke-width="0.5" />
<line x1="222.00" y1="462.60" x2="222.00" y2="535.60" stroke="#f6f6f6" stroke-width="0.5" />
<line x1="224.40" y1="462.60" x2="224.40" y2="535.60" stroke="#f6f6f6" stroke-width="0.5" />
<line x1="226.80" y1="462.60" x2="226.80" y2="535.60" stroke="#f6f6f6" stroke-width="0.5" />
<line x1="229.20" y1="462.60" x2="229.20" y2="535.60" stroke="#f6f6f6" stroke-width="0.5" />
<line x1="231.60" y1="462.60" x2="231.60" y2="535.60" stroke="#f6f6f6" stroke-width="0.5" />
<line x1="234.00" y1="462.60" x2="234.00" y2="535.60" stroke="#f6f6f6" stroke-width="0.5" />
<line x1="236.40" y1="462.60" x2="236.40" y2="535.60" stroke="#f6f6f6" stroke-width="0.5" />
<line x1="238.80" y1="462.60" x2="238.80" y2="535.60" stroke="#f6f6f6" stroke-width="0.5" />
<line x1="241.20" y1="462.60" x2="241.20" y2="535.60" stroke="#f6f6f6" stroke-width="0.5" />
<line x1="243.60" y1="462.60" x2="243.60" y2="535.60" stroke="#f6f6f6" stroke-width="0.5" />
<line x1="246.00" y1="462.60" x2="246.00" y2="535.60" stroke="#f6f6f6" stroke-width="0.5" />
<line x1="248.40" y1="462.60" x2="248.40" y2="535.60" stroke="#f6f6f6" stroke-width="0.5" />
<line x1="250.80" y1="462.60" x2="250.80" y2="535.60" stroke="#f6f6f6" stroke-width="0.5" />
<line x1="253.20" y1="462.60" x2="253.20" y2="535.60" stroke="#f6f6f6" stroke-width="0.5" />
<line x1="255.60" y1="462.60" x2="255.60" y2="535.60" stroke="#f6f6f6" stroke-width="0.5" />
<line x1="258.00" y1="462.60" x2="258.00" y2="535.60" stroke="#f6f6f6" stroke-width="0.5" />
<line x1="260.40" y1="462.60" x2="260.40" y2="535.60" stroke="#f6f6f6" stroke-width="0.5" />
<line x1="262.80" y1="462.60" x2="262.80" y2="535.60" stroke="#f6f6f6" stroke-width="0.5" />
<line x1="265.20" y1="462.60" x2="265.20" y2="535.60" stroke="#f6f6f6" stroke-width="0.5" />
<line x1="267.60" y1="462.60" x2="267.60" y2="535.60" stroke="#f6f6f6" stroke-width="0.5" />
<line x1="270.00" y1="462.60" x2="270.00" y2="535.60" stroke="#f6f6f6" stroke-width="0.5" />
<line x1="272.40" y1="462.60" x2="272.40" y2="535.60" stroke="#f6f6f6" stroke-width="0.5" />
<line x1="274.80" y1="462.60" x2="274.80" y2="535.60" stroke="#f6f6f6" stroke-width="0.5" />
<line x1="277.20" y1="462.60" x2="277.20" y2="535.60" stroke="#f6f6f6" stroke-width="0.5" />
<line x1="279.60" y1="462.60" x2="279.60" y2="535.60" stroke="#f6f6f6" stroke-width="0.5" />
<line x1="282.00" y1="462.60" x2="282.00" y2="535.60" stroke="#f6f6f6" stroke-width="0.5" />
<line x1="284.40" y1="462.60" x2="284.40" y2="535.60" stroke="#f6f6f6" stroke-width="0.5" />
<line x1="286.80" y1="462.60" x2="286.80" y2="535.60" stroke="#f6f6f6" stroke-width="0.5" />
<line x1="289.20" y1="462.60" x2="289.20" y2="535.60" stroke="#f6f6f6" stroke-width="0.5" />
<line x1="291.60" y1="462.60" x2="291.60" y2="535.60" stroke="#f6f6f6" stroke-width="0.5" />
<line x1="294.00" y1="462.60" x2="294.00" y2="535.60" stroke="#f6f6f6" stroke-width="0.5" />
<line x1="296.40" y1="462.60" x2="296.40" y2="535.60" stroke="#f6f6f6" stroke-width="0.5" />
<line x1="298.80" y1="462.60" x2="298.80" y2="535.60" stroke="#f6f6f6" stroke-width="0.5" />
<line x1="301.20" y1="462.60" x2="301.20" y2="535.60" stroke="#f6f6f6" stroke-width="0.5" />
<line x1="303.60" y1="462.60" x2="303.60" y2="535.60" stroke="#f6f6f6" stroke-width="0.5" />
<line x1="306.00" y1="462.60" x2="306.00" y2="535.60" stroke="#f6f6f6" stroke-width="0.5" />
<line x1="308.40" y1="462.60" x2="308.40" y2="535.60" stroke="#f6f6f6" stroke-width="0.5" />
<line x1="310.80" y1="462.60" x2="310.80" y2="535.60" stroke="#f6f6f6" stroke-width="0.5" />
<line x1="313.20" y1="462.60" x2="313.20" y2="535.60" stroke="#f6f6f6" stroke-width="0.5" />
<line x1="315.60" y1="462.60" x2="315.60" y2="535.60" stroke="#f6f6f6" stroke-width="0.5" />
<line x1="318.00" y1="462.60" x2="318.00" y2="535.60" stroke="#f6f6f6" stroke-width="0.5" />
<line x1="320.40" y1="462.60" x2="320.40" y2="535.60" stroke="#f6f6f6" stroke-width="0.5" />
<line x1="322.80" y1="462.60" x2="322.80" y2="535.60" stroke="#f6f6f6" stroke-width="0.5" />
<line x1="325.20" y1="462.60" x2="325.20" y2="535.60" stroke="#f6f6f6" stroke-width="0.5" />
<line x1="327.60" y1="462.60" x2="327.60" y2="535.60" stroke="#f6f6f6" stroke-width="0.5" />
<line x1="330.00" y1="462.60" x2="330.00" y2="535.60" stroke="#f6f6f6" stroke-width="0.5" />
<line x1="332.40" y1="462.60" x2="332.40" y2="535.60" stroke="#f6f6f6" stroke-width="0.5" />
<line x1="334.80" y1="462.60" x2="334.80" y2="535.60" stroke="#f6f6f6" stroke-width="0.5" />
<line x1="337.20" y1="462.60" x2="337.20" y2="535.60" stroke="#f6f6f6" stroke-width="0.5" />
<line x1="339.60" y1="462.60" x2="339.60" y2="535.60" stroke="#f6f6f6" stroke-width="0.5" />
<line x1="342.00" y1="462.60" x2="342.00" y2="535.60" stroke="#f6f6f6" stroke-width="0.5" />
<line x1="344.40" y1="462.60" x2="344.40" y2="535.60" stroke="#f6f6f6" stroke-width="0.5" />
<line x1="346.80" y1="462.60" x2="346.80" y2="535.60" stroke="#f6f6f6" stroke-width="0.5" />
<line x1="349.20" y1="462.60" x2="349.20" y2="535.60" stroke="#f6f6f6" stroke-width="0.5" />
<line x1="351.60" y1="462.60" x2="351.60" y2="535.60" stroke="#f6f6f6" stroke-width="0.5" />
<line x1="354.00" y1="462.60" x2="354.00" y2="535.60" stroke="#f6f6f6" stroke-width="0.5" />
<line x1="356.40" y1="462.60" x2="356.40" y2="535.60" stroke="#f6f6f6" stroke-width="0.5" />
<line x1="358.80" y1="462.60" x2="358.80" y2="535.60" stroke="#f6f6f6" stroke-width="0.5" />
<line x1="361.20" y1="462.60" x2="361.20" y2="535.60" stroke="#f6f6f6" stroke-width="0.5" />
<line x1="363.60" y1="462.60" x2="363.60" y2="535.60" stroke="#f6f6f6" stroke-width="0.5" />
<line x1="366.00" y1="462.60" x2="366.00" y2="535.60" stroke="#f6f6f6" stroke-width="0.5" />
<line x1="368.40" y1="462.60" x2="368.40" y2="535.60" stroke="#f6f6f6" stroke-width="0.5" />
<line x1="370.80" y1="462.60" x2="370.80" y2="535.60" stroke="#f6f6f6" stroke-width="0.5" />
<line x1="373.20" y1="462.60" x2="373.20" y2="535.60" stroke="#f6f6f6" stroke-width="0.5" />
<line x1="375.60" y1="462.60" x2="375.60" y2="535.60" stroke="#f6f6f6" stroke-width="0.5" />
<line x1="378.00" y1="462.60" x2="378.00" y2="535.60" stroke="#f6f6f6" stroke-width="0.5" />
<line x1="380.40" y1="462.60" x2="380.40" y2="535.60" stroke="#f6f6f6" stroke-width="0.5" />
<line x1="382.80" y1="462.60" x2="382.80" y2="535.60" stroke="#f6f6f6" stroke-width="0.5" />
<line x1="385.20" y1="462.60" x2="385.20" y2="535.60" stroke="#f6f6f6" stroke-width="0.5" />
<line x1="387.60" y1="462.60" x2="387.60" y2="535.60" stroke="#f6f6f6" stroke-width="0.5" />
<line x1="390.00" y1="462.60" x2="390.00" y2="535.60" stroke="#f6f6f6" stroke-width="0.5" />
<line x1="392.40" y1="462.60" x2="392.40" y2="535.60" stroke="#f6f6f6" stroke-width="0.5" />
<line x1="394.80" y1="462.60" x2="394.80" y2="535.60" stroke="#f6f6f6" stroke-width="0.5" />
<line x1="397.20" y1="462.60" x2="397.20" y2="535.60" stroke="#f6f6f6" stroke-width="0.5" />
<line x1="399.60" y1="462.60" x2="399.60" y2="535.60" stroke="#f6f6f6" stroke-width="0.5" />
<line x1="402.00" y1="462.60" x2="402.00" y2="535.60" stroke="#f6f6f6" stroke-width="0.5" />
<line x1="404.40" y1="462.60" x2="404.40" y2="535.60" stroke="#f6f6f6" stroke-width="0.5" />
<line x1="406.80" y1="462.60" x2="406.80" y2="535.60" stroke="#f6f6f6" stroke-width="0.5" />
<line x1="409.20" y1="462.60" x2="409.20" y2="535.60" stroke="#f6f6f6" stroke-width="0.5" />
<line x1="411.60" y1="462.60" x2="411.60" y2="535.60" stroke="#f6f6f6" stroke-width="0.5" />
<line x1="414.00" y1="462.60" x2="414.00" y2="535.60" stroke="#f6f6f6" stroke-width="0.5" />
<line x1="416.40" y1="462.60" x2="416.40" y2="535.60" stroke="#f6f6f6" stroke-width="0.5" />
<line x1="418.80" y1="462.60" x2="418.80" y2="535.60" stroke="#f6f6f6" stroke-width="0.5" />
<line x1="421.20" y1="462.60" x2="421.20" y2="535.60" stroke="#f6f6f6" stroke-width="0.5" />
<line x1="423.60" y1="462.60" x2="423.60" y2="535.60" stroke="#f6f6f6" stroke-width="0.5" />
<line x1="426.00" y1="462.60" x2="426.00" y2="535.60" stroke="#f6f6f6" stroke-width="0.5" />
<line x1="428.40" y1="462.60" x2="428.40" y2="535.60" stroke="#f6f6f6" stroke-width="0.5" />
<line x1="430.80" y1="462.60" x2="430.80" y2="535.60" stroke="#f6f6f6" stroke-width="0.5" />
<line x1="433.20" y1="462.60" x2="433.20" y2="535.60" stroke="#f6f6f6" stroke-width="0.5" />
<line x1="435.60" y1="462.60" x2="435.60" y2="535.60" stroke="#f6f6f6" stroke-width="0.5" />
<line x1="438.00" y1="462.60" x2="438.00" y2="535.60" stroke="#f6f6f6" stroke-width="0.5" />
<line x1="440.40" y1="462.60" x2="440.40" y2="535.60" stroke="#f6f6f6" stroke-width="0.5" />
<line x1="442.80" y1="462.60" x2="442.80" y2="535.60" stroke="#f6f6f6" stroke-width="0.5" />
<line x1="445.20" y1="462.60" x2="445.20" y2="535.60" stroke="#f6f6f6" stroke-width="0.5" />
<line x1="447.60" y1="462.60" x2="447.60" y2="535.60" stroke="#f6f6f6" stroke-width="0.5" />
<line x1="450.00" y1="462.60" x2="450.00" y2="535.60" stroke="#f6f6f6" stroke-width="0.5" />
<line x1="452.40" y1="462.60" x2="452.40" y2="535.60" stroke="#f6f6f6" stroke-width="0.5" />
<line x1="454.80" y1="462.60" x2="454.80" y2="535.60" stroke="#f6f6f6" stroke-width="0.5" />
<line x1="457.20" y1="462.60" x2="457.20" y2="535.60" stroke="#f6f6f6" stroke-width="0.5" />
<line x1="459.60" y1="462.60" x2="459.60" y2="535.60" stroke="#f6f6f6" stroke-width="0.5" />
<line x1="462.00" y1="462.60" x2="462.00" y2="535.60" stroke="#f6f6f6" stroke-width="0.5" />
<line x1="464.40" y1="462.60" x2="464.40" y2="535.60" stroke="#f6f6f6" stroke-width="0.5" />
<line x1="466.80" y1="462.60" x2="466.80" y2="535.60" stroke="#f6f6f6" stroke-width="0.5" />
<line x1="469.20" y1="462.60" x2="469.20" y2="535.60" stroke="#f6f6f6" stroke-width="0.5" />
<line x1="40.80" y1="533.50" x2="470.90" y2="533.50" stroke="#ffffff" stroke-width="1.2" />
<line x1="40.80" y1="525.40" x2="470.90" y2="525.40" stroke="#ffffff" stroke-width="0.8" />
<line x1="40.80" y1="517.30" x2="470.90" y2="517.30" stroke="#ffffff" stroke-width="1.2" />
<line x1="40.80" y1="509.20" x2="470.90" y2="509.20" stroke="#ffffff" stroke-width="0.8" />
<line x1="40.80" y1="501.10" x2="470.90" y2="501.10" stroke="#ffffff" stroke-width="1.2" />
<line x1="40.80" y1="493.00" x2="470.90" y2="493.00" stroke="#ffffff" stroke-width="0.8" />
<line x1="40.80" y1="484.90" x2="470.90" y2="484.90" stroke="#ffffff" stroke-width="1.2" />
<line x1="40.80" y1="476.80" x2="470.90" y2="476.80" stroke="#ffffff" stroke-width="0.8" />
<line x1="40.80" y1="468.70" x2="470.90" y2="468.70" stroke="#ffffff" stroke-width="1.2" />
<line x1="59.50" y1="462.60" x2="59.50" y2="535.60" stroke="#c6c6c6" stroke-width="0.6" />
<line x1="78.20" y1="462.60" x2="78.20" y2="535.60" stroke="#c6c6c6" stroke-width="0.6" />
<line x1="96.90" y1="462.60" x2="96.90" y2="535.60" stroke="#c6c6c6" stroke-width="0.6" />
<line x1="115.60" y1="462.60" x2="115.60" y2="535.60" stroke="#c6c6c6" stroke-width="0.6" />
<line x1="134.30" y1="462.60" x2="134.30" y2="535.60" stroke="#c6c6c6" stroke-width="0.6" />
<line x1="153.00" y1="462.60" x2="153.00" y2="535.60" stroke="#c6c6c6" stroke-width="0.6" />
<line x1="171.70" y1="462.60" x2="171.70" y2="535.60" stroke="#c6c6c6" stroke-width="0.6" />
<line x1="190.40" y1="462.60" x2="190.40" y2="535.60" stroke="#c6c6c6" stroke-width="0.6" />
<line x1="209.10" y1="462.60" x2="209.10" y2="535.60" stroke="#c6c6c6" stroke-width="0.6" />
<line x1="227.80" y1="462.60" x2="227.80" y2="535.60" stroke="#c6c6c6" stroke-width="0.6" />
<line x1="246.50" y1="462.60" x2="246.50" y2="535.60" stroke="#c6c6c6" stroke-width="0.6" />
<line x1="265.20" y1="462.60" x2="265.20" y2="535.60" stroke="#c6c6c6" stroke-width="0.6" />
<line x1="283.90" y1="462.60" x2="283.90" y2="535.60" stroke="#c6c6c6" stroke-width="0.6" />
<line x1="302.60" y1="462.60" x2="302.60" y2="535.60" stroke="#c6c6c6" stroke-width="0.6" />
<line x1="321.30" y1="462.60" x2="321.30" y2="535.60" stroke="#c6c6c6" stroke-width="0.6" />
<line x1="340.00" y1="462.60" x2="340.00" y2="535.60" stroke="#c6c6c6" stroke-width="0.6" />
<line x1="358.70" y1="462.60" x2="358.70" y2="535.60" stroke="#c6c6c6" stroke-width="0.6" />
<line x1="377.40" y1="462.60" x2="377.40" y2="535.60" stroke="#c6c6c6" stroke-width="0.6" />
<line x1="396.10" y1="462.60" x2="396.10" y2="535.60" stroke="#c6c6c6" stroke-width="0.6" />
<line x1="414.80" y1="462.60" x2="414.80" y2="535.60" stroke="#c6c6c6" stroke-width="0.6" />
<line x1="433.50" y1="462.60" x2="433.50" y2="535.60" stroke="#c6c6c6" stroke-width="0.6" />
<line x1="452.20" y1="462.60" x2="452.20" y2="535.60" stroke="#c6c6c6" stroke-width="0.6" />
<rect x="43.77" y="528.15" width="1.10" height="1.20" fill="#6f9ff0" opacity="0.55"/>
<rect x="41.37" y="517.83" width="1.10" height="1.20" fill="#40c8cc" opacity="0.55"/>
<rect x="44.13" y="529.58" width="1.10" height="1.20" fill="#6f9ff0" opacity="0.55"/>
<rect x="42.82" y="529.15" width="1.10" height="1.20" fill="#40c8cc" opacity="0.55"/>
<rect x="41.56" y="529.07" width="1.10" height="1.20" fill="#40c8cc" opacity="0.55"/>
<rect x="41.46" y="521.77" width="1.10" height="1.20" fill="#40c8cc" opacity="0.55"/>
<rect x="46.44" y="521.50" width="1.10" height="1.20" fill="#40c8cc" opacity="0.55"/>
<rect x="45.97" y="524.37" width="1.10" height="1.20" fill="#40c8cc" opacity="0.55"/>
<rect x="41.36" y="517.26" width="1.10" height="1.20" fill="#40c8cc" opacity="0.55"/>
<rect x="44.60" y="522.15" width="1.10" height="1.20" fill="#6f9ff0" opacity="0.55"/>
<rect x="43.63" y="517.91" width="1.10" height="1.20" fill="#40c8cc" opacity="0.55"/>
<rect x="41.85" y="521.68" width="1.10" height="1.20" fill="#40c8cc" opacity="0.55"/>
<rect x="44.19" y="522.04" width="1.10" height="1.20" fill="#40c8cc" opacity="0.55"/>
<rect x="45.86" y="520.94" width="1.10" height="1.20" fill="#40c8cc" opacity="0.55"/>
<rect x="46.87" y="523.89" width="1.10" height="1.20" fill="#40c8cc" opacity="0.55"/>
<rect x="45.00" y="516.26" width="1.10" height="1.20" fill="#40c8cc" opacity="0.55"/>
<rect x="43.56" y="518.24" width="1.10" height="1.20" fill="#6f9ff0" opacity="0.55"/>
<rect x="47.73" y="529.21" width="1.10" height="1.20" fill="#40c8cc" opacity="0.55"/>
<rect x="45.52" y="517.00" width="1.10" height="1.20" fill="#6f9ff0" opacity="0.55"/>
<rect x="44.85" y="521.10" width="1.10" height="1.20" fill="#40c8cc" opacity="0.55"/>
<rect x="41.98" y="524.04" width="1.10" height="1.20" fill="#40c8cc" opacity="0.55"/>
<rect x="42.27" y="522.94" width="1.10" height="1.20" fill="#40c8cc" opacity="0.55"/>
<rect x="76.77" y="529.28" width="1.10" height="1.20" fill="#6f9ff0" opacity="0.55"/>
<rect x="69.76" y="517.00" width="1.10" height="1.20" fill="#40c8cc" opacity="0.55"/>
<rect x="65.57" y="525.08" width="1.10" height="1.20" fill="#40c8cc" opacity="0.55"/>
<rect x="69.89" y="523.45" width="1.10" height="1.20" fill="#40c8cc" opacity="0.55"/>
<rect x="76.45" y="523.17" width="1.10" height="1.20" fill="#6f9ff0" opacity="0.55"/>
<rect x="60.62" y="519.22" width="1.10" height="1.20" fill="#40c8cc" opacity="0.55"/>
<rect x="71.10" y="515.19" width="1.10" height="1.20" fill="#40c8cc" opacity="0.55"/>
<rect x="64.57" y="524.53" width="1.10" height="1.20" fill="#6f9ff0" opacity="0.55"/>
<rect x="65.70" y="515.99" width="1.10" height="1.20" fill="#40c8cc" opacity="0.55"/>
<rect x="62.47" y="528.67" width="1.10" height="1.20" fill="#40c8cc" opacity="0.55"/>
<rect x="63.38" y="526.05" width="1.10" height="1.20" fill="#6f9ff0" opacity="0.55"/>
<rect x="63.91" y="524.45" width="1.10" height="1.20" fill="#40c8cc" opacity="0.55"/>
<rect x="60.90" y="523.56" width="1.10" height="1.20" fill="#6f9ff0" opacity="0.55"/>
<rect x="64.45" y="528.36" width="1.10" height="1.20" fill="#40c8cc" opacity="0.55"/>
<rect x="75.00" y="526.19" width="1.10" height="1.20" fill="#40c8cc" opacity="0.55"/>
<rect x="77.21" y="519.96" width="1.10" height="1.20" fill="#40c8cc" opacity="0.55"/>
<rect x="76.69" y="528.15" width="1.10" height="1.20" fill="#40c8cc" opacity="0.55"/>
<rect x="62.17" y="520.34" width="1.10" height="1.20" fill="#40c8cc" opacity="0.55"/>
<rect x="68.18" y="521.40" width="1.10" height="1.20" fill="#40c8cc" opacity="0.55"/>
<rect x="64.52" y="528.23" width="1.10" height="1.20" fill="#6f9ff0" opacity="0.55"/>
<rect x="66.10" y="521.75" width="1.10" height="1.20" fill="#40c8cc" opacity="0.55"/>
<rect x="71.88" y="522.54" width="1.10" height="1.20" fill="#6f9ff0" opacity="0.55"/>
<rect x="83.03" y="518.39" width="1.10" height="1.20" fill="#6f9ff0" opacity="0.55"/>
<rect x="84.75" y="518.13" width="1.10" height="1.20" fill="#6f9ff0" opacity="0.55"/>
<rect x="81.24" y="520.63" width="1.10" height="1.20" fill="#6f9ff0" opacity="0.55"/>
<rect x="82.89" y="522.78" width="1.10" height="1.20" fill="#40c8cc" opacity="0.55"/>
<rect x="85.34" y="520.32" width="1.10" height="1.20" fill="#40c8cc" opacity="0.55"/>
<rect x="80.83" y="522.84" width="1.10" height="1.20" fill="#40c8cc" opacity="0.55"/>
<rect x="82.42" y="519.70" width="1.10" height="1.20" fill="#6f9ff0" opacity="0.55"/>
<rect x="82.75" y="522.72" width="1.10" height="1.20" fill="#40c8cc" opacity="0.55"/>
<rect x="195.98" y="524.25" width="1.10" height="1.20" fill="#6f9ff0" opacity="0.55"/>
<rect x="199.05" y="517.64" width="1.10" height="1.20" fill="#6f9ff0" opacity="0.55"/>
<rect x="191.56" y="514.04" width="1.10" height="1.20" fill="#6f9ff0" opacity="0.55"/>
<rect x="194.77" y="521.87" width="1.10" height="1.20" fill="#40c8cc" opacity="0.55"/>
<rect x="191.37" y="521.42" width="1.10" height="1.20" fill="#6f9ff0" opacity="0.55"/>
<rect x="194.76" y="516.33" width="1.10" height="1.20" fill="#40c8cc" opacity="0.55"/>
<rect x="192.30" y="512.54" width="1.10" height="1.20" fill="#6f9ff0" opacity="0.55"/>
<rect x="191.77" y="518.50" width="1.10" height="1.20" fill="#40c8cc" opacity="0.55"/>
<rect x="197.27" y="522.07" width="1.10" height="1.20" fill="#40c8cc" opacity="0.55"/>
<rect x="196.72" y="522.61" width="1.10" height="1.20" fill="#6f9ff0" opacity="0.55"/>
<rect x="318.80" y="520.88" width="1.10" height="1.20" fill="#40c8cc" opacity="0.55"/>
<rect x="312.04" y="518.13" width="1.10" height="1.20" fill="#6f9ff0" opacity="0.55"/>
<rect x="313.91" y="519.21" width="1.10" height="1.20" fill="#40c8cc" opacity="0.55"/>
<rect x="316.96" y="517.88" width="1.10" height="1.20" fill="#40c8cc" opacity="0.55"/>
<rect x="306.05" y="519.99" width="1.10" height="1.20" fill="#40c8cc" opacity="0.55"/>
<rect x="320.26" y="518.06" width="1.10" height="1.20" fill="#6f9ff0" opacity="0.55"/>
<rect x="332.78" y="516.57" width="1.10" height="1.20" fill="#6f9ff0" opacity="0.55"/>
<rect x="334.48" y="515.39" width="1.10" height="1.20" fill="#6f9ff0" opacity="0.55"/>
<rect x="339.05" y="518.17" width="1.10" height="1.20" fill="#40c8cc" opacity="0.55"/>
<rect x="331.37" y="517.66" width="1.10" height="1.20" fill="#6f9ff0" opacity="0.55"/>
<rect x="332.29" y="516.91" width="1.10" height="1.20" fill="#40c8cc" opacity="0.55"/>
<rect x="367.60" y="518.39" width="1.10" height="1.20" fill="#40c8cc" opacity="0.55"/>
<rect x="373.64" y="520.98" width="1.10" height="1.20" fill="#6f9ff0" opacity="0.55"/>
<rect x="372.75" y="517.91" width="1.10" height="1.20" fill="#6f9ff0" opacity="0.55"/>
<rect x="374.56" y="519.45" width="1.10" height="1.20" fill="#6f9ff0" opacity="0.55"/>
<rect x="360.92" y="516.96" width="1.10" height="1.20" fill="#6f9ff0" opacity="0.55"/>
<rect x="367.32" y="517.95" width="1.10" height="1.20" fill="#40c8cc" opacity="0.55"/>
<rect x="448.42" y="523.42" width="1.10" height="1.20" fill="#40c8cc" opacity="0.55"/>
<rect x="440.75" y="520.01" width="1.10" height="1.20" fill="#6f9ff0" opacity="0.55"/>
<rect x="449.32" y="523.62" width="1.10" height="1.20" fill="#6f9ff0" opacity="0.55"/>
<rect x="447.68" y="521.96" width="1.10" height="1.20" fill="#40c8cc" opacity="0.55"/>
<rect x="440.69" y="518.33" width="1.10" height="1.20" fill="#40c8cc" opacity="0.55"/>
<rect x="446.24" y="517.24" width="1.10" height="1.20" fill="#6f9ff0" opacity="0.55"/>
<rect x="464.67" y="505.44" width="1.10" height="1.20" fill="#40c8cc" opacity="0.55"/>
<rect x="52.97" y="505.15" width="1.10" height="1.20" fill="#6f9ff0" opacity="0.55"/>
<rect x="144.26" y="499.10" width="1.10" height="1.20" fill="#40c8cc" opacity="0.55"/>
<rect x="274.75" y="495.09" width="1.10" height="1.20" fill="#40c8cc" opacity="0.55"/>
<rect x="431.80" y="502.87" width="1.10" height="1.20" fill="#40c8cc" opacity="0.55"/>
<rect x="325.48" y="495.40" width="1.10" height="1.20" fill="#6f9ff0" opacity="0.55"/>
<rect x="221.61" y="493.73" width="1.10" height="1.20" fill="#6f9ff0" opacity="0.55"/>
<rect x="97.11" y="506.14" width="1.10" height="1.20" fill="#6f9ff0" opacity="0.55"/>
<rect x="48.98" y="501.47" width="1.10" height="1.20" fill="#40c8cc" opacity="0.55"/>
<rect x="302.32" y="496.03" width="1.10" height="1.20" fill="#40c8cc" opacity="0.55"/>
<rect x="114.97" y="500.93" width="1.10" height="1.20" fill="#6f9ff0" opacity="0.55"/>
<rect x="92.63" y="507.60" width="1.10" height="1.20" fill="#6f9ff0" opacity="0.55"/>
<rect x="263.58" y="499.60" width="1.10" height="1.20" fill="#40c8cc" opacity="0.55"/>
<rect x="420.30" y="507.68" width="1.10" height="1.20" fill="#40c8cc" opacity="0.55"/>
<rect x="159.89" y="496.09" width="1.10" height="1.20" fill="#6f9ff0" opacity="0.55"/>
<rect x="235.16" y="508.15" width="1.10" height="1.20" fill="#40c8cc" opacity="0.55"/>
<rect x="231.33" y="498.68" width="1.10" height="1.20" fill="#6f9ff0" opacity="0.55"/>
<rect x="301.29" y="505.37" width="1.10" height="1.20" fill="#40c8cc" opacity="0.55"/>
<rect x="235.23" y="499.96" width="1.10" height="1.20" fill="#40c8cc" opacity="0.55"/>
<rect x="259.03" y="504.59" width="1.10" height="1.20" fill="#6f9ff0" opacity="0.55"/>
<rect x="417.42" y="493.34" width="1.10" height="1.20" fill="#40c8cc" opacity="0.55"/>
<rect x="437.29" y="494.14" width="1.10" height="1.20" fill="#40c8cc" opacity="0.55"/>
<rect x="401.73" y="506.38" width="1.10" height="1.20" fill="#40c8cc" opacity="0.55"/>
<rect x="209.47" y="503.48" width="1.10" height="1.20" fill="#6f9ff0" opacity="0.55"/>
<rect x="144.30" y="507.42" width="1.10" height="1.20" fill="#6f9ff0" opacity="0.55"/>
<rect x="170.99" y="506.62" width="1.10" height="1.20" fill="#40c8cc" opacity="0.55"/>
<rect x="444.47" y="498.18" width="1.10" height="1.20" fill="#40c8cc" opacity="0.55"/>
<rect x="102.36" y="494.30" width="1.10" height="1.20" fill="#40c8cc" opacity="0.55"/>
<rect x="135.26" y="493.17" width="1.10" height="1.20" fill="#40c8cc" opacity="0.55"/>
<rect x="421.03" y="505.96" width="1.10" height="1.20" fill="#6f9ff0" opacity="0.55"/>
<rect x="398.48" y="505.98" width="1.10" height="1.20" fill="#40c8cc" opacity="0.55"/>
<rect x="467.90" y="502.06" width="1.10" height="1.20" fill="#40c8cc" opacity="0.55"/>
<rect x="125.02" y="503.44" width="1.10" height="1.20" fill="#6f9ff0" opacity="0.55"/>
<rect x="198.13" y="503.12" width="1.10" height="1.20" fill="#40c8cc" opacity="0.55"/>
<rect x="230.13" y="508.31" width="1.10" height="1.20" fill="#40c8cc" opacity="0.55"/>
<rect x="263.19" y="503.81" width="1.10" height="1.20" fill="#40c8cc" opacity="0.55"/>
<rect x="89.42" y="493.72" width="1.10" height="1.20" fill="#40c8cc" opacity="0.55"/>
<rect x="458.29" y="506.90" width="1.10" height="1.20" fill="#40c8cc" opacity="0.55"/>
<rect x="157.74" y="493.92" width="1.10" height="1.20" fill="#40c8cc" opacity="0.55"/>
<rect x="157.11" y="506.50" width="1.10" height="1.20" fill="#40c8cc" opacity="0.55"/>
<rect x="405.85" y="497.65" width="1.10" height="1.20" fill="#40c8cc" opacity="0.55"/>
<rect x="215.30" y="499.91" width="1.10" height="1.20" fill="#6f9ff0" opacity="0.55"/>
<rect x="286.02" y="497.25" width="1.10" height="1.20" fill="#40c8cc" opacity="0.55"/>
<rect x="160.81" y="495.65" width="1.10" height="1.20" fill="#40c8cc" opacity="0.55"/>
<rect x="223.62" y="507.43" width="1.10" height="1.20" fill="#40c8cc" opacity="0.55"/>
<rect x="313.44" y="495.61" width="1.10" height="1.20" fill="#40c8cc" opacity="0.55"/>
<rect x="302.16" y="505.00" width="1.10" height="1.20" fill="#40c8cc" opacity="0.55"/>
<rect x="411.51" y="501.25" width="1.10" height="1.20" fill="#40c8cc" opacity="0.55"/>
<rect x="468.00" y="501.83" width="1.10" height="1.20" fill="#40c8cc" opacity="0.55"/>
<rect x="307.97" y="507.90" width="1.10" height="1.20" fill="#6f9ff0" opacity="0.55"/>
<rect x="143.36" y="506.83" width="1.10" height="1.20" fill="#40c8cc" opacity="0.55"/>
<rect x="153.43" y="505.67" width="1.10" height="1.20" fill="#40c8cc" opacity="0.55"/>
<rect x="310.96" y="500.00" width="1.10" height="1.20" fill="#40c8cc" opacity="0.55"/>
<rect x="165.49" y="500.50" width="1.10" height="1.20" fill="#40c8cc" opacity="0.55"/>
<rect x="157.14" y="495.58" width="1.10" height="1.20" fill="#40c8cc" opacity="0.55"/>
<rect x="56.82" y="508.30" width="1.10" height="1.20" fill="#6f9ff0" opacity="0.55"/>
<rect x="277.63" y="505.53" width="1.10" height="1.20" fill="#40c8cc" opacity="0.55"/>
<rect x="146.47" y="501.36" width="1.10" height="1.20" fill="#6f9ff0" opacity="0.55"/>
<rect x="392.68" y="501.60" width="1.10" height="1.20" fill="#40c8cc" opacity="0.55"/>
<rect x="275.42" y="494.20" width="1.10" height="1.20" fill="#6f9ff0" opacity="0.55"/>
<rect x="173.14" y="505.11" width="1.10" height="1.20" fill="#40c8cc" opacity="0.55"/>
<rect x="188.14" y="495.12" width="1.10" height="1.20" fill="#6f9ff0" opacity="0.55"/>
<rect x="353.99" y="506.34" width="1.10" height="1.20" fill="#40c8cc" opacity="0.55"/>
<rect x="462.67" y="495.04" width="1.10" height="1.20" fill="#40c8cc" opacity="0.55"/>
<rect x="71.33" y="496.60" width="1.10" height="1.20" fill="#40c8cc" opacity="0.55"/>
<rect x="225.95" y="507.70" width="1.10" height="1.20" fill="#6f9ff0" opacity="0.55"/>
<rect x="402.28" y="494.50" width="1.10" height="1.20" fill="#6f9ff0" opacity="0.55"/>
<rect x="457.96" y="498.90" width="1.10" height="1.20" fill="#6f9ff0" opacity="0.55"/>
<rect x="166.82" y="501.16" width="1.10" height="1.20" fill="#40c8cc" opacity="0.55"/>
<rect x="156.50" y="508.54" width="1.10" height="1.20" fill="#40c8cc" opacity="0.55"/>
<rect x="454.04" y="492.84" width="1.10" height="1.20" fill="#6f9ff0" opacity="0.55"/>
<rect x="179.91" y="508.04" width="1.10" height="1.20" fill="#40c8cc" opacity="0.55"/>
<rect x="134.52" y="505.64" width="1.10" height="1.20" fill="#40c8cc" opacity="0.55"/>
<rect x="204.86" y="500.91" width="1.10" height="1.20" fill="#6f9ff0" opacity="0.55"/>
<rect x="322.71" y="504.58" width="1.10" height="1.20" fill="#40c8cc" opacity="0.55"/>
<rect x="79.97" y="495.36" width="1.10" height="1.20" fill="#40c8cc" opacity="0.55"/>
<rect x="212.54" y="507.92" width="1.10" height="1.20" fill="#40c8cc" opacity="0.55"/>
<rect x="169.65" y="498.40" width="1.10" height="1.20" fill="#40c8cc" opacity="0.55"/>
<rect x="292.46" y="500.03" width="1.10" height="1.20" fill="#40c8cc" opacity="0.55"/>
<rect x="323.37" y="497.00" width="1.10" height="1.20" fill="#6f9ff0" opacity="0.55"/>
<rect x="208.25" y="503.32" width="1.10" height="1.20" fill="#40c8cc" opacity="0.55"/>
<rect x="105.14" y="496.87" width="1.10" height="1.20" fill="#6f9ff0" opacity="0.55"/>
<rect x="103.12" y="495.24" width="1.10" height="1.20" fill="#6f9ff0" opacity="0.55"/>
<rect x="424.04" y="498.44" width="1.10" height="1.20" fill="#6f9ff0" opacity="0.55"/>
<rect x="342.05" y="500.41" width="1.10" height="1.20" fill="#6f9ff0" opacity="0.55"/>
<rect x="364.31" y="499.39" width="1.10" height="1.20" fill="#40c8cc" opacity="0.55"/>
<rect x="395.89" y="499.14" width="1.10" height="1.20" fill="#6f9ff0" opacity="0.55"/>
<rect x="334.25" y="497.37" width="1.10" height="1.20" fill="#40c8cc" opacity="0.55"/>
<rect x="77.50" y="507.92" width="1.10" height="1.20" fill="#6f9ff0" opacity="0.55"/>
<rect x="195.87" y="506.90" width="1.10" height="1.20" fill="#40c8cc" opacity="0.55"/>
<rect x="280.84" y="498.43" width="1.10" height="1.20" fill="#6f9ff0" opacity="0.55"/>
<rect x="269.21" y="504.64" width="1.10" height="1.20" fill="#40c8cc" opacity="0.55"/>
<rect x="42.37" y="495.68" width="1.10" height="1.20" fill="#6f9ff0" opacity="0.55"/>
<rect x="441.46" y="494.05" width="1.10" height="1.20" fill="#40c8cc" opacity="0.55"/>
<rect x="324.12" y="507.53" width="1.10" height="1.20" fill="#6f9ff0" opacity="0.55"/>
<rect x="244.47" y="495.49" width="1.10" height="1.20" fill="#40c8cc" opacity="0.55"/>
<rect x="141.79" y="496.35" width="1.10" height="1.20" fill="#40c8cc" opacity="0.55"/>
<rect x="358.71" y="492.79" width="1.10" height="1.20" fill="#40c8cc" opacity="0.55"/>
<rect x="404.11" y="507.36" width="1.10" height="1.20" fill="#6f9ff0" opacity="0.55"/>
<rect x="164.35" y="507.84" width="1.10" height="1.20" fill="#6f9ff0" opacity="0.55"/>
<rect x="317.02" y="507.34" width="1.10" height="1.20" fill="#40c8cc" opacity="0.55"/>
<rect x="183.45" y="498.05" width="1.10" height="1.20" fill="#6f9ff0" opacity="0.55"/>
<rect x="171.70" y="499.40" width="1.10" height="1.20" fill="#40c8cc" opacity="0.55"/>
<rect x="248.15" y="500.73" width="1.10" height="1.20" fill="#6f9ff0" opacity="0.55"/>
<rect x="83.69" y="505.07" width="1.10" height="1.20" fill="#40c8cc" opacity="0.55"/>
<rect x="165.87" y="500.23" width="1.10" height="1.20" fill="#40c8cc" opacity="0.55"/>
<rect x="241.05" y="496.17" width="1.10" height="1.20" fill="#6f9ff0" opacity="0.55"/>
<rect x="126.53" y="492.75" width="1.10" height="1.20" fill="#40c8cc" opacity="0.55"/>
<rect x="48.47" y="501.16" width="1.10" height="1.20" fill="#6f9ff0" opacity="0.55"/>
<rect x="456.75" y="501.32" width="1.10" height="1.20" fill="#40c8cc" opacity="0.55"/>
<rect x="132.33" y="495.05" width="1.30" height="1.30" fill="#6f9ff0" opacity="0.7"/>
<rect x="103.29" y="505.76" width="1.30" height="1.30" fill="#40c8cc" opacity="0.7"/>
<rect x="145.09" y="494.58" width="1.30" height="1.30" fill="#6f9ff0" opacity="0.7"/>
<rect x="152.46" y="498.74" width="1.30" height="1.30" fill="#6f9ff0" opacity="0.7"/>
<rect x="178.83" y="497.81" width="1.30" height="1.30" fill="#6f9ff0" opacity="0.7"/>
<rect x="142.65" y="495.58" width="1.30" height="1.30" fill="#6f9ff0" opacity="0.7"/>
<rect x="98.66" y="506.88" width="1.30" height="1.30" fill="#6f9ff0" opacity="0.7"/>
<rect x="159.74" y="501.68" width="1.30" height="1.30" fill="#40c8cc" opacity="0.7"/>
<rect x="109.44" y="502.47" width="1.30" height="1.30" fill="#6f9ff0" opacity="0.7"/>
<rect x="107.59" y="502.64" width="1.30" height="1.30" fill="#6f9ff0" opacity="0.7"/>
<rect x="166.17" y="496.06" width="1.30" height="1.30" fill="#6f9ff0" opacity="0.7"/>
<rect x="183.76" y="504.39" width="1.30" height="1.30" fill="#6f9ff0" opacity="0.7"/>
<rect x="180.20" y="503.17" width="1.30" height="1.30" fill="#6f9ff0" opacity="0.7"/>
<rect x="102.39" y="501.87" width="1.30" height="1.30" fill="#40c8cc" opacity="0.7"/>
<rect x="103.46" y="494.94" width="1.30" height="1.30" fill="#6f9ff0" opacity="0.7"/>
<rect x="175.80" y="503.29" width="1.30" height="1.30" fill="#6f9ff0" opacity="0.7"/>
<rect x="173.97" y="503.23" width="1.30" height="1.30" fill="#6f9ff0" opacity="0.7"/>
<rect x="119.54" y="503.49" width="1.30" height="1.30" fill="#40c8cc" opacity="0.7"/>
<rect x="125.70" y="496.91" width="1.30" height="1.30" fill="#6f9ff0" opacity="0.7"/>
<rect x="178.59" y="496.41" width="1.30" height="1.30" fill="#40c8cc" opacity="0.7"/>
<rect x="133.55" y="495.58" width="1.30" height="1.30" fill="#40c8cc" opacity="0.7"/>
<rect x="147.43" y="497.60" width="1.30" height="1.30" fill="#6f9ff0" opacity="0.7"/>
<rect x="183.16" y="501.60" width="1.30" height="1.30" fill="#40c8cc" opacity="0.7"/>
<rect x="166.35" y="498.58" width="1.30" height="1.30" fill="#6f9ff0" opacity="0.7"/>
<rect x="141.51" y="495.11" width="1.30" height="1.30" fill="#40c8cc" opacity="0.7"/>
<rect x="108.19" y="500.81" width="1.30" height="1.30" fill="#6f9ff0" opacity="0.7"/>
<rect x="122.55" y="503.62" width="1.30" height="1.30" fill="#40c8cc" opacity="0.7"/>
<rect x="187.15" y="503.56" width="1.30" height="1.30" fill="#40c8cc" opacity="0.7"/>
<rect x="118.55" y="500.67" width="1.30" height="1.30" fill="#40c8cc" opacity="0.7"/>
<rect x="133.03" y="504.76" width="1.30" height="1.30" fill="#6f9ff0" opacity="0.7"/>
<rect x="103.34" y="500.44" width="1.30" height="1.30" fill="#6f9ff0" opacity="0.7"/>
<rect x="147.54" y="501.06" width="1.30" height="1.30" fill="#6f9ff0" opacity="0.7"/>
<rect x="189.02" y="501.10" width="1.30" height="1.30" fill="#6f9ff0" opacity="0.7"/>
<rect x="147.29" y="503.77" width="1.30" height="1.30" fill="#6f9ff0" opacity="0.7"/>
<rect x="128.15" y="505.75" width="1.30" height="1.30" fill="#6f9ff0" opacity="0.7"/>
<rect x="130.60" y="496.44" width="1.30" height="1.30" fill="#6f9ff0" opacity="0.7"/>
<rect x="178.86" y="497.21" width="1.30" height="1.30" fill="#6f9ff0" opacity="0.7"/>
<rect x="131.95" y="497.26" width="1.30" height="1.30" fill="#6f9ff0" opacity="0.7"/>
<rect x="131.40" y="502.55" width="1.30" height="1.30" fill="#6f9ff0" opacity="0.7"/>
<rect x="142.68" y="499.49" width="1.30" height="1.30" fill="#6f9ff0" opacity="0.7"/>
<rect x="108.06" y="500.41" width="1.30" height="1.30" fill="#40c8cc" opacity="0.7"/>
<rect x="169.85" y="495.93" width="1.30" height="1.30" fill="#6f9ff0" opacity="0.7"/>
<rect x="121.55" y="503.71" width="1.30" height="1.30" fill="#6f9ff0" opacity="0.7"/>
<rect x="156.41" y="501.33" width="1.30" height="1.30" fill="#6f9ff0" opacity="0.7"/>
<rect x="175.28" y="495.62" width="1.30" height="1.30" fill="#6f9ff0" opacity="0.7"/>
<rect x="108.18" y="501.42" width="1.30" height="1.30" fill="#6f9ff0" opacity="0.7"/>
<rect x="186.40" y="500.58" width="1.30" height="1.30" fill="#6f9ff0" opacity="0.7"/>
<rect x="132.76" y="494.92" width="1.30" height="1.30" fill="#40c8cc" opacity="0.7"/>
<rect x="175.91" y="494.33" width="1.30" height="1.30" fill="#6f9ff0" opacity="0.7"/>
<rect x="169.18" y="504.03" width="1.30" height="1.30" fill="#6f9ff0" opacity="0.7"/>
<rect x="265.31" y="474.72" width="1.10" height="1.20" fill="#6f9ff0" opacity="0.55"/>
<rect x="342.03" y="470.46" width="1.10" height="1.20" fill="#40c8cc" opacity="0.55"/>
<rect x="77.46" y="472.26" width="1.10" height="1.20" fill="#40c8cc" opacity="0.55"/>
<rect x="376.95" y="486.37" width="1.10" height="1.20" fill="#40c8cc" opacity="0.55"/>
<rect x="318.19" y="484.53" width="1.10" height="1.20" fill="#40c8cc" opacity="0.55"/>
<rect x="310.02" y="478.71" width="1.10" height="1.20" fill="#40c8cc" opacity="0.55"/>
<rect x="340.99" y="489.49" width="1.10" height="1.20" fill="#40c8cc" opacity="0.55"/>
<rect x="169.95" y="467.94" width="1.10" height="1.20" fill="#40c8cc" opacity="0.55"/>
<rect x="207.63" y="486.60" width="1.10" height="1.20" fill="#6f9ff0" opacity="0.55"/>
<rect x="41.44" y="478.47" width="1.10" height="1.20" fill="#40c8cc" opacity="0.55"/>
<rect x="160.61" y="484.20" width="1.10" height="1.20" fill="#40c8cc" opacity="0.55"/>
<rect x="245.09" y="486.31" width="1.10" height="1.20" fill="#40c8cc" opacity="0.55"/>
<rect x="53.53" y="481.73" width="1.10" height="1.20" fill="#6f9ff0" opacity="0.55"/>
<rect x="172.98" y="491.84" width="1.10" height="1.20" fill="#40c8cc" opacity="0.55"/>
<rect x="420.99" y="475.63" width="1.10" height="1.20" fill="#40c8cc" opacity="0.55"/>
<rect x="151.44" y="475.10" width="1.10" height="1.20" fill="#40c8cc" opacity="0.55"/>
<rect x="138.35" y="491.52" width="1.10" height="1.20" fill="#40c8cc" opacity="0.55"/>
<rect x="349.47" y="483.01" width="1.10" height="1.20" fill="#40c8cc" opacity="0.55"/>
<rect x="126.03" y="471.74" width="1.10" height="1.20" fill="#6f9ff0" opacity="0.55"/>
<rect x="403.94" y="490.65" width="1.10" height="1.20" fill="#40c8cc" opacity="0.55"/>
<rect x="457.50" y="484.32" width="1.10" height="1.20" fill="#40c8cc" opacity="0.55"/>
<rect x="140.08" y="486.66" width="1.10" height="1.20" fill="#40c8cc" opacity="0.55"/>
<rect x="87.77" y="476.24" width="1.10" height="1.20" fill="#6f9ff0" opacity="0.55"/>
<rect x="121.40" y="486.61" width="1.10" height="1.20" fill="#40c8cc" opacity="0.55"/>
<rect x="431.97" y="490.94" width="1.10" height="1.20" fill="#6f9ff0" opacity="0.55"/>
<rect x="103.82" y="482.20" width="1.10" height="1.20" fill="#40c8cc" opacity="0.55"/>
<rect x="51.10" y="476.95" width="1.10" height="1.20" fill="#40c8cc" opacity="0.55"/>
<rect x="63.22" y="490.84" width="1.10" height="1.20" fill="#40c8cc" opacity="0.55"/>
<rect x="234.07" y="473.94" width="1.10" height="1.20" fill="#40c8cc" opacity="0.55"/>
<rect x="355.65" y="466.54" width="1.10" height="1.20" fill="#40c8cc" opacity="0.55"/>
<rect x="182.36" y="527.07" width="1.10" height="1.20" fill="#6f9ff0" opacity="0.55"/>
<rect x="361.49" y="530.56" width="1.10" height="1.20" fill="#6f9ff0" opacity="0.55"/>
<rect x="352.50" y="512.25" width="1.10" height="1.20" fill="#40c8cc" opacity="0.55"/>
<rect x="230.98" y="528.81" width="1.10" height="1.20" fill="#40c8cc" opacity="0.55"/>
<rect x="161.13" y="523.31" width="1.10" height="1.20" fill="#40c8cc" opacity="0.55"/>
<rect x="281.95" y="514.07" width="1.10" height="1.20" fill="#40c8cc" opacity="0.55"/>
<rect x="194.12" y="512.65" width="1.10" height="1.20" fill="#40c8cc" opacity="0.55"/>
<rect x="78.64" y="515.28" width="1.10" height="1.20" fill="#40c8cc" opacity="0.55"/>
<rect x="201.03" y="510.43" width="1.10" height="1.20" fill="#40c8cc" opacity="0.55"/>
<rect x="179.81" y="514.56" width="1.10" height="1.20" fill="#40c8cc" opacity="0.55"/>
<rect x="53.96" y="521.96" width="1.10" height="1.20" fill="#6f9ff0" opacity="0.55"/>
<rect x="370.23" y="530.36" width="1.10" height="1.20" fill="#40c8cc" opacity="0.55"/>
<rect x="240.26" y="513.06" width="1.10" height="1.20" fill="#40c8cc" opacity="0.55"/>
<rect x="151.34" y="514.33" width="1.10" height="1.20" fill="#6f9ff0" opacity="0.55"/>
<rect x="186.58" y="525.10" width="1.10" height="1.20" fill="#6f9ff0" opacity="0.55"/>
<rect x="59.67" y="514.35" width="1.10" height="1.20" fill="#6f9ff0" opacity="0.55"/>
<rect x="176.88" y="525.03" width="1.10" height="1.20" fill="#40c8cc" opacity="0.55"/>
<rect x="350.87" y="517.77" width="1.10" height="1.20" fill="#6f9ff0" opacity="0.55"/>
<rect x="447.47" y="529.80" width="1.10" height="1.20" fill="#40c8cc" opacity="0.55"/>
<rect x="87.02" y="515.05" width="1.10" height="1.20" fill="#40c8cc" opacity="0.55"/>
<rect x="450.65" y="522.51" width="1.10" height="1.20" fill="#40c8cc" opacity="0.55"/>
<rect x="433.32" y="512.80" width="1.10" height="1.20" fill="#40c8cc" opacity="0.55"/>
<rect x="439.57" y="527.13" width="1.10" height="1.20" fill="#6f9ff0" opacity="0.55"/>
<rect x="171.22" y="515.58" width="1.10" height="1.20" fill="#40c8cc" opacity="0.55"/>
<rect x="301.77" y="523.85" width="1.10" height="1.20" fill="#40c8cc" opacity="0.55"/>
<rect x="41.50" y="500.40" width="8.70" height="1.40" fill="#bba640" />
<rect x="41.50" y="501.21" width="8.70" height="1.40" fill="#3cbf4e" />
<rect x="43.50" y="499.59" width="6.70" height="1.40" fill="#3cbf4e" />
<rect x="41.50" y="510.44" width="8.70" height="1.40" fill="#e070e0" />
<rect x="52.20" y="499.59" width="7.20" height="1.40" fill="#3cbf4e" />
<rect x="52.20" y="475.78" width="3.00" height="1.40" fill="#e070e0" />
<rect x="55.20" y="477.72" width="4.20" height="1.40" fill="#e070e0" />
<rect x="52.20" y="480.64" width="7.20" height="1.40" fill="#40c8cc" />
<rect x="54.00" y="481.77" width="5.40" height="1.40" fill="#6f9ff0" />
<rect x="60.10" y="500.72" width="18.40" height="1.40" fill="#6f9ff0" />
<rect x="60.10" y="500.40" width="18.40" height="1.40" fill="#e070e0" />
<rect x="79.00" y="499.75" width="7.00" height="1.40" fill="#3cbf4e" />
<rect x="79.00" y="500.40" width="7.00" height="1.40" fill="#bba640" />
<rect x="81.00" y="510.61" width="5.00" height="1.40" fill="#e070e0" />
<rect x="82.00" y="519.03" width="4.00" height="1.40" fill="#40c8cc" />
<rect x="86.50" y="499.10" width="10.70" height="1.40" fill="#6f9ff0" />
<rect x="86.50" y="499.91" width="10.70" height="1.40" fill="#e070e0" />
<rect x="97.60" y="500.89" width="18.30" height="1.40" fill="#6f9ff0" />
<rect x="97.60" y="500.72" width="18.30" height="1.40" fill="#e070e0" />
<rect x="116.30" y="501.05" width="18.40" height="1.40" fill="#6f9ff0" />
<rect x="116.30" y="500.56" width="18.40" height="1.40" fill="#e070e0" />
<rect x="135.00" y="499.91" width="18.40" height="1.40" fill="#3cbf4e" />
<rect x="135.00" y="499.43" width="18.40" height="1.40" fill="#e070e0" />
<rect x="153.80" y="500.89" width="18.30" height="1.40" fill="#3cbf4e" />
<rect x="153.80" y="500.40" width="18.30" height="1.40" fill="#e070e0" />
<rect x="172.50" y="499.27" width="18.30" height="1.40" fill="#3cbf4e" />
<rect x="172.50" y="499.91" width="18.30" height="1.40" fill="#e070e0" />
<rect x="178.00" y="498.78" width="8.00" height="1.40" fill="#6f9ff0" />
<rect x="191.20" y="500.40" width="9.30" height="1.40" fill="#e070e0" />
<rect x="191.20" y="500.72" width="9.30" height="1.40" fill="#6f9ff0" />
<rect x="203.50" y="500.40" width="6.10" height="1.40" fill="#e070e0" />
<rect x="203.50" y="500.72" width="6.10" height="1.40" fill="#3cbf4e" />
<rect x="210.00" y="500.89" width="18.30" height="1.40" fill="#6f9ff0" />
<rect x="210.00" y="500.40" width="18.30" height="1.40" fill="#e070e0" />
<rect x="228.70" y="500.40" width="18.30" height="1.40" fill="#3cbf4e" />
<rect x="228.70" y="500.72" width="18.30" height="1.40" fill="#e070e0" />
<rect x="234.00" y="495.54" width="8.00" height="1.40" fill="#6f9ff0" />
<rect x="247.40" y="499.59" width="18.40" height="1.40" fill="#3cbf4e" />
<rect x="247.40" y="500.40" width="18.40" height="1.40" fill="#e070e0" />
<rect x="250.00" y="498.78" width="8.00" height="1.40" fill="#6f9ff0" />
<rect x="266.20" y="500.72" width="18.30" height="1.40" fill="#6f9ff0" />
<rect x="266.20" y="500.40" width="18.30" height="1.40" fill="#e070e0" />
<rect x="284.90" y="500.89" width="18.30" height="1.40" fill="#6f9ff0" />
<rect x="284.90" y="500.40" width="18.30" height="1.40" fill="#e070e0" />
<rect x="303.60" y="499.91" width="17.90" height="1.40" fill="#3cbf4e" />
<rect x="303.60" y="500.40" width="17.90" height="1.40" fill="#e070e0" />
<rect x="303.60" y="511.25" width="17.90" height="1.40" fill="#e070e0" />
<rect x="304.00" y="520.65" width="6.00" height="1.40" fill="#40c8cc" />
<rect x="312.00" y="519.03" width="6.00" height="1.40" fill="#6f9ff0" />
<rect x="322.40" y="500.40" width="6.60" height="1.40" fill="#e070e0" />
<rect x="322.40" y="501.05" width="6.60" height="1.40" fill="#6f9ff0" />
<rect x="331.50" y="500.40" width="9.00" height="1.40" fill="#3cbf4e" />
<rect x="331.50" y="511.74" width="9.00" height="1.40" fill="#e070e0" />
<rect x="331.50" y="518.54" width="8.50" height="1.40" fill="#40c8cc" />
<rect x="341.10" y="499.59" width="18.30" height="1.40" fill="#3cbf4e" />
<rect x="341.10" y="500.40" width="18.30" height="1.40" fill="#e070e0" />
<rect x="341.10" y="500.72" width="18.30" height="1.40" fill="#f0807a" />
<rect x="359.80" y="500.40" width="18.40" height="1.40" fill="#3cbf4e" />
<rect x="359.80" y="500.89" width="18.40" height="1.40" fill="#6f9ff0" />
<rect x="362.70" y="511.25" width="10.50" height="1.40" fill="#e070e0" />
<rect x="360.70" y="518.22" width="7.00" height="1.40" fill="#40c8cc" />
<rect x="378.60" y="500.40" width="18.30" height="1.40" fill="#e070e0" />
<rect x="378.60" y="500.08" width="18.30" height="1.40" fill="#f0807a" />
<rect x="378.60" y="504.77" width="16.80" height="1.40" fill="#3cbf4e" />
<rect x="397.30" y="500.40" width="18.30" height="1.40" fill="#e070e0" />
<rect x="397.30" y="500.89" width="18.30" height="1.40" fill="#3cbf4e" />
<rect x="416.00" y="498.13" width="18.30" height="1.40" fill="#6f9ff0" />
<rect x="416.00" y="498.78" width="18.30" height="1.40" fill="#40c8cc" />
<rect x="416.00" y="500.40" width="18.30" height="1.40" fill="#3cbf4e" />
<rect x="434.70" y="500.89" width="18.40" height="1.40" fill="#bba640" />
<rect x="434.70" y="501.53" width="18.40" height="1.40" fill="#3cbf4e" />
<rect x="434.70" y="512.06" width="17.60" height="1.40" fill="#e070e0" />
<rect x="445.00" y="518.22" width="7.00" height="1.40" fill="#6f9ff0" />
<rect x="437.00" y="519.84" width="5.00" height="1.40" fill="#40c8cc" />
<rect x="453.50" y="500.08" width="5.50" height="1.40" fill="#3cbf4e" />
<rect x="453.50" y="504.45" width="4.50" height="1.40" fill="#e070e0" />
<rect x="459.00" y="498.78" width="6.00" height="1.40" fill="#40c8cc" />
<rect x="462.00" y="499.91" width="9.00" height="1.40" fill="#6f9ff0" />
<rect x="463.00" y="501.21" width="8.00" height="1.40" fill="#e070e0" />
<rect x="465.00" y="502.02" width="6.00" height="1.40" fill="#f0807a" />
<text x="39.30" y="536.74" font-size="9.0" font-weight="normal" font-style="normal" text-anchor="end" fill="#1a1a1a" color="#1a1a1a" font-family="Liberation Sans" >0</text>
<text x="39.30" y="520.54" font-size="9.0" font-weight="normal" font-style="normal" text-anchor="end" fill="#1a1a1a" color="#1a1a1a" font-family="Liberation Sans" >1</text>
<text x="39.30" y="504.34" font-size="9.0" font-weight="normal" font-style="normal" text-anchor="end" fill="#1a1a1a" color="#1a1a1a" font-family="Liberation Sans" >2</text>
<text x="39.30" y="488.14" font-size="9.0" font-weight="normal" font-style="normal" text-anchor="end" fill="#1a1a1a" color="#1a1a1a" font-family="Liberation Sans" >3</text>
<text x="39.30" y="471.94" font-size="9.0" font-weight="normal" font-style="normal" text-anchor="end" fill="#1a1a1a" color="#1a1a1a" font-family="Liberation Sans" >4</text>
<text transform="translate(28.50,499.80) rotate(-90)" font-size="9.3" text-anchor="middle" font-family="Liberation Sans" fill="#111">Copy Number</text>
<text x="3.20" y="544.20" font-size="6.3" font-weight="normal" font-style="normal" text-anchor="start" fill="#111" color="#111" font-family="Liberation Sans" >chromosome</text>
<text x="49.55" y="544.40" font-size="6.5" font-weight="normal" font-style="normal" text-anchor="middle" fill="#111" color="#111" font-family="Liberation Sans" >1</text>
<text x="68.25" y="544.40" font-size="6.5" font-weight="normal" font-style="normal" text-anchor="middle" fill="#111" color="#111" font-family="Liberation Sans" >2</text>
<text x="86.95" y="544.40" font-size="6.5" font-weight="normal" font-style="normal" text-anchor="middle" fill="#111" color="#111" font-family="Liberation Sans" >3</text>
<text x="105.65" y="544.40" font-size="6.5" font-weight="normal" font-style="normal" text-anchor="middle" fill="#111" color="#111" font-family="Liberation Sans" >4</text>
<text x="124.35" y="544.40" font-size="6.5" font-weight="normal" font-style="normal" text-anchor="middle" fill="#111" color="#111" font-family="Liberation Sans" >5</text>
<text x="143.05" y="544.40" font-size="6.5" font-weight="normal" font-style="normal" text-anchor="middle" fill="#111" color="#111" font-family="Liberation Sans" >6</text>
<text x="161.75" y="544.40" font-size="6.5" font-weight="normal" font-style="normal" text-anchor="middle" fill="#111" color="#111" font-family="Liberation Sans" >7</text>
<text x="180.45" y="544.40" font-size="6.5" font-weight="normal" font-style="normal" text-anchor="middle" fill="#111" color="#111" font-family="Liberation Sans" >8</text>
<text x="199.15" y="544.40" font-size="6.5" font-weight="normal" font-style="normal" text-anchor="middle" fill="#111" color="#111" font-family="Liberation Sans" >9</text>
<text x="217.85" y="544.40" font-size="6.5" font-weight="normal" font-style="normal" text-anchor="middle" fill="#111" color="#111" font-family="Liberation Sans" >10</text>
<text x="236.55" y="544.40" font-size="6.5" font-weight="normal" font-style="normal" text-anchor="middle" fill="#111" color="#111" font-family="Liberation Sans" >11</text>
<text x="255.25" y="544.40" font-size="6.5" font-weight="normal" font-style="normal" text-anchor="middle" fill="#111" color="#111" font-family="Liberation Sans" >12</text>
<text x="273.95" y="544.40" font-size="6.5" font-weight="normal" font-style="normal" text-anchor="middle" fill="#111" color="#111" font-family="Liberation Sans" >13</text>
<text x="292.65" y="544.40" font-size="6.5" font-weight="normal" font-style="normal" text-anchor="middle" fill="#111" color="#111" font-family="Liberation Sans" >14</text>
<text x="311.35" y="544.40" font-size="6.5" font-weight="normal" font-style="normal" text-anchor="middle" fill="#111" color="#111" font-family="Liberation Sans" >15</text>
<text x="330.05" y="544.40" font-size="6.5" font-weight="normal" font-style="normal" text-anchor="middle" fill="#111" color="#111" font-family="Liberation Sans" >16</text>
<text x="348.75" y="544.40" font-size="6.5" font-weight="normal" font-style="normal" text-anchor="middle" fill="#111" color="#111" font-family="Liberation Sans" >17</text>
<text x="367.45" y="544.40" font-size="6.5" font-weight="normal" font-style="normal" text-anchor="middle" fill="#111" color="#111" font-family="Liberation Sans" >18</text>
<text x="386.15" y="544.40" font-size="6.5" font-weight="normal" font-style="normal" text-anchor="middle" fill="#111" color="#111" font-family="Liberation Sans" >19</text>
<text x="404.85" y="544.40" font-size="6.5" font-weight="normal" font-style="normal" text-anchor="middle" fill="#111" color="#111" font-family="Liberation Sans" >20</text>
<text x="423.55" y="544.40" font-size="6.5" font-weight="normal" font-style="normal" text-anchor="middle" fill="#111" color="#111" font-family="Liberation Sans" >21</text>
<text x="442.25" y="544.40" font-size="6.5" font-weight="normal" font-style="normal" text-anchor="middle" fill="#111" color="#111" font-family="Liberation Sans" >22</text>
<text x="460.95" y="544.40" font-size="6.5" font-weight="normal" font-style="normal" text-anchor="middle" fill="#111" color="#111" font-family="Liberation Sans" >X</text>
<line x1="55.20" y1="548.80" x2="88.33" y2="572.39" stroke="#111" stroke-width="0.8" />
<path d="M92.00,575.00 L86.91,573.53 L88.94,570.67 Z" fill="#111"/>
<line x1="91.10" y1="547.30" x2="200.64" y2="575.19" stroke="#111" stroke-width="0.8" />
<path d="M205.00,576.30 L199.72,576.76 L200.59,573.37 Z" fill="#111"/>
<line x1="334.70" y1="548.50" x2="360.56" y2="573.47" stroke="#111" stroke-width="0.8" />
<path d="M363.80,576.60 L358.99,574.39 L361.42,571.87 Z" fill="#111"/>
<text x="495.50" y="456.70" font-size="12.4" font-weight="bold" font-style="normal" text-anchor="start" fill="#000" color="#000" font-family="Liberation Sans" >Patient B</text>
<rect x="493.90" y="462.50" width="11.00" height="78.30" fill="#f0f0f0" />
<line x1="495.00" y1="468.40" x2="504.00" y2="468.40" stroke="#f0807a" stroke-width="1.0" />
<text x="507.70" y="471.50" font-size="9.45" font-weight="normal" font-style="normal" text-anchor="start" fill="#111" color="#111" font-family="Liberation Sans" >Buffy coat</text>
<line x1="495.00" y1="481.62" x2="504.00" y2="481.62" stroke="#bba640" stroke-width="1.0" />
<text x="507.70" y="484.72" font-size="9.45" font-weight="normal" font-style="normal" text-anchor="start" fill="#111" color="#111" font-family="Liberation Sans" >CD45+ normal BMCs</text>
<line x1="495.00" y1="494.84" x2="504.00" y2="494.84" stroke="#3cbf4e" stroke-width="1.0" />
<text x="507.70" y="497.94" font-size="9.45" font-weight="normal" font-style="normal" text-anchor="start" fill="#111" color="#111" font-family="Liberation Sans" >CD45+ normal BMCs (repeat)</text>
<line x1="495.00" y1="508.06" x2="504.00" y2="508.06" stroke="#40c8cc" stroke-width="1.0" />
<text x="507.70" y="511.16" font-size="9.45" font-weight="normal" font-style="normal" text-anchor="start" fill="#111" color="#111" font-family="Liberation Sans" >Bone marrow DTCs</text>
<line x1="495.00" y1="521.28" x2="504.00" y2="521.28" stroke="#6f9ff0" stroke-width="1.0" />
<text x="507.70" y="524.38" font-size="9.45" font-weight="normal" font-style="normal" text-anchor="start" fill="#111" color="#111" font-family="Liberation Sans" >Bone marrow DTCs (repeat)</text>
<line x1="495.00" y1="534.50" x2="504.00" y2="534.50" stroke="#e070e0" stroke-width="1.0" />
<text x="507.70" y="537.60" font-size="9.45" font-weight="normal" font-style="normal" text-anchor="start" fill="#111" color="#111" font-family="Liberation Sans" >Primary tumor</text>
<text x="482.10" y="553.10" font-size="9.45" font-family="Liberation Sans" fill="#111" text-decoration="underline">Pearson correlation coefficient (<tspan font-style="italic">r</tspan>):</text>
<text x="482.10" y="563.60" font-size="9.45" font-weight="normal" font-style="normal" text-anchor="start" fill="#111" color="#111" font-family="Liberation Sans" >0.48</text>
<text x="513.60" y="563.60" font-size="9.45" font-weight="normal" font-style="normal" text-anchor="start" fill="#111" color="#111" font-family="Liberation Sans" >DTCs vs. primary tumor</text>
<text x="482.10" y="575.00" font-size="9.45" font-weight="normal" font-style="normal" text-anchor="start" fill="#111" color="#111" font-family="Liberation Sans" >-0.02</text>
<text x="513.60" y="575.00" font-size="9.45" font-weight="normal" font-style="normal" text-anchor="start" fill="#111" color="#111" font-family="Liberation Sans" >DTCs vs. CD45+ normal BMCs</text>
<rect x="68.50" y="589.90" width="93.00" height="75.90" fill="#ebebeb" />
<line x1="68.50" y1="664.50" x2="161.50" y2="664.50" stroke="#ffffff" stroke-width="1.3" />
<line x1="68.50" y1="656.08" x2="161.50" y2="656.08" stroke="#ffffff" stroke-width="0.8" />
<line x1="68.50" y1="647.65" x2="161.50" y2="647.65" stroke="#ffffff" stroke-width="1.3" />
<line x1="68.50" y1="639.23" x2="161.50" y2="639.23" stroke="#ffffff" stroke-width="0.8" />
<line x1="68.50" y1="630.80" x2="161.50" y2="630.80" stroke="#ffffff" stroke-width="1.3" />
<line x1="68.50" y1="622.38" x2="161.50" y2="622.38" stroke="#ffffff" stroke-width="0.8" />
<line x1="68.50" y1="613.95" x2="161.50" y2="613.95" stroke="#ffffff" stroke-width="1.3" />
<line x1="68.50" y1="605.52" x2="161.50" y2="605.52" stroke="#ffffff" stroke-width="0.8" />
<line x1="68.50" y1="597.10" x2="161.50" y2="597.10" stroke="#ffffff" stroke-width="1.3" />
<line x1="78.30" y1="589.90" x2="78.30" y2="665.80" stroke="#ffffff" stroke-width="1.0" />
<line x1="87.60" y1="589.90" x2="87.60" y2="665.80" stroke="#ffffff" stroke-width="1.0" />
<line x1="96.90" y1="589.90" x2="96.90" y2="665.80" stroke="#ffffff" stroke-width="1.0" />
<line x1="106.20" y1="589.90" x2="106.20" y2="665.80" stroke="#ffffff" stroke-width="1.0" />
<line x1="115.50" y1="589.90" x2="115.50" y2="665.80" stroke="#ffffff" stroke-width="1.0" />
<line x1="124.80" y1="589.90" x2="124.80" y2="665.80" stroke="#ffffff" stroke-width="1.0" />
<line x1="134.10" y1="589.90" x2="134.10" y2="665.80" stroke="#ffffff" stroke-width="1.0" />
<line x1="143.40" y1="589.90" x2="143.40" y2="665.80" stroke="#ffffff" stroke-width="1.0" />
<line x1="152.70" y1="589.90" x2="152.70" y2="665.80" stroke="#ffffff" stroke-width="1.0" />
<rect x="88.20" y="650.80" width="1.40" height="1.40" fill="#40c8cc" opacity="0.55"/>
<rect x="88.18" y="644.83" width="1.40" height="1.40" fill="#40c8cc" opacity="0.55"/>
<rect x="76.43" y="651.76" width="1.40" height="1.40" fill="#6f9ff0" opacity="0.55"/>
<rect x="95.31" y="658.35" width="1.40" height="1.40" fill="#40c8cc" opacity="0.55"/>
<rect x="81.65" y="660.28" width="1.40" height="1.40" fill="#6f9ff0" opacity="0.55"/>
<rect x="96.22" y="650.08" width="1.40" height="1.40" fill="#40c8cc" opacity="0.55"/>
<rect x="110.75" y="648.89" width="1.40" height="1.40" fill="#6f9ff0" opacity="0.55"/>
<rect x="96.90" y="649.52" width="1.40" height="1.40" fill="#6f9ff0" opacity="0.55"/>
<rect x="71.08" y="661.39" width="1.40" height="1.40" fill="#40c8cc" opacity="0.55"/>
<rect x="94.68" y="646.38" width="1.40" height="1.40" fill="#40c8cc" opacity="0.55"/>
<rect x="87.68" y="645.08" width="1.40" height="1.40" fill="#6f9ff0" opacity="0.55"/>
<rect x="78.58" y="656.17" width="1.40" height="1.40" fill="#40c8cc" opacity="0.55"/>
<rect x="97.45" y="652.87" width="1.40" height="1.40" fill="#40c8cc" opacity="0.55"/>
<rect x="86.20" y="650.97" width="1.40" height="1.40" fill="#40c8cc" opacity="0.55"/>
<rect x="99.44" y="655.74" width="1.40" height="1.40" fill="#40c8cc" opacity="0.55"/>
<rect x="90.87" y="661.51" width="1.40" height="1.40" fill="#6f9ff0" opacity="0.55"/>
<rect x="102.02" y="654.02" width="1.40" height="1.40" fill="#40c8cc" opacity="0.55"/>
<rect x="85.31" y="642.74" width="1.40" height="1.40" fill="#6f9ff0" opacity="0.55"/>
<rect x="68.32" y="657.87" width="1.40" height="1.40" fill="#40c8cc" opacity="0.55"/>
<rect x="88.98" y="642.29" width="1.40" height="1.40" fill="#40c8cc" opacity="0.55"/>
<rect x="86.77" y="650.67" width="1.40" height="1.40" fill="#40c8cc" opacity="0.55"/>
<rect x="102.55" y="656.66" width="1.40" height="1.40" fill="#40c8cc" opacity="0.55"/>
<rect x="81.99" y="661.81" width="1.40" height="1.40" fill="#40c8cc" opacity="0.55"/>
<rect x="101.65" y="659.73" width="1.40" height="1.40" fill="#40c8cc" opacity="0.55"/>
<rect x="99.41" y="661.89" width="1.40" height="1.40" fill="#40c8cc" opacity="0.55"/>
<rect x="103.37" y="658.52" width="1.40" height="1.40" fill="#6f9ff0" opacity="0.55"/>
<rect x="74.20" y="648.82" width="2.80" height="1.70" fill="#6f9ff0" />
<rect x="78.90" y="654.05" width="6.60" height="1.70" fill="#6f9ff0" />
<rect x="88.40" y="648.82" width="4.70" height="1.70" fill="#6f9ff0" />
<rect x="93.10" y="644.61" width="3.80" height="1.70" fill="#6f9ff0" />
<rect x="98.80" y="651.01" width="2.90" height="1.70" fill="#6f9ff0" />
<rect x="103.60" y="653.54" width="2.80" height="1.70" fill="#6f9ff0" />
<rect x="107.40" y="642.59" width="2.80" height="1.70" fill="#6f9ff0" />
<rect x="109.30" y="651.86" width="2.80" height="1.70" fill="#6f9ff0" />
<rect x="70.00" y="644.27" width="2.00" height="1.70" fill="#6f9ff0" />
<rect x="69.00" y="642.59" width="2.00" height="1.70" fill="#6f9ff0" />
<rect x="76.69" y="629.95" width="1.20" height="1.40" fill="#40c8cc" opacity="0.55"/>
<rect x="86.85" y="632.06" width="1.20" height="1.40" fill="#6f9ff0" opacity="0.55"/>
<rect x="86.91" y="634.94" width="1.20" height="1.40" fill="#6f9ff0" opacity="0.55"/>
<rect x="106.43" y="622.10" width="1.20" height="1.40" fill="#6f9ff0" opacity="0.55"/>
<rect x="112.31" y="638.19" width="1.20" height="1.40" fill="#40c8cc" opacity="0.55"/>
<rect x="85.75" y="624.13" width="1.20" height="1.40" fill="#40c8cc" opacity="0.55"/>
<rect x="70.25" y="636.06" width="1.20" height="1.40" fill="#6f9ff0" opacity="0.55"/>
<rect x="79.76" y="625.51" width="1.20" height="1.40" fill="#6f9ff0" opacity="0.55"/>
<rect x="104.93" y="632.02" width="1.20" height="1.40" fill="#40c8cc" opacity="0.55"/>
<rect x="72.37" y="628.71" width="1.20" height="1.40" fill="#40c8cc" opacity="0.55"/>
<rect x="69.08" y="632.31" width="1.20" height="1.40" fill="#6f9ff0" opacity="0.55"/>
<rect x="74.00" y="628.63" width="1.20" height="1.40" fill="#40c8cc" opacity="0.55"/>
<rect x="106.53" y="635.44" width="1.20" height="1.40" fill="#40c8cc" opacity="0.55"/>
<rect x="82.08" y="634.68" width="1.20" height="1.40" fill="#40c8cc" opacity="0.55"/>
<rect x="100.32" y="635.85" width="1.20" height="1.40" fill="#40c8cc" opacity="0.55"/>
<rect x="147.51" y="614.30" width="1.20" height="1.40" fill="#6f9ff0" opacity="0.55"/>
<rect x="144.33" y="613.24" width="1.20" height="1.40" fill="#40c8cc" opacity="0.55"/>
<rect x="125.54" y="610.33" width="1.20" height="1.40" fill="#6f9ff0" opacity="0.55"/>
<rect x="130.46" y="604.17" width="1.20" height="1.40" fill="#6f9ff0" opacity="0.55"/>
<rect x="137.39" y="597.76" width="1.20" height="1.40" fill="#6f9ff0" opacity="0.55"/>
<rect x="132.55" y="621.11" width="1.20" height="1.40" fill="#40c8cc" opacity="0.55"/>
<rect x="126.20" y="611.39" width="1.20" height="1.40" fill="#40c8cc" opacity="0.55"/>
<rect x="132.05" y="597.36" width="1.20" height="1.40" fill="#40c8cc" opacity="0.55"/>
<rect x="149.86" y="624.52" width="1.20" height="1.40" fill="#6f9ff0" opacity="0.55"/>
<rect x="138.34" y="624.79" width="1.20" height="1.40" fill="#40c8cc" opacity="0.55"/>
<rect x="132.11" y="609.73" width="1.20" height="1.40" fill="#40c8cc" opacity="0.55"/>
<rect x="124.90" y="622.30" width="1.20" height="1.40" fill="#6f9ff0" opacity="0.55"/>
<rect x="158.66" y="605.70" width="1.20" height="1.40" fill="#40c8cc" opacity="0.55"/>
<rect x="143.82" y="597.16" width="1.20" height="1.40" fill="#6f9ff0" opacity="0.55"/>
<rect x="155.99" y="604.29" width="1.20" height="1.40" fill="#40c8cc" opacity="0.55"/>
<rect x="122.21" y="606.36" width="1.20" height="1.40" fill="#6f9ff0" opacity="0.55"/>
<rect x="123.96" y="616.77" width="1.20" height="1.40" fill="#40c8cc" opacity="0.55"/>
<rect x="159.38" y="624.32" width="1.20" height="1.40" fill="#6f9ff0" opacity="0.55"/>
<rect x="68.80" y="629.92" width="16.70" height="1.75" fill="#bba640" />
<rect x="68.80" y="631.10" width="16.70" height="1.75" fill="#3cbf4e" />
<rect x="85.50" y="629.92" width="27.60" height="1.75" fill="#bba640" />
<rect x="85.50" y="628.91" width="27.60" height="1.75" fill="#3cbf4e" />
<rect x="68.80" y="640.37" width="42.90" height="1.75" fill="#e070e0" />
<rect x="122.00" y="604.99" width="15.70" height="1.75" fill="#e070e0" />
<rect x="137.70" y="606.67" width="22.80" height="1.75" fill="#e070e0" />
<rect x="122.00" y="610.04" width="6.50" height="1.75" fill="#40c8cc" />
<rect x="122.00" y="611.39" width="7.50" height="1.75" fill="#6f9ff0" />
<rect x="131.00" y="611.39" width="3.00" height="1.75" fill="#6f9ff0" />
<rect x="141.50" y="609.37" width="11.50" height="1.75" fill="#6f9ff0" />
<rect x="155.00" y="609.71" width="5.00" height="1.75" fill="#6f9ff0" />
<rect x="122.00" y="629.42" width="38.80" height="1.75" fill="#3cbf4e" />
<rect x="140.00" y="621.50" width="4.00" height="1.75" fill="#6f9ff0" />
<text x="115.00" y="587.10" font-size="9.45" font-weight="normal" font-style="normal" text-anchor="middle" fill="#111" color="#111" font-family="Liberation Sans" >Chromosome 1</text>
<text x="65.70" y="667.74" font-size="9.0" font-weight="normal" font-style="normal" text-anchor="end" fill="#1a1a1a" color="#1a1a1a" font-family="Liberation Sans" >0</text>
<text x="65.70" y="650.89" font-size="9.0" font-weight="normal" font-style="normal" text-anchor="end" fill="#1a1a1a" color="#1a1a1a" font-family="Liberation Sans" >1</text>
<text x="65.70" y="634.04" font-size="9.0" font-weight="normal" font-style="normal" text-anchor="end" fill="#1a1a1a" color="#1a1a1a" font-family="Liberation Sans" >2</text>
<text x="65.70" y="617.19" font-size="9.0" font-weight="normal" font-style="normal" text-anchor="end" fill="#1a1a1a" color="#1a1a1a" font-family="Liberation Sans" >3</text>
<text x="65.70" y="600.34" font-size="9.0" font-weight="normal" font-style="normal" text-anchor="end" fill="#1a1a1a" color="#1a1a1a" font-family="Liberation Sans" >4</text>
<text transform="translate(53.40,629.80) rotate(-90)" font-size="9.3" text-anchor="middle" font-family="Liberation Sans" fill="#111">Copy Number</text>
<rect x="199.40" y="589.90" width="92.10" height="75.90" fill="#ebebeb" />
<line x1="199.40" y1="664.50" x2="291.50" y2="664.50" stroke="#ffffff" stroke-width="1.3" />
<line x1="199.40" y1="656.08" x2="291.50" y2="656.08" stroke="#ffffff" stroke-width="0.8" />
<line x1="199.40" y1="647.65" x2="291.50" y2="647.65" stroke="#ffffff" stroke-width="1.3" />
<line x1="199.40" y1="639.23" x2="291.50" y2="639.23" stroke="#ffffff" stroke-width="0.8" />
<line x1="199.40" y1="630.80" x2="291.50" y2="630.80" stroke="#ffffff" stroke-width="1.3" />
<line x1="199.40" y1="622.38" x2="291.50" y2="622.38" stroke="#ffffff" stroke-width="0.8" />
<line x1="199.40" y1="613.95" x2="291.50" y2="613.95" stroke="#ffffff" stroke-width="1.3" />
<line x1="199.40" y1="605.52" x2="291.50" y2="605.52" stroke="#ffffff" stroke-width="0.8" />
<line x1="199.40" y1="597.10" x2="291.50" y2="597.10" stroke="#ffffff" stroke-width="1.3" />
<line x1="211.40" y1="589.90" x2="211.40" y2="665.80" stroke="#ffffff" stroke-width="1.0" />
<line x1="222.90" y1="589.90" x2="222.90" y2="665.80" stroke="#ffffff" stroke-width="1.0" />
<line x1="234.40" y1="589.90" x2="234.40" y2="665.80" stroke="#ffffff" stroke-width="1.0" />
<line x1="245.90" y1="589.90" x2="245.90" y2="665.80" stroke="#ffffff" stroke-width="1.0" />
<line x1="257.40" y1="589.90" x2="257.40" y2="665.80" stroke="#ffffff" stroke-width="1.0" />
<line x1="268.90" y1="589.90" x2="268.90" y2="665.80" stroke="#ffffff" stroke-width="1.0" />
<line x1="280.40" y1="589.90" x2="280.40" y2="665.80" stroke="#ffffff" stroke-width="1.0" />
<rect x="265.73" y="602.79" width="1.20" height="1.40" fill="#6f9ff0" opacity="0.55"/>
<rect x="265.74" y="652.14" width="1.20" height="1.40" fill="#40c8cc" opacity="0.55"/>
<rect x="231.07" y="616.56" width="1.20" height="1.40" fill="#40c8cc" opacity="0.55"/>
<rect x="277.80" y="633.72" width="1.20" height="1.40" fill="#40c8cc" opacity="0.55"/>
<rect x="277.11" y="623.75" width="1.20" height="1.40" fill="#6f9ff0" opacity="0.55"/>
<rect x="259.00" y="636.15" width="1.20" height="1.40" fill="#40c8cc" opacity="0.55"/>
<rect x="254.20" y="655.29" width="1.20" height="1.40" fill="#6f9ff0" opacity="0.55"/>
<rect x="209.80" y="643.96" width="1.20" height="1.40" fill="#40c8cc" opacity="0.55"/>
<rect x="264.94" y="635.56" width="1.20" height="1.40" fill="#6f9ff0" opacity="0.55"/>
<rect x="261.87" y="631.12" width="1.20" height="1.40" fill="#40c8cc" opacity="0.55"/>
<rect x="274.85" y="655.07" width="1.20" height="1.40" fill="#6f9ff0" opacity="0.55"/>
<rect x="202.08" y="621.93" width="1.20" height="1.40" fill="#40c8cc" opacity="0.55"/>
<rect x="201.41" y="599.13" width="1.20" height="1.40" fill="#40c8cc" opacity="0.55"/>
<rect x="244.15" y="621.08" width="1.20" height="1.40" fill="#40c8cc" opacity="0.55"/>
<rect x="222.42" y="659.71" width="1.20" height="1.40" fill="#40c8cc" opacity="0.55"/>
<rect x="212.29" y="621.26" width="1.20" height="1.40" fill="#6f9ff0" opacity="0.55"/>
<rect x="214.66" y="602.44" width="1.20" height="1.40" fill="#6f9ff0" opacity="0.55"/>
<rect x="283.13" y="628.52" width="1.20" height="1.40" fill="#40c8cc" opacity="0.55"/>
<rect x="228.83" y="617.79" width="1.20" height="1.40" fill="#40c8cc" opacity="0.55"/>
<rect x="256.48" y="608.97" width="1.20" height="1.40" fill="#40c8cc" opacity="0.55"/>
<rect x="278.62" y="635.82" width="1.20" height="1.40" fill="#6f9ff0" opacity="0.55"/>
<rect x="282.27" y="646.99" width="1.20" height="1.40" fill="#40c8cc" opacity="0.55"/>
<rect x="244.08" y="606.83" width="1.20" height="1.40" fill="#40c8cc" opacity="0.55"/>
<rect x="263.41" y="599.60" width="1.20" height="1.40" fill="#40c8cc" opacity="0.55"/>
<rect x="273.37" y="653.21" width="1.20" height="1.40" fill="#40c8cc" opacity="0.55"/>
<rect x="210.21" y="651.06" width="1.60" height="1.60" fill="#6f9ff0" opacity="0.55"/>
<rect x="214.50" y="647.46" width="1.60" height="1.60" fill="#6f9ff0" opacity="0.55"/>
<rect x="227.85" y="643.66" width="1.60" height="1.60" fill="#6f9ff0" opacity="0.55"/>
<rect x="212.01" y="643.82" width="1.60" height="1.60" fill="#6f9ff0" opacity="0.55"/>
<rect x="234.11" y="653.10" width="1.60" height="1.60" fill="#6f9ff0" opacity="0.55"/>
<rect x="222.02" y="649.94" width="1.60" height="1.60" fill="#40c8cc" opacity="0.55"/>
<rect x="224.84" y="648.81" width="1.60" height="1.60" fill="#40c8cc" opacity="0.55"/>
<rect x="200.19" y="643.80" width="1.60" height="1.60" fill="#40c8cc" opacity="0.55"/>
<rect x="230.37" y="644.19" width="1.60" height="1.60" fill="#40c8cc" opacity="0.55"/>
<rect x="217.06" y="646.16" width="1.60" height="1.60" fill="#6f9ff0" opacity="0.55"/>
<rect x="237.54" y="645.52" width="1.60" height="1.60" fill="#40c8cc" opacity="0.55"/>
<rect x="232.15" y="650.57" width="1.60" height="1.60" fill="#40c8cc" opacity="0.55"/>
<rect x="229.40" y="647.28" width="1.60" height="1.60" fill="#40c8cc" opacity="0.55"/>
<rect x="206.36" y="650.38" width="1.60" height="1.60" fill="#6f9ff0" opacity="0.55"/>
<rect x="267.57" y="622.65" width="1.60" height="1.60" fill="#40c8cc" opacity="0.55"/>
<rect x="260.70" y="625.78" width="1.60" height="1.60" fill="#40c8cc" opacity="0.55"/>
<rect x="246.30" y="622.94" width="1.60" height="1.60" fill="#6f9ff0" opacity="0.55"/>
<rect x="248.31" y="632.62" width="1.60" height="1.60" fill="#40c8cc" opacity="0.55"/>
<rect x="259.91" y="630.29" width="1.60" height="1.60" fill="#6f9ff0" opacity="0.55"/>
<rect x="263.99" y="628.63" width="1.60" height="1.60" fill="#40c8cc" opacity="0.55"/>
<rect x="246.85" y="624.28" width="1.60" height="1.60" fill="#40c8cc" opacity="0.55"/>
<rect x="252.22" y="623.60" width="1.60" height="1.60" fill="#40c8cc" opacity="0.55"/>
<rect x="288.14" y="630.94" width="1.60" height="1.60" fill="#6f9ff0" opacity="0.55"/>
<rect x="254.51" y="627.27" width="1.60" height="1.60" fill="#40c8cc" opacity="0.55"/>
<rect x="258.58" y="640.12" width="1.60" height="1.60" fill="#6f9ff0" opacity="0.55"/>
<rect x="258.28" y="633.27" width="1.60" height="1.60" fill="#6f9ff0" opacity="0.55"/>
<rect x="265.11" y="641.22" width="1.60" height="1.60" fill="#40c8cc" opacity="0.55"/>
<rect x="262.36" y="641.09" width="1.60" height="1.60" fill="#6f9ff0" opacity="0.55"/>
<rect x="199.40" y="629.59" width="41.20" height="1.75" fill="#3cbf4e" />
<rect x="200.50" y="630.77" width="6.00" height="1.75" fill="#e070e0" />
<rect x="201.00" y="628.24" width="6.00" height="1.75" fill="#6f9ff0" />
<rect x="203.00" y="623.52" width="4.50" height="1.75" fill="#40c8cc" />
<rect x="207.60" y="640.88" width="33.00" height="1.75" fill="#e070e0" />
<rect x="220.30" y="648.46" width="12.30" height="1.75" fill="#40c8cc" />
<rect x="220.30" y="647.62" width="12.30" height="1.75" fill="#6f9ff0" />
<rect x="234.00" y="649.30" width="4.00" height="1.75" fill="#40c8cc" />
<rect x="234.00" y="646.77" width="4.00" height="1.75" fill="#6f9ff0" />
<rect x="210.00" y="646.77" width="4.00" height="1.75" fill="#6f9ff0" />
<rect x="213.00" y="650.99" width="3.00" height="1.75" fill="#40c8cc" />
<rect x="216.00" y="650.14" width="4.00" height="1.75" fill="#6f9ff0" />
<rect x="243.00" y="629.59" width="47.50" height="1.75" fill="#e070e0" />
<rect x="243.00" y="629.08" width="7.00" height="1.75" fill="#6f9ff0" />
<rect x="251.00" y="626.55" width="7.00" height="1.75" fill="#6f9ff0" />
<rect x="262.00" y="627.90" width="8.00" height="1.75" fill="#6f9ff0" />
<rect x="272.00" y="628.24" width="4.00" height="1.75" fill="#6f9ff0" />
<rect x="281.00" y="632.45" width="4.00" height="1.75" fill="#40c8cc" />
<rect x="284.00" y="628.24" width="6.00" height="1.75" fill="#40c8cc" />
<rect x="276.00" y="634.14" width="5.00" height="1.75" fill="#6f9ff0" />
<text x="245.40" y="587.10" font-size="9.45" font-weight="normal" font-style="normal" text-anchor="middle" fill="#111" color="#111" font-family="Liberation Sans" >Chromosome 3</text>
<text x="196.80" y="667.74" font-size="9.0" font-weight="normal" font-style="normal" text-anchor="end" fill="#1a1a1a" color="#1a1a1a" font-family="Liberation Sans" >0</text>
<text x="196.80" y="650.89" font-size="9.0" font-weight="normal" font-style="normal" text-anchor="end" fill="#1a1a1a" color="#1a1a1a" font-family="Liberation Sans" >1</text>
<text x="196.80" y="634.04" font-size="9.0" font-weight="normal" font-style="normal" text-anchor="end" fill="#1a1a1a" color="#1a1a1a" font-family="Liberation Sans" >2</text>
<text x="196.80" y="617.19" font-size="9.0" font-weight="normal" font-style="normal" text-anchor="end" fill="#1a1a1a" color="#1a1a1a" font-family="Liberation Sans" >3</text>
<text x="196.80" y="600.34" font-size="9.0" font-weight="normal" font-style="normal" text-anchor="end" fill="#1a1a1a" color="#1a1a1a" font-family="Liberation Sans" >4</text>
<text transform="translate(187.20,629.80) rotate(-90)" font-size="9.3" text-anchor="middle" font-family="Liberation Sans" fill="#111">Copy Number</text>
<rect x="325.50" y="589.20" width="94.00" height="75.90" fill="#ebebeb" />
<line x1="325.50" y1="663.90" x2="419.50" y2="663.90" stroke="#ffffff" stroke-width="1.3" />
<line x1="325.50" y1="655.38" x2="419.50" y2="655.38" stroke="#ffffff" stroke-width="0.8" />
<line x1="325.50" y1="646.85" x2="419.50" y2="646.85" stroke="#ffffff" stroke-width="1.3" />
<line x1="325.50" y1="638.32" x2="419.50" y2="638.32" stroke="#ffffff" stroke-width="0.8" />
<line x1="325.50" y1="629.80" x2="419.50" y2="629.80" stroke="#ffffff" stroke-width="1.3" />
<line x1="325.50" y1="621.27" x2="419.50" y2="621.27" stroke="#ffffff" stroke-width="0.8" />
<line x1="325.50" y1="612.75" x2="419.50" y2="612.75" stroke="#ffffff" stroke-width="1.3" />
<line x1="325.50" y1="604.23" x2="419.50" y2="604.23" stroke="#ffffff" stroke-width="0.8" />
<line x1="325.50" y1="595.70" x2="419.50" y2="595.70" stroke="#ffffff" stroke-width="1.3" />
<line x1="339.95" y1="589.20" x2="339.95" y2="665.10" stroke="#ffffff" stroke-width="1.0" />
<line x1="352.50" y1="589.20" x2="352.50" y2="665.10" stroke="#ffffff" stroke-width="1.0" />
<line x1="365.05" y1="589.20" x2="365.05" y2="665.10" stroke="#ffffff" stroke-width="1.0" />
<line x1="377.60" y1="589.20" x2="377.60" y2="665.10" stroke="#ffffff" stroke-width="1.0" />
<line x1="390.15" y1="589.20" x2="390.15" y2="665.10" stroke="#ffffff" stroke-width="1.0" />
<line x1="402.70" y1="589.20" x2="402.70" y2="665.10" stroke="#ffffff" stroke-width="1.0" />
<line x1="415.25" y1="589.20" x2="415.25" y2="665.10" stroke="#ffffff" stroke-width="1.0" />
<rect x="388.57" y="600.44" width="1.20" height="1.40" fill="#6f9ff0" opacity="0.55"/>
<rect x="339.08" y="626.32" width="1.20" height="1.40" fill="#6f9ff0" opacity="0.55"/>
<rect x="412.41" y="627.88" width="1.20" height="1.40" fill="#40c8cc" opacity="0.55"/>
<rect x="395.12" y="631.32" width="1.20" height="1.40" fill="#6f9ff0" opacity="0.55"/>
<rect x="401.87" y="623.41" width="1.20" height="1.40" fill="#40c8cc" opacity="0.55"/>
<rect x="373.50" y="605.13" width="1.20" height="1.40" fill="#6f9ff0" opacity="0.55"/>
<rect x="354.08" y="635.09" width="1.20" height="1.40" fill="#40c8cc" opacity="0.55"/>
<rect x="353.41" y="650.64" width="1.20" height="1.40" fill="#6f9ff0" opacity="0.55"/>
<rect x="378.11" y="646.77" width="1.20" height="1.40" fill="#40c8cc" opacity="0.55"/>
<rect x="371.69" y="620.58" width="1.20" height="1.40" fill="#40c8cc" opacity="0.55"/>
<rect x="374.93" y="656.94" width="1.20" height="1.40" fill="#6f9ff0" opacity="0.55"/>
<rect x="375.45" y="595.69" width="1.20" height="1.40" fill="#40c8cc" opacity="0.55"/>
<rect x="370.58" y="615.02" width="1.20" height="1.40" fill="#40c8cc" opacity="0.55"/>
<rect x="411.04" y="630.06" width="1.20" height="1.40" fill="#6f9ff0" opacity="0.55"/>
<rect x="350.17" y="629.13" width="1.20" height="1.40" fill="#40c8cc" opacity="0.55"/>
<rect x="356.65" y="601.42" width="1.20" height="1.40" fill="#6f9ff0" opacity="0.55"/>
<rect x="373.70" y="652.75" width="1.20" height="1.40" fill="#6f9ff0" opacity="0.55"/>
<rect x="382.25" y="599.84" width="1.20" height="1.40" fill="#40c8cc" opacity="0.55"/>
<rect x="389.99" y="596.47" width="1.20" height="1.40" fill="#40c8cc" opacity="0.55"/>
<rect x="343.26" y="645.07" width="1.20" height="1.40" fill="#6f9ff0" opacity="0.55"/>
<rect x="326.50" y="628.92" width="32.60" height="1.75" fill="#bba640" />
<rect x="326.50" y="628.41" width="32.60" height="1.75" fill="#3cbf4e" />
<rect x="326.50" y="629.78" width="7.50" height="1.75" fill="#6f9ff0" />
<rect x="334.00" y="627.56" width="10.00" height="1.75" fill="#6f9ff0" />
<rect x="344.00" y="629.61" width="8.00" height="1.75" fill="#e070e0" />
<rect x="349.00" y="630.63" width="5.00" height="1.75" fill="#40c8cc" />
<rect x="354.00" y="631.48" width="5.00" height="1.75" fill="#6f9ff0" />
<rect x="376.50" y="628.92" width="1.50" height="1.75" fill="#e070e0" />
<rect x="377.40" y="627.90" width="40.70" height="1.75" fill="#3cbf4e" />
<rect x="395.80" y="628.92" width="22.30" height="1.75" fill="#bba640" />
<rect x="382.50" y="640.01" width="35.60" height="1.75" fill="#e070e0" />
<rect x="377.40" y="647.68" width="33.60" height="1.75" fill="#40c8cc" />
<rect x="395.80" y="649.38" width="15.20" height="1.75" fill="#6f9ff0" />
<rect x="386.00" y="650.24" width="8.50" height="1.75" fill="#6f9ff0" />
<rect x="412.00" y="644.27" width="6.10" height="1.75" fill="#40c8cc" />
<rect x="412.00" y="643.42" width="6.10" height="1.75" fill="#6f9ff0" />
<rect x="378.50" y="631.99" width="2.50" height="1.75" fill="#6f9ff0" />
<rect x="381.00" y="635.40" width="4.00" height="1.75" fill="#6f9ff0" />
<rect x="384.00" y="638.81" width="4.00" height="1.75" fill="#6f9ff0" />
<rect x="379.00" y="640.01" width="3.00" height="1.75" fill="#e070e0" />
<rect x="382.00" y="643.42" width="2.00" height="1.75" fill="#3cbf4e" />
<text x="371.10" y="587.10" font-size="9.45" font-weight="normal" font-style="normal" text-anchor="middle" fill="#111" color="#111" font-family="Liberation Sans" >Chromosome 16</text>
<text x="323.60" y="667.14" font-size="9.0" font-weight="normal" font-style="normal" text-anchor="end" fill="#1a1a1a" color="#1a1a1a" font-family="Liberation Sans" >0</text>
<text x="323.60" y="650.09" font-size="9.0" font-weight="normal" font-style="normal" text-anchor="end" fill="#1a1a1a" color="#1a1a1a" font-family="Liberation Sans" >1</text>
<text x="323.60" y="633.04" font-size="9.0" font-weight="normal" font-style="normal" text-anchor="end" fill="#1a1a1a" color="#1a1a1a" font-family="Liberation Sans" >2</text>
<text x="323.60" y="615.99" font-size="9.0" font-weight="normal" font-style="normal" text-anchor="end" fill="#1a1a1a" color="#1a1a1a" font-family="Liberation Sans" >3</text>
<text x="323.60" y="598.94" font-size="9.0" font-weight="normal" font-style="normal" text-anchor="end" fill="#1a1a1a" color="#1a1a1a" font-family="Liberation Sans" >4</text>
<text transform="translate(315.00,629.80) rotate(-90)" font-size="9.3" text-anchor="middle" font-family="Liberation Sans" fill="#111">Copy Number</text>
<line x1="161.50" y1="582.30" x2="145.99" y2="596.44" stroke="#e8302a" stroke-width="0.8" />
<path d="M143.40,598.80 L145.21,594.85 L147.50,597.36 Z" fill="#e8302a"/>
<line x1="249.70" y1="673.40" x2="233.24" y2="657.81" stroke="#3a4ac8" stroke-width="0.8" />
<path d="M230.70,655.40 L234.77,656.92 L232.43,659.39 Z" fill="#3a4ac8"/>
<line x1="373.30" y1="675.90" x2="386.76" y2="659.69" stroke="#3a4ac8" stroke-width="0.8" />
<path d="M389.00,657.00 L387.75,661.16 L385.14,658.99 Z" fill="#3a4ac8"/></svg></body></html>
